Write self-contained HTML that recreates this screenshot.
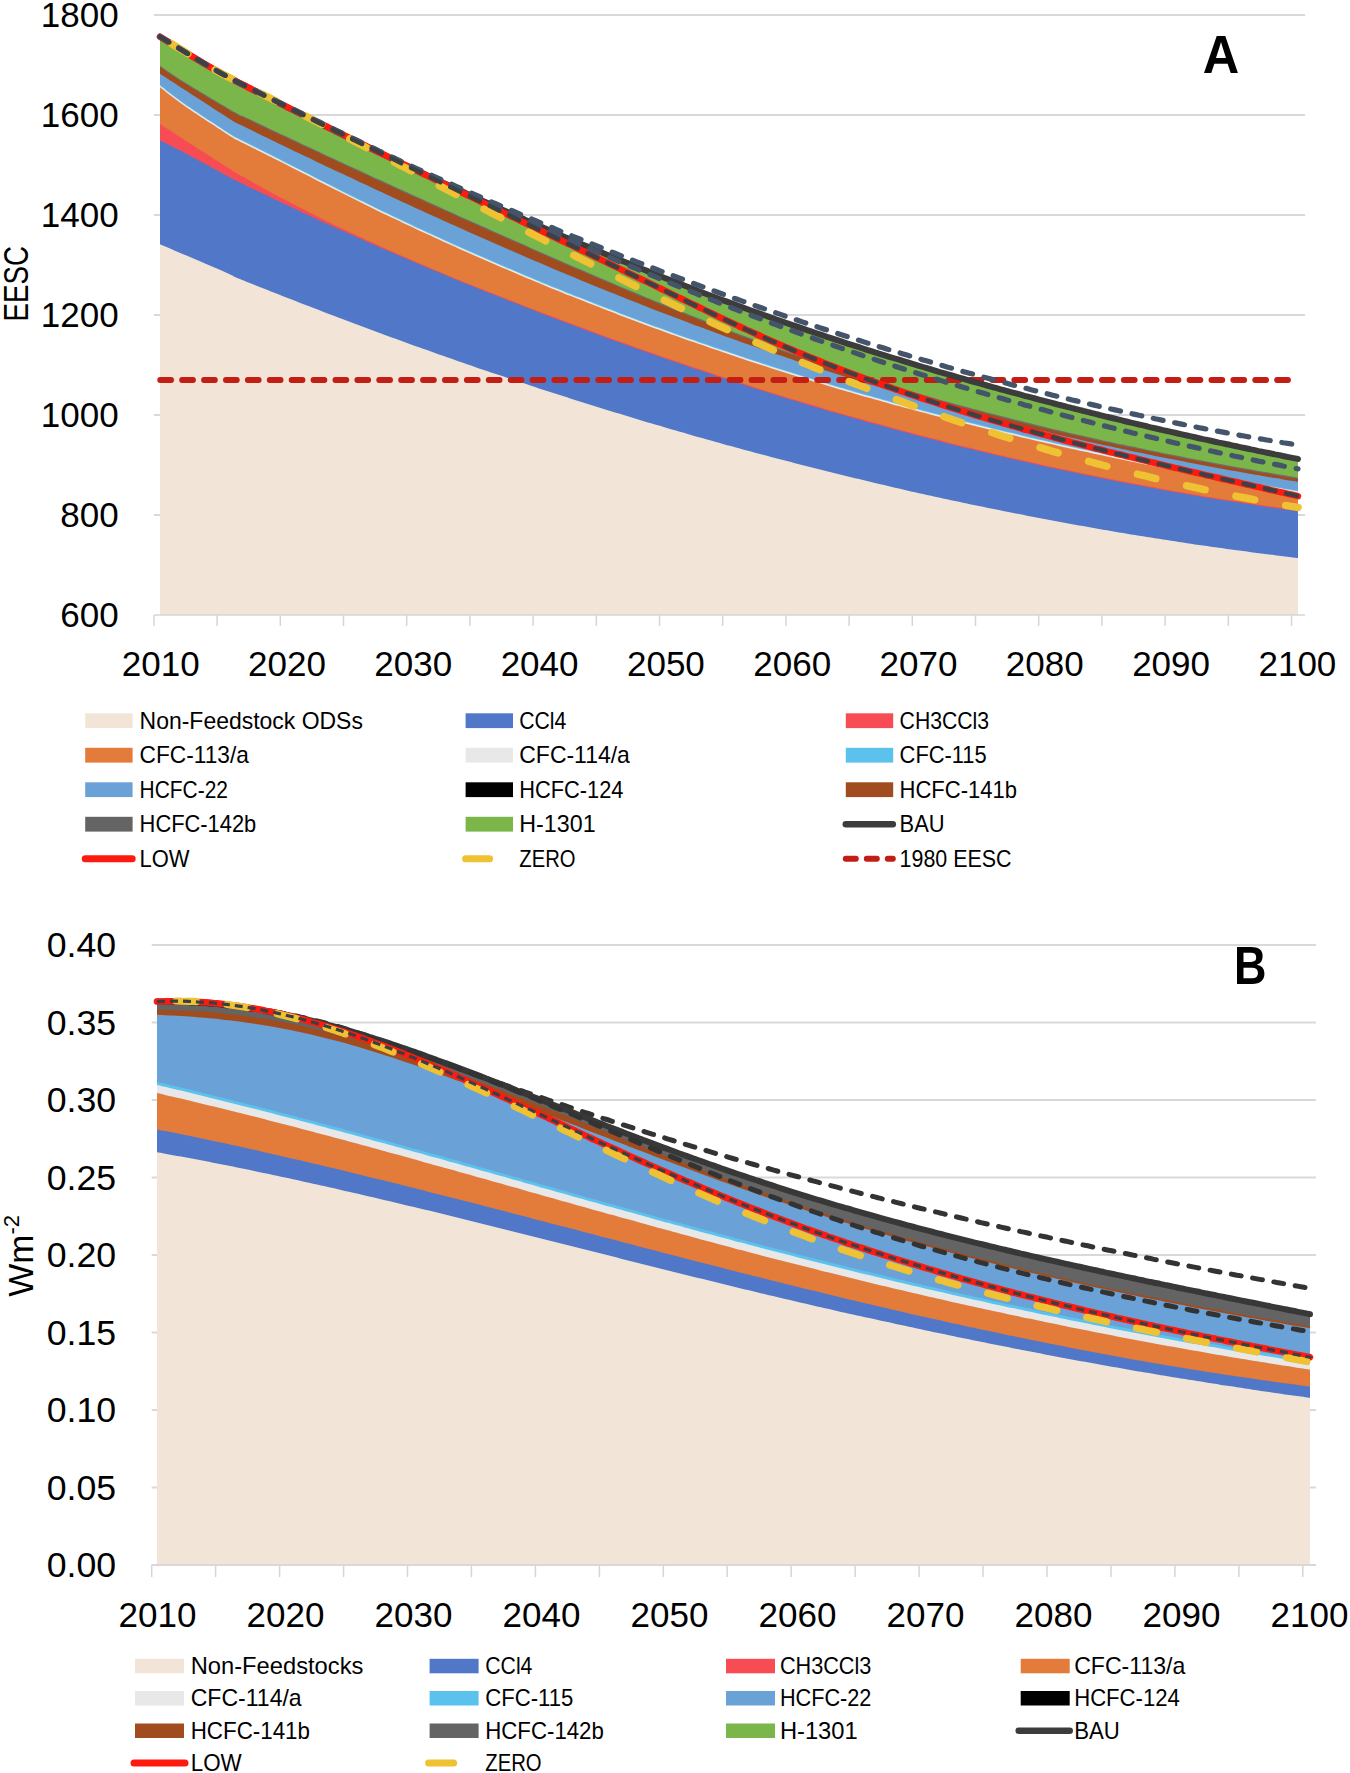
<!DOCTYPE html>
<html><head><meta charset="utf-8"><style>html,body{margin:0;padding:0;background:#fff;width:1350px;height:1773px;overflow:hidden}</style></head>
<body><svg width="1350" height="1773" viewBox="0 0 1350 1773" style="display:block;font-family:'Liberation Sans', sans-serif"><rect width="1350" height="1773" fill="#FFFFFF"/><line x1="154" y1="15" x2="1305" y2="15" stroke="#D9D9D9" stroke-width="2"/><line x1="154" y1="115" x2="1305" y2="115" stroke="#D9D9D9" stroke-width="2"/><line x1="154" y1="215" x2="1305" y2="215" stroke="#D9D9D9" stroke-width="2"/><line x1="154" y1="315" x2="1305" y2="315" stroke="#D9D9D9" stroke-width="2"/><line x1="154" y1="415" x2="1305" y2="415" stroke="#D9D9D9" stroke-width="2"/><line x1="154" y1="515" x2="1305" y2="515" stroke="#D9D9D9" stroke-width="2"/><path d="M160.0,36.7 C168.3,41.8 197.5,59.7 210.0,67.0 C222.5,74.3 229.5,77.6 235.0,80.6 C240.5,83.6 240.3,83.3 243.0,84.7 C245.7,86.1 248.3,87.5 251.0,88.8 C253.7,90.2 256.3,91.5 259.0,92.9 C261.7,94.3 264.3,95.6 267.0,97.0 C269.7,98.3 272.3,99.7 275.0,101.0 C277.7,102.4 280.3,103.7 283.0,105.1 C285.7,106.4 288.3,107.8 291.0,109.1 C293.7,110.4 296.3,111.8 299.0,113.1 C301.7,114.5 304.3,115.8 307.0,117.1 C309.7,118.5 312.3,119.8 315.0,121.1 C317.7,122.4 320.3,123.8 323.0,125.1 C325.7,126.4 328.3,127.7 331.0,129.0 C333.7,130.3 336.3,131.7 339.0,133.0 C341.7,134.3 344.3,135.6 347.0,136.9 C349.7,138.2 352.3,139.5 355.0,140.8 C357.7,142.1 360.3,143.4 363.0,144.7 C365.7,146.0 368.3,147.3 371.0,148.6 C373.7,149.8 376.3,151.1 379.0,152.4 C381.7,153.7 384.3,155.0 387.0,156.3 C389.7,157.5 392.3,158.8 395.0,160.1 C397.7,161.3 400.3,162.6 403.0,163.9 C405.7,165.1 408.3,166.4 411.0,167.7 C413.7,168.9 416.3,170.2 419.0,171.4 C421.7,172.7 424.3,173.9 427.0,175.2 C429.7,176.4 432.3,177.7 435.0,178.9 C437.7,180.2 440.3,181.4 443.0,182.7 C445.7,183.9 448.3,185.1 451.0,186.4 C453.7,187.6 456.3,188.8 459.0,190.0 C461.7,191.3 464.3,192.5 467.0,193.7 C469.7,194.9 472.3,196.1 475.0,197.3 C477.7,198.6 480.3,199.8 483.0,201.0 C485.7,202.2 488.3,203.4 491.0,204.6 C493.7,205.8 496.3,207.0 499.0,208.2 C501.7,209.4 504.3,210.5 507.0,211.7 C509.7,212.9 512.3,214.1 515.0,215.3 C517.7,216.5 520.3,217.6 523.0,218.8 C525.7,220.0 528.3,221.2 531.0,222.3 C533.7,223.5 536.3,224.7 539.0,225.8 C541.7,227.0 544.3,228.1 547.0,229.3 C549.7,230.4 552.3,231.6 555.0,232.7 C557.7,233.9 560.3,235.0 563.0,236.2 C565.7,237.3 568.3,238.4 571.0,239.6 C573.7,240.7 576.3,241.8 579.0,243.0 C581.7,244.1 584.3,245.2 587.0,246.3 C589.7,247.4 592.3,248.6 595.0,249.7 C597.7,250.8 600.3,251.9 603.0,253.0 C605.7,254.1 608.3,255.2 611.0,256.3 C613.7,257.4 616.3,258.5 619.0,259.6 C621.7,260.7 624.3,261.8 627.0,262.8 C629.7,263.9 632.3,265.0 635.0,266.1 C637.7,267.1 640.3,268.2 643.0,269.3 C645.7,270.4 648.3,271.4 651.0,272.5 C653.7,273.5 656.3,274.6 659.0,275.7 C661.7,276.7 664.3,277.8 667.0,278.8 C669.7,279.8 672.3,280.9 675.0,281.9 C677.7,283.0 680.3,284.0 683.0,285.0 C685.7,286.1 688.3,287.1 691.0,288.1 C693.7,289.1 696.3,290.1 699.0,291.2 C701.7,292.2 704.3,293.2 707.0,294.2 C709.7,295.2 712.3,296.2 715.0,297.2 C717.7,298.2 720.3,299.2 723.0,300.2 C725.7,301.2 728.3,302.2 731.0,303.1 C733.7,304.1 736.3,305.1 739.0,306.1 C741.7,307.1 744.3,308.0 747.0,309.0 C749.7,310.0 752.3,310.9 755.0,311.9 C757.7,312.8 760.3,313.8 763.0,314.7 C765.7,315.7 768.3,316.6 771.0,317.6 C773.7,318.5 776.3,319.5 779.0,320.4 C781.7,321.3 784.3,322.2 787.0,323.2 C789.7,324.1 792.3,325.0 795.0,325.9 C797.7,326.9 800.3,327.8 803.0,328.7 C805.7,329.6 808.3,330.5 811.0,331.4 C813.7,332.3 816.3,333.2 819.0,334.1 C821.7,335.0 824.3,335.9 827.0,336.8 C829.7,337.6 832.3,338.5 835.0,339.4 C837.7,340.3 840.3,341.2 843.0,342.0 C845.7,342.9 848.3,343.8 851.0,344.6 C853.7,345.5 856.3,346.3 859.0,347.2 C861.7,348.1 864.3,348.9 867.0,349.8 C869.7,350.6 872.3,351.4 875.0,352.3 C877.7,353.1 880.3,354.0 883.0,354.8 C885.7,355.6 888.3,356.5 891.0,357.3 C893.7,358.1 896.3,358.9 899.0,359.7 C901.7,360.6 904.3,361.4 907.0,362.2 C909.7,363.0 912.3,363.8 915.0,364.6 C917.7,365.4 920.3,366.2 923.0,367.0 C925.7,367.8 928.3,368.6 931.0,369.4 C933.7,370.2 936.3,371.0 939.0,371.8 C941.7,372.5 944.3,373.3 947.0,374.1 C949.7,374.9 952.3,375.6 955.0,376.4 C957.7,377.2 960.3,377.9 963.0,378.7 C965.7,379.5 968.3,380.2 971.0,381.0 C973.7,381.7 976.3,382.5 979.0,383.2 C981.7,384.0 984.3,384.7 987.0,385.5 C989.7,386.2 992.3,387.0 995.0,387.7 C997.7,388.4 1000.3,389.2 1003.0,389.9 C1005.7,390.6 1008.3,391.3 1011.0,392.1 C1013.7,392.8 1016.3,393.5 1019.0,394.2 C1021.7,394.9 1024.3,395.7 1027.0,396.4 C1029.7,397.1 1032.3,397.8 1035.0,398.5 C1037.7,399.2 1040.3,399.9 1043.0,400.6 C1045.7,401.3 1048.3,402.0 1051.0,402.7 C1053.7,403.4 1056.3,404.1 1059.0,404.8 C1061.7,405.4 1064.3,406.1 1067.0,406.8 C1069.7,407.5 1072.3,408.2 1075.0,408.8 C1077.7,409.5 1080.3,410.2 1083.0,410.8 C1085.7,411.5 1088.3,412.2 1091.0,412.8 C1093.7,413.5 1096.3,414.2 1099.0,414.8 C1101.7,415.5 1104.3,416.1 1107.0,416.8 C1109.7,417.4 1112.3,418.1 1115.0,418.7 C1117.7,419.4 1120.3,420.0 1123.0,420.7 C1125.7,421.3 1128.3,421.9 1131.0,422.6 C1133.7,423.2 1136.3,423.8 1139.0,424.5 C1141.7,425.1 1144.3,425.7 1147.0,426.3 C1149.7,427.0 1152.3,427.6 1155.0,428.2 C1157.7,428.8 1160.3,429.4 1163.0,430.1 C1165.7,430.7 1168.3,431.3 1171.0,431.9 C1173.7,432.5 1176.3,433.1 1179.0,433.7 C1181.7,434.3 1184.3,434.9 1187.0,435.5 C1189.7,436.1 1192.3,436.7 1195.0,437.3 C1197.7,437.9 1200.3,438.5 1203.0,439.1 C1205.7,439.6 1208.3,440.2 1211.0,440.8 C1213.7,441.4 1216.3,442.0 1219.0,442.6 C1221.7,443.1 1224.3,443.7 1227.0,444.3 C1229.7,444.9 1232.3,445.4 1235.0,446.0 C1237.7,446.6 1240.3,447.1 1243.0,447.7 C1245.7,448.3 1248.3,448.8 1251.0,449.4 C1253.7,449.9 1256.3,450.5 1259.0,451.1 C1261.7,451.6 1264.3,452.2 1267.0,452.7 C1269.7,453.3 1272.3,453.8 1275.0,454.4 C1277.7,454.9 1280.3,455.4 1283.0,456.0 C1285.7,456.5 1288.5,457.1 1291.0,457.6 C1293.5,458.1 1296.8,458.8 1298.0,459.0 L1298.0,615 L160.0,615 Z" fill="#7AB64A"/><path d="M160.0,65.7 C164.2,68.5 172.5,74.7 185.0,82.4 C197.5,90.1 225.3,106.6 235.0,112.2 C244.7,117.8 240.3,114.7 243.0,116.0 C245.7,117.3 248.3,118.5 251.0,119.8 C253.7,121.1 256.3,122.4 259.0,123.6 C261.7,124.9 264.3,126.2 267.0,127.4 C269.7,128.7 272.3,129.9 275.0,131.2 C277.7,132.5 280.3,133.7 283.0,135.0 C285.7,136.2 288.3,137.5 291.0,138.8 C293.7,140.0 296.3,141.3 299.0,142.5 C301.7,143.8 304.3,145.0 307.0,146.3 C309.7,147.5 312.3,148.8 315.0,150.0 C317.7,151.2 320.3,152.5 323.0,153.7 C325.7,155.0 328.3,156.2 331.0,157.5 C333.7,158.7 336.3,159.9 339.0,161.2 C341.7,162.4 344.3,163.6 347.0,164.9 C349.7,166.1 352.3,167.3 355.0,168.6 C357.7,169.8 360.3,171.0 363.0,172.3 C365.7,173.5 368.3,174.7 371.0,175.9 C373.7,177.2 376.3,178.4 379.0,179.6 C381.7,180.8 384.3,182.0 387.0,183.3 C389.7,184.5 392.3,185.7 395.0,186.9 C397.7,188.1 400.3,189.4 403.0,190.6 C405.7,191.8 408.3,193.0 411.0,194.2 C413.7,195.4 416.3,196.6 419.0,197.8 C421.7,199.0 424.3,200.2 427.0,201.5 C429.7,202.7 432.3,203.9 435.0,205.1 C437.7,206.3 440.3,207.5 443.0,208.7 C445.7,209.9 448.3,211.1 451.0,212.3 C453.7,213.5 456.3,214.7 459.0,215.9 C461.7,217.1 464.3,218.3 467.0,219.4 C469.7,220.6 472.3,221.8 475.0,223.0 C477.7,224.2 480.3,225.4 483.0,226.6 C485.7,227.8 488.3,229.0 491.0,230.2 C493.7,231.3 496.3,232.5 499.0,233.7 C501.7,234.9 504.3,236.1 507.0,237.3 C509.7,238.5 512.3,239.6 515.0,240.8 C517.7,242.0 520.3,243.2 523.0,244.3 C525.7,245.5 528.3,246.7 531.0,247.9 C533.7,249.1 536.3,250.2 539.0,251.4 C541.7,252.6 544.3,253.7 547.0,254.9 C549.7,256.1 552.3,257.2 555.0,258.4 C557.7,259.6 560.3,260.7 563.0,261.9 C565.7,263.1 568.3,264.2 571.0,265.4 C573.7,266.5 576.3,267.7 579.0,268.8 C581.7,270.0 584.3,271.1 587.0,272.3 C589.7,273.4 592.3,274.6 595.0,275.7 C597.7,276.9 600.3,278.0 603.0,279.1 C605.7,280.3 608.3,281.4 611.0,282.5 C613.7,283.7 616.3,284.8 619.0,285.9 C621.7,287.1 624.3,288.2 627.0,289.3 C629.7,290.4 632.3,291.5 635.0,292.6 C637.7,293.8 640.3,294.9 643.0,296.0 C645.7,297.1 648.3,298.2 651.0,299.3 C653.7,300.4 656.3,301.5 659.0,302.6 C661.7,303.7 664.3,304.7 667.0,305.8 C669.7,306.9 672.3,308.0 675.0,309.1 C677.7,310.1 680.3,311.2 683.0,312.3 C685.7,313.4 688.3,314.4 691.0,315.5 C693.7,316.5 696.3,317.6 699.0,318.6 C701.7,319.7 704.3,320.7 707.0,321.8 C709.7,322.8 712.3,323.9 715.0,324.9 C717.7,325.9 720.3,327.0 723.0,328.0 C725.7,329.0 728.3,330.0 731.0,331.0 C733.7,332.0 736.3,333.0 739.0,334.1 C741.7,335.1 744.3,336.0 747.0,337.0 C749.7,338.0 752.3,339.0 755.0,340.0 C757.7,341.0 760.3,342.0 763.0,342.9 C765.7,343.9 768.3,344.9 771.0,345.8 C773.7,346.8 776.3,347.7 779.0,348.7 C781.7,349.6 784.3,350.6 787.0,351.5 C789.7,352.4 792.3,353.4 795.0,354.3 C797.7,355.2 800.3,356.2 803.0,357.1 C805.7,358.0 808.3,358.9 811.0,359.8 C813.7,360.7 816.3,361.6 819.0,362.5 C821.7,363.4 824.3,364.3 827.0,365.2 C829.7,366.1 832.3,366.9 835.0,367.8 C837.7,368.7 840.3,369.6 843.0,370.4 C845.7,371.3 848.3,372.1 851.0,373.0 C853.7,373.8 856.3,374.7 859.0,375.5 C861.7,376.4 864.3,377.2 867.0,378.1 C869.7,378.9 872.3,379.7 875.0,380.5 C877.7,381.4 880.3,382.2 883.0,383.0 C885.7,383.8 888.3,384.6 891.0,385.4 C893.7,386.2 896.3,387.0 899.0,387.8 C901.7,388.6 904.3,389.4 907.0,390.2 C909.7,391.0 912.3,391.8 915.0,392.6 C917.7,393.3 920.3,394.1 923.0,394.9 C925.7,395.6 928.3,396.4 931.0,397.2 C933.7,397.9 936.3,398.7 939.0,399.4 C941.7,400.2 944.3,400.9 947.0,401.7 C949.7,402.4 952.3,403.1 955.0,403.9 C957.7,404.6 960.3,405.3 963.0,406.1 C965.7,406.8 968.3,407.5 971.0,408.2 C973.7,408.9 976.3,409.6 979.0,410.3 C981.7,411.0 984.3,411.7 987.0,412.4 C989.7,413.1 992.3,413.8 995.0,414.5 C997.7,415.2 1000.3,415.9 1003.0,416.6 C1005.7,417.3 1008.3,417.9 1011.0,418.6 C1013.7,419.3 1016.3,420.0 1019.0,420.6 C1021.7,421.3 1024.3,421.9 1027.0,422.6 C1029.7,423.3 1032.3,423.9 1035.0,424.6 C1037.7,425.2 1040.3,425.9 1043.0,426.5 C1045.7,427.1 1048.3,427.8 1051.0,428.4 C1053.7,429.0 1056.3,429.7 1059.0,430.3 C1061.7,430.9 1064.3,431.5 1067.0,432.2 C1069.7,432.8 1072.3,433.4 1075.0,434.0 C1077.7,434.6 1080.3,435.2 1083.0,435.8 C1085.7,436.4 1088.3,437.0 1091.0,437.6 C1093.7,438.2 1096.3,438.8 1099.0,439.4 C1101.7,440.0 1104.3,440.6 1107.0,441.2 C1109.7,441.8 1112.3,442.3 1115.0,442.9 C1117.7,443.5 1120.3,444.1 1123.0,444.6 C1125.7,445.2 1128.3,445.8 1131.0,446.3 C1133.7,446.9 1136.3,447.4 1139.0,448.0 C1141.7,448.6 1144.3,449.1 1147.0,449.7 C1149.7,450.2 1152.3,450.8 1155.0,451.3 C1157.7,451.8 1160.3,452.4 1163.0,452.9 C1165.7,453.4 1168.3,454.0 1171.0,454.5 C1173.7,455.0 1176.3,455.6 1179.0,456.1 C1181.7,456.6 1184.3,457.1 1187.0,457.7 C1189.7,458.2 1192.3,458.7 1195.0,459.2 C1197.7,459.7 1200.3,460.2 1203.0,460.7 C1205.7,461.2 1208.3,461.7 1211.0,462.2 C1213.7,462.7 1216.3,463.2 1219.0,463.7 C1221.7,464.2 1224.3,464.7 1227.0,465.2 C1229.7,465.7 1232.3,466.2 1235.0,466.7 C1237.7,467.1 1240.3,467.6 1243.0,468.1 C1245.7,468.6 1248.3,469.1 1251.0,469.5 C1253.7,470.0 1256.3,470.5 1259.0,470.9 C1261.7,471.4 1264.3,471.9 1267.0,472.3 C1269.7,472.8 1272.3,473.3 1275.0,473.7 C1277.7,474.2 1280.3,474.6 1283.0,475.1 C1285.7,475.5 1288.5,476.0 1291.0,476.4 C1293.5,476.9 1296.8,477.4 1298.0,477.6 L1298.0,615 L160.0,615 Z" fill="#6E6E6E"/><path d="M160.0,67.0 C164.2,69.8 172.5,76.0 185.0,83.7 C197.5,91.4 225.3,107.9 235.0,113.5 C244.7,119.1 240.3,116.0 243.0,117.3 C245.7,118.6 248.3,119.8 251.0,121.1 C253.7,122.4 256.3,123.7 259.0,124.9 C261.7,126.2 264.3,127.5 267.0,128.7 C269.7,130.0 272.3,131.2 275.0,132.5 C277.7,133.8 280.3,135.0 283.0,136.3 C285.7,137.5 288.3,138.8 291.0,140.1 C293.7,141.3 296.3,142.6 299.0,143.8 C301.7,145.1 304.3,146.3 307.0,147.6 C309.7,148.8 312.3,150.1 315.0,151.3 C317.7,152.5 320.3,153.8 323.0,155.0 C325.7,156.3 328.3,157.5 331.0,158.8 C333.7,160.0 336.3,161.2 339.0,162.5 C341.7,163.7 344.3,164.9 347.0,166.2 C349.7,167.4 352.3,168.6 355.0,169.9 C357.7,171.1 360.3,172.3 363.0,173.6 C365.7,174.8 368.3,176.0 371.0,177.2 C373.7,178.5 376.3,179.7 379.0,180.9 C381.7,182.1 384.3,183.3 387.0,184.6 C389.7,185.8 392.3,187.0 395.0,188.2 C397.7,189.4 400.3,190.7 403.0,191.9 C405.7,193.1 408.3,194.3 411.0,195.5 C413.7,196.7 416.3,197.9 419.0,199.1 C421.7,200.3 424.3,201.5 427.0,202.8 C429.7,204.0 432.3,205.2 435.0,206.4 C437.7,207.6 440.3,208.8 443.0,210.0 C445.7,211.2 448.3,212.4 451.0,213.6 C453.7,214.8 456.3,216.0 459.0,217.2 C461.7,218.4 464.3,219.6 467.0,220.7 C469.7,221.9 472.3,223.1 475.0,224.3 C477.7,225.5 480.3,226.7 483.0,227.9 C485.7,229.1 488.3,230.3 491.0,231.5 C493.7,232.6 496.3,233.8 499.0,235.0 C501.7,236.2 504.3,237.4 507.0,238.6 C509.7,239.8 512.3,240.9 515.0,242.1 C517.7,243.3 520.3,244.5 523.0,245.6 C525.7,246.8 528.3,248.0 531.0,249.2 C533.7,250.4 536.3,251.5 539.0,252.7 C541.7,253.9 544.3,255.0 547.0,256.2 C549.7,257.4 552.3,258.5 555.0,259.7 C557.7,260.9 560.3,262.0 563.0,263.2 C565.7,264.4 568.3,265.5 571.0,266.7 C573.7,267.8 576.3,269.0 579.0,270.1 C581.7,271.3 584.3,272.4 587.0,273.6 C589.7,274.7 592.3,275.9 595.0,277.0 C597.7,278.2 600.3,279.3 603.0,280.4 C605.7,281.6 608.3,282.7 611.0,283.8 C613.7,285.0 616.3,286.1 619.0,287.2 C621.7,288.4 624.3,289.5 627.0,290.6 C629.7,291.7 632.3,292.8 635.0,293.9 C637.7,295.1 640.3,296.2 643.0,297.3 C645.7,298.4 648.3,299.5 651.0,300.6 C653.7,301.7 656.3,302.8 659.0,303.9 C661.7,305.0 664.3,306.0 667.0,307.1 C669.7,308.2 672.3,309.3 675.0,310.4 C677.7,311.4 680.3,312.5 683.0,313.6 C685.7,314.7 688.3,315.7 691.0,316.8 C693.7,317.8 696.3,318.9 699.0,319.9 C701.7,321.0 704.3,322.0 707.0,323.1 C709.7,324.1 712.3,325.2 715.0,326.2 C717.7,327.2 720.3,328.3 723.0,329.3 C725.7,330.3 728.3,331.3 731.0,332.3 C733.7,333.3 736.3,334.3 739.0,335.4 C741.7,336.4 744.3,337.3 747.0,338.3 C749.7,339.3 752.3,340.3 755.0,341.3 C757.7,342.3 760.3,343.3 763.0,344.2 C765.7,345.2 768.3,346.2 771.0,347.1 C773.7,348.1 776.3,349.0 779.0,350.0 C781.7,350.9 784.3,351.9 787.0,352.8 C789.7,353.7 792.3,354.7 795.0,355.6 C797.7,356.5 800.3,357.5 803.0,358.4 C805.7,359.3 808.3,360.2 811.0,361.1 C813.7,362.0 816.3,362.9 819.0,363.8 C821.7,364.7 824.3,365.6 827.0,366.5 C829.7,367.4 832.3,368.2 835.0,369.1 C837.7,370.0 840.3,370.9 843.0,371.7 C845.7,372.6 848.3,373.4 851.0,374.3 C853.7,375.1 856.3,376.0 859.0,376.8 C861.7,377.7 864.3,378.5 867.0,379.4 C869.7,380.2 872.3,381.0 875.0,381.8 C877.7,382.7 880.3,383.5 883.0,384.3 C885.7,385.1 888.3,385.9 891.0,386.7 C893.7,387.5 896.3,388.3 899.0,389.1 C901.7,389.9 904.3,390.7 907.0,391.5 C909.7,392.3 912.3,393.1 915.0,393.9 C917.7,394.6 920.3,395.4 923.0,396.2 C925.7,396.9 928.3,397.7 931.0,398.5 C933.7,399.2 936.3,400.0 939.0,400.7 C941.7,401.5 944.3,402.2 947.0,403.0 C949.7,403.7 952.3,404.4 955.0,405.2 C957.7,405.9 960.3,406.6 963.0,407.4 C965.7,408.1 968.3,408.8 971.0,409.5 C973.7,410.2 976.3,410.9 979.0,411.6 C981.7,412.3 984.3,413.0 987.0,413.7 C989.7,414.4 992.3,415.1 995.0,415.8 C997.7,416.5 1000.3,417.2 1003.0,417.9 C1005.7,418.6 1008.3,419.2 1011.0,419.9 C1013.7,420.6 1016.3,421.3 1019.0,421.9 C1021.7,422.6 1024.3,423.2 1027.0,423.9 C1029.7,424.6 1032.3,425.2 1035.0,425.9 C1037.7,426.5 1040.3,427.2 1043.0,427.8 C1045.7,428.4 1048.3,429.1 1051.0,429.7 C1053.7,430.3 1056.3,431.0 1059.0,431.6 C1061.7,432.2 1064.3,432.8 1067.0,433.5 C1069.7,434.1 1072.3,434.7 1075.0,435.3 C1077.7,435.9 1080.3,436.5 1083.0,437.1 C1085.7,437.7 1088.3,438.3 1091.0,438.9 C1093.7,439.5 1096.3,440.1 1099.0,440.7 C1101.7,441.3 1104.3,441.9 1107.0,442.5 C1109.7,443.1 1112.3,443.6 1115.0,444.2 C1117.7,444.8 1120.3,445.4 1123.0,445.9 C1125.7,446.5 1128.3,447.1 1131.0,447.6 C1133.7,448.2 1136.3,448.7 1139.0,449.3 C1141.7,449.9 1144.3,450.4 1147.0,451.0 C1149.7,451.5 1152.3,452.1 1155.0,452.6 C1157.7,453.1 1160.3,453.7 1163.0,454.2 C1165.7,454.7 1168.3,455.3 1171.0,455.8 C1173.7,456.3 1176.3,456.9 1179.0,457.4 C1181.7,457.9 1184.3,458.4 1187.0,459.0 C1189.7,459.5 1192.3,460.0 1195.0,460.5 C1197.7,461.0 1200.3,461.5 1203.0,462.0 C1205.7,462.5 1208.3,463.0 1211.0,463.5 C1213.7,464.0 1216.3,464.5 1219.0,465.0 C1221.7,465.5 1224.3,466.0 1227.0,466.5 C1229.7,467.0 1232.3,467.5 1235.0,468.0 C1237.7,468.4 1240.3,468.9 1243.0,469.4 C1245.7,469.9 1248.3,470.4 1251.0,470.8 C1253.7,471.3 1256.3,471.8 1259.0,472.2 C1261.7,472.7 1264.3,473.2 1267.0,473.6 C1269.7,474.1 1272.3,474.6 1275.0,475.0 C1277.7,475.5 1280.3,475.9 1283.0,476.4 C1285.7,476.8 1288.5,477.3 1291.0,477.7 C1293.5,478.2 1296.8,478.7 1298.0,478.9 L1298.0,615 L160.0,615 Z" fill="#A04C1E"/><path d="M160.0,73.7 C164.2,76.4 172.7,82.0 185.0,90.0 C197.3,98.0 225.7,116.3 234.0,121.7 C242.3,127.1 233.5,121.5 235.0,122.2 C236.5,123.0 240.3,124.8 243.0,126.1 C245.7,127.4 248.3,128.7 251.0,130.0 C253.7,131.3 256.3,132.6 259.0,133.9 C261.7,135.2 264.3,136.5 267.0,137.8 C269.7,139.1 272.3,140.4 275.0,141.7 C277.7,143.0 280.3,144.2 283.0,145.5 C285.7,146.8 288.3,148.1 291.0,149.4 C293.7,150.7 296.3,151.9 299.0,153.2 C301.7,154.5 304.3,155.8 307.0,157.1 C309.7,158.3 312.3,159.6 315.0,160.9 C317.7,162.2 320.3,163.4 323.0,164.7 C325.7,166.0 328.3,167.2 331.0,168.5 C333.7,169.8 336.3,171.0 339.0,172.3 C341.7,173.5 344.3,174.8 347.0,176.1 C349.7,177.3 352.3,178.6 355.0,179.8 C357.7,181.1 360.3,182.3 363.0,183.6 C365.7,184.8 368.3,186.1 371.0,187.3 C373.7,188.6 376.3,189.8 379.0,191.1 C381.7,192.3 384.3,193.5 387.0,194.8 C389.7,196.0 392.3,197.2 395.0,198.5 C397.7,199.7 400.3,200.9 403.0,202.2 C405.7,203.4 408.3,204.6 411.0,205.8 C413.7,207.1 416.3,208.3 419.0,209.5 C421.7,210.7 424.3,211.9 427.0,213.2 C429.7,214.4 432.3,215.6 435.0,216.8 C437.7,218.0 440.3,219.2 443.0,220.4 C445.7,221.6 448.3,222.8 451.0,224.0 C453.7,225.2 456.3,226.4 459.0,227.6 C461.7,228.8 464.3,230.0 467.0,231.2 C469.7,232.4 472.3,233.6 475.0,234.7 C477.7,235.9 480.3,237.1 483.0,238.3 C485.7,239.5 488.3,240.6 491.0,241.8 C493.7,243.0 496.3,244.1 499.0,245.3 C501.7,246.5 504.3,247.6 507.0,248.8 C509.7,250.0 512.3,251.1 515.0,252.3 C517.7,253.4 520.3,254.6 523.0,255.7 C525.7,256.9 528.3,258.0 531.0,259.2 C533.7,260.3 536.3,261.5 539.0,262.6 C541.7,263.7 544.3,264.9 547.0,266.0 C549.7,267.1 552.3,268.2 555.0,269.4 C557.7,270.5 560.3,271.6 563.0,272.7 C565.7,273.8 568.3,275.0 571.0,276.1 C573.7,277.2 576.3,278.3 579.0,279.4 C581.7,280.5 584.3,281.6 587.0,282.7 C589.7,283.8 592.3,284.9 595.0,286.0 C597.7,287.1 600.3,288.2 603.0,289.2 C605.7,290.3 608.3,291.4 611.0,292.5 C613.7,293.6 616.3,294.6 619.0,295.7 C621.7,296.8 624.3,297.8 627.0,298.9 C629.7,300.0 632.3,301.0 635.0,302.1 C637.7,303.1 640.3,304.2 643.0,305.2 C645.7,306.3 648.3,307.3 651.0,308.4 C653.7,309.4 656.3,310.4 659.0,311.5 C661.7,312.5 664.3,313.5 667.0,314.5 C669.7,315.6 672.3,316.6 675.0,317.6 C677.7,318.6 680.3,319.6 683.0,320.6 C685.7,321.6 688.3,322.7 691.0,323.7 C693.7,324.7 696.3,325.6 699.0,326.6 C701.7,327.6 704.3,328.6 707.0,329.6 C709.7,330.6 712.3,331.6 715.0,332.5 C717.7,333.5 720.3,334.5 723.0,335.5 C725.7,336.4 728.3,337.4 731.0,338.3 C733.7,339.3 736.3,340.3 739.0,341.2 C741.7,342.2 744.3,343.1 747.0,344.0 C749.7,345.0 752.3,345.9 755.0,346.8 C757.7,347.8 760.3,348.7 763.0,349.6 C765.7,350.6 768.3,351.5 771.0,352.4 C773.7,353.3 776.3,354.2 779.0,355.1 C781.7,356.0 784.3,356.9 787.0,357.8 C789.7,358.7 792.3,359.6 795.0,360.5 C797.7,361.4 800.3,362.3 803.0,363.1 C805.7,364.0 808.3,364.9 811.0,365.8 C813.7,366.6 816.3,367.5 819.0,368.4 C821.7,369.2 824.3,370.1 827.0,370.9 C829.7,371.8 832.3,372.6 835.0,373.5 C837.7,374.3 840.3,375.2 843.0,376.0 C845.7,376.8 848.3,377.7 851.0,378.5 C853.7,379.3 856.3,380.2 859.0,381.0 C861.7,381.8 864.3,382.6 867.0,383.4 C869.7,384.2 872.3,385.0 875.0,385.8 C877.7,386.6 880.3,387.4 883.0,388.2 C885.7,389.0 888.3,389.8 891.0,390.6 C893.7,391.4 896.3,392.2 899.0,392.9 C901.7,393.7 904.3,394.5 907.0,395.3 C909.7,396.0 912.3,396.8 915.0,397.6 C917.7,398.3 920.3,399.1 923.0,399.8 C925.7,400.6 928.3,401.3 931.0,402.1 C933.7,402.8 936.3,403.6 939.0,404.3 C941.7,405.0 944.3,405.8 947.0,406.5 C949.7,407.2 952.3,408.0 955.0,408.7 C957.7,409.4 960.3,410.1 963.0,410.8 C965.7,411.6 968.3,412.3 971.0,413.0 C973.7,413.7 976.3,414.4 979.0,415.1 C981.7,415.8 984.3,416.5 987.0,417.2 C989.7,417.9 992.3,418.5 995.0,419.2 C997.7,419.9 1000.3,420.6 1003.0,421.3 C1005.7,421.9 1008.3,422.6 1011.0,423.3 C1013.7,424.0 1016.3,424.6 1019.0,425.3 C1021.7,425.9 1024.3,426.6 1027.0,427.2 C1029.7,427.9 1032.3,428.6 1035.0,429.2 C1037.7,429.8 1040.3,430.5 1043.0,431.1 C1045.7,431.8 1048.3,432.4 1051.0,433.0 C1053.7,433.7 1056.3,434.3 1059.0,434.9 C1061.7,435.5 1064.3,436.2 1067.0,436.8 C1069.7,437.4 1072.3,438.0 1075.0,438.6 C1077.7,439.2 1080.3,439.8 1083.0,440.4 C1085.7,441.0 1088.3,441.6 1091.0,442.2 C1093.7,442.8 1096.3,443.4 1099.0,444.0 C1101.7,444.6 1104.3,445.2 1107.0,445.8 C1109.7,446.3 1112.3,446.9 1115.0,447.5 C1117.7,448.1 1120.3,448.6 1123.0,449.2 C1125.7,449.8 1128.3,450.3 1131.0,450.9 C1133.7,451.5 1136.3,452.0 1139.0,452.6 C1141.7,453.1 1144.3,453.7 1147.0,454.2 C1149.7,454.8 1152.3,455.3 1155.0,455.9 C1157.7,456.4 1160.3,456.9 1163.0,457.5 C1165.7,458.0 1168.3,458.5 1171.0,459.1 C1173.7,459.6 1176.3,460.1 1179.0,460.6 C1181.7,461.2 1184.3,461.7 1187.0,462.2 C1189.7,462.7 1192.3,463.2 1195.0,463.7 C1197.7,464.2 1200.3,464.8 1203.0,465.3 C1205.7,465.8 1208.3,466.3 1211.0,466.8 C1213.7,467.2 1216.3,467.7 1219.0,468.2 C1221.7,468.7 1224.3,469.2 1227.0,469.7 C1229.7,470.2 1232.3,470.7 1235.0,471.1 C1237.7,471.6 1240.3,472.1 1243.0,472.6 C1245.7,473.0 1248.3,473.5 1251.0,474.0 C1253.7,474.4 1256.3,474.9 1259.0,475.3 C1261.7,475.8 1264.3,476.3 1267.0,476.7 C1269.7,477.2 1272.3,477.6 1275.0,478.1 C1277.7,478.5 1280.3,478.9 1283.0,479.4 C1285.7,479.8 1288.5,480.3 1291.0,480.7 C1293.5,481.1 1296.8,481.6 1298.0,481.8 L1298.0,615 L160.0,615 Z" fill="#6AA2D7"/><path d="M160.0,84.8 C164.2,88.0 172.7,95.2 185.0,103.7 C197.3,112.2 225.7,130.5 234.0,136.0 C242.3,141.5 233.5,135.7 235.0,136.4 C236.5,137.1 240.3,139.1 243.0,140.4 C245.7,141.7 248.3,143.0 251.0,144.4 C253.7,145.7 256.3,147.1 259.0,148.4 C261.7,149.7 264.3,151.1 267.0,152.4 C269.7,153.8 272.3,155.1 275.0,156.5 C277.7,157.9 280.3,159.2 283.0,160.6 C285.7,161.9 288.3,163.3 291.0,164.7 C293.7,166.0 296.3,167.4 299.0,168.7 C301.7,170.1 304.3,171.5 307.0,172.8 C309.7,174.2 312.3,175.5 315.0,176.9 C317.7,178.3 320.3,179.6 323.0,181.0 C325.7,182.3 328.3,183.7 331.0,185.0 C333.7,186.4 336.3,187.7 339.0,189.1 C341.7,190.4 344.3,191.7 347.0,193.1 C349.7,194.4 352.3,195.7 355.0,197.1 C357.7,198.4 360.3,199.7 363.0,201.0 C365.7,202.3 368.3,203.7 371.0,205.0 C373.7,206.3 376.3,207.6 379.0,208.9 C381.7,210.2 384.3,211.4 387.0,212.7 C389.7,214.0 392.3,215.3 395.0,216.6 C397.7,217.8 400.3,219.1 403.0,220.4 C405.7,221.6 408.3,222.9 411.0,224.1 C413.7,225.4 416.3,226.6 419.0,227.9 C421.7,229.1 424.3,230.4 427.0,231.6 C429.7,232.8 432.3,234.1 435.0,235.3 C437.7,236.5 440.3,237.7 443.0,238.9 C445.7,240.1 448.3,241.4 451.0,242.6 C453.7,243.8 456.3,245.0 459.0,246.2 C461.7,247.3 464.3,248.5 467.0,249.7 C469.7,250.9 472.3,252.1 475.0,253.3 C477.7,254.4 480.3,255.6 483.0,256.8 C485.7,257.9 488.3,259.1 491.0,260.3 C493.7,261.4 496.3,262.6 499.0,263.7 C501.7,264.9 504.3,266.0 507.0,267.1 C509.7,268.3 512.3,269.4 515.0,270.5 C517.7,271.7 520.3,272.8 523.0,273.9 C525.7,275.0 528.3,276.2 531.0,277.3 C533.7,278.4 536.3,279.5 539.0,280.6 C541.7,281.7 544.3,282.8 547.0,283.9 C549.7,285.0 552.3,286.1 555.0,287.2 C557.7,288.2 560.3,289.3 563.0,290.4 C565.7,291.5 568.3,292.6 571.0,293.6 C573.7,294.7 576.3,295.8 579.0,296.8 C581.7,297.9 584.3,298.9 587.0,300.0 C589.7,301.0 592.3,302.1 595.0,303.1 C597.7,304.2 600.3,305.2 603.0,306.2 C605.7,307.3 608.3,308.3 611.0,309.3 C613.7,310.3 616.3,311.4 619.0,312.4 C621.7,313.4 624.3,314.4 627.0,315.4 C629.7,316.4 632.3,317.4 635.0,318.4 C637.7,319.4 640.3,320.4 643.0,321.4 C645.7,322.4 648.3,323.4 651.0,324.4 C653.7,325.3 656.3,326.3 659.0,327.3 C661.7,328.3 664.3,329.2 667.0,330.2 C669.7,331.2 672.3,332.1 675.0,333.1 C677.7,334.0 680.3,335.0 683.0,335.9 C685.7,336.9 688.3,337.8 691.0,338.8 C693.7,339.7 696.3,340.6 699.0,341.6 C701.7,342.5 704.3,343.4 707.0,344.3 C709.7,345.3 712.3,346.2 715.0,347.1 C717.7,348.0 720.3,348.9 723.0,349.8 C725.7,350.7 728.3,351.6 731.0,352.5 C733.7,353.4 736.3,354.3 739.0,355.2 C741.7,356.1 744.3,357.0 747.0,357.9 C749.7,358.7 752.3,359.6 755.0,360.5 C757.7,361.4 760.3,362.2 763.0,363.1 C765.7,363.9 768.3,364.8 771.0,365.7 C773.7,366.5 776.3,367.4 779.0,368.2 C781.7,369.1 784.3,369.9 787.0,370.7 C789.7,371.6 792.3,372.4 795.0,373.2 C797.7,374.1 800.3,374.9 803.0,375.7 C805.7,376.5 808.3,377.4 811.0,378.2 C813.7,379.0 816.3,379.8 819.0,380.6 C821.7,381.4 824.3,382.2 827.0,383.0 C829.7,383.8 832.3,384.6 835.0,385.4 C837.7,386.2 840.3,387.0 843.0,387.7 C845.7,388.5 848.3,389.3 851.0,390.1 C853.7,390.9 856.3,391.6 859.0,392.4 C861.7,393.2 864.3,393.9 867.0,394.7 C869.7,395.4 872.3,396.2 875.0,397.0 C877.7,397.7 880.3,398.5 883.0,399.2 C885.7,399.9 888.3,400.7 891.0,401.4 C893.7,402.2 896.3,402.9 899.0,403.6 C901.7,404.4 904.3,405.1 907.0,405.8 C909.7,406.5 912.3,407.3 915.0,408.0 C917.7,408.7 920.3,409.4 923.0,410.1 C925.7,410.8 928.3,411.5 931.0,412.2 C933.7,412.9 936.3,413.6 939.0,414.3 C941.7,415.0 944.3,415.7 947.0,416.4 C949.7,417.1 952.3,417.8 955.0,418.5 C957.7,419.1 960.3,419.8 963.0,420.5 C965.7,421.2 968.3,421.8 971.0,422.5 C973.7,423.2 976.3,423.8 979.0,424.5 C981.7,425.2 984.3,425.8 987.0,426.5 C989.7,427.1 992.3,427.8 995.0,428.4 C997.7,429.1 1000.3,429.7 1003.0,430.4 C1005.7,431.0 1008.3,431.7 1011.0,432.3 C1013.7,432.9 1016.3,433.6 1019.0,434.2 C1021.7,434.8 1024.3,435.5 1027.0,436.1 C1029.7,436.7 1032.3,437.3 1035.0,438.0 C1037.7,438.6 1040.3,439.2 1043.0,439.8 C1045.7,440.4 1048.3,441.0 1051.0,441.6 C1053.7,442.2 1056.3,442.8 1059.0,443.4 C1061.7,444.0 1064.3,444.6 1067.0,445.2 C1069.7,445.8 1072.3,446.4 1075.0,447.0 C1077.7,447.6 1080.3,448.2 1083.0,448.8 C1085.7,449.4 1088.3,449.9 1091.0,450.5 C1093.7,451.1 1096.3,451.7 1099.0,452.3 C1101.7,452.8 1104.3,453.4 1107.0,454.0 C1109.7,454.5 1112.3,455.1 1115.0,455.7 C1117.7,456.2 1120.3,456.8 1123.0,457.3 C1125.7,457.9 1128.3,458.5 1131.0,459.0 C1133.7,459.6 1136.3,460.1 1139.0,460.7 C1141.7,461.2 1144.3,461.7 1147.0,462.3 C1149.7,462.8 1152.3,463.4 1155.0,463.9 C1157.7,464.4 1160.3,465.0 1163.0,465.5 C1165.7,466.0 1168.3,466.6 1171.0,467.1 C1173.7,467.6 1176.3,468.2 1179.0,468.7 C1181.7,469.2 1184.3,469.7 1187.0,470.2 C1189.7,470.8 1192.3,471.3 1195.0,471.8 C1197.7,472.3 1200.3,472.8 1203.0,473.3 C1205.7,473.8 1208.3,474.3 1211.0,474.8 C1213.7,475.3 1216.3,475.8 1219.0,476.3 C1221.7,476.8 1224.3,477.3 1227.0,477.8 C1229.7,478.3 1232.3,478.8 1235.0,479.3 C1237.7,479.8 1240.3,480.3 1243.0,480.8 C1245.7,481.3 1248.3,481.8 1251.0,482.2 C1253.7,482.7 1256.3,483.2 1259.0,483.7 C1261.7,484.2 1264.3,484.6 1267.0,485.1 C1269.7,485.6 1272.3,486.1 1275.0,486.5 C1277.7,487.0 1280.3,487.5 1283.0,487.9 C1285.7,488.4 1288.5,488.9 1291.0,489.3 C1293.5,489.8 1296.8,490.4 1298.0,490.6 L1298.0,615 L160.0,615 Z" fill="#5BC2EE"/><path d="M160.0,85.6 C164.2,88.8 172.7,96.0 185.0,104.5 C197.3,113.0 225.7,131.3 234.0,136.8 C242.3,142.3 233.5,136.5 235.0,137.2 C236.5,137.9 240.3,139.9 243.0,141.2 C245.7,142.5 248.3,143.8 251.0,145.2 C253.7,146.5 256.3,147.9 259.0,149.2 C261.7,150.5 264.3,151.9 267.0,153.2 C269.7,154.6 272.3,155.9 275.0,157.3 C277.7,158.7 280.3,160.0 283.0,161.4 C285.7,162.7 288.3,164.1 291.0,165.5 C293.7,166.8 296.3,168.2 299.0,169.5 C301.7,170.9 304.3,172.3 307.0,173.6 C309.7,175.0 312.3,176.3 315.0,177.7 C317.7,179.1 320.3,180.4 323.0,181.8 C325.7,183.1 328.3,184.5 331.0,185.8 C333.7,187.2 336.3,188.5 339.0,189.9 C341.7,191.2 344.3,192.5 347.0,193.9 C349.7,195.2 352.3,196.5 355.0,197.9 C357.7,199.2 360.3,200.5 363.0,201.8 C365.7,203.1 368.3,204.5 371.0,205.8 C373.7,207.1 376.3,208.4 379.0,209.7 C381.7,211.0 384.3,212.2 387.0,213.5 C389.7,214.8 392.3,216.1 395.0,217.4 C397.7,218.6 400.3,219.9 403.0,221.2 C405.7,222.4 408.3,223.7 411.0,224.9 C413.7,226.2 416.3,227.4 419.0,228.7 C421.7,229.9 424.3,231.2 427.0,232.4 C429.7,233.6 432.3,234.9 435.0,236.1 C437.7,237.3 440.3,238.5 443.0,239.7 C445.7,240.9 448.3,242.2 451.0,243.4 C453.7,244.6 456.3,245.8 459.0,247.0 C461.7,248.1 464.3,249.3 467.0,250.5 C469.7,251.7 472.3,252.9 475.0,254.1 C477.7,255.2 480.3,256.4 483.0,257.6 C485.7,258.7 488.3,259.9 491.0,261.1 C493.7,262.2 496.3,263.4 499.0,264.5 C501.7,265.7 504.3,266.8 507.0,267.9 C509.7,269.1 512.3,270.2 515.0,271.3 C517.7,272.5 520.3,273.6 523.0,274.7 C525.7,275.8 528.3,277.0 531.0,278.1 C533.7,279.2 536.3,280.3 539.0,281.4 C541.7,282.5 544.3,283.6 547.0,284.7 C549.7,285.8 552.3,286.9 555.0,288.0 C557.7,289.0 560.3,290.1 563.0,291.2 C565.7,292.3 568.3,293.4 571.0,294.4 C573.7,295.5 576.3,296.6 579.0,297.6 C581.7,298.7 584.3,299.7 587.0,300.8 C589.7,301.8 592.3,302.9 595.0,303.9 C597.7,305.0 600.3,306.0 603.0,307.0 C605.7,308.1 608.3,309.1 611.0,310.1 C613.7,311.1 616.3,312.2 619.0,313.2 C621.7,314.2 624.3,315.2 627.0,316.2 C629.7,317.2 632.3,318.2 635.0,319.2 C637.7,320.2 640.3,321.2 643.0,322.2 C645.7,323.2 648.3,324.2 651.0,325.2 C653.7,326.1 656.3,327.1 659.0,328.1 C661.7,329.1 664.3,330.0 667.0,331.0 C669.7,332.0 672.3,332.9 675.0,333.9 C677.7,334.8 680.3,335.8 683.0,336.7 C685.7,337.7 688.3,338.6 691.0,339.6 C693.7,340.5 696.3,341.4 699.0,342.4 C701.7,343.3 704.3,344.2 707.0,345.1 C709.7,346.1 712.3,347.0 715.0,347.9 C717.7,348.8 720.3,349.7 723.0,350.6 C725.7,351.5 728.3,352.4 731.0,353.3 C733.7,354.2 736.3,355.1 739.0,356.0 C741.7,356.9 744.3,357.8 747.0,358.7 C749.7,359.5 752.3,360.4 755.0,361.3 C757.7,362.2 760.3,363.0 763.0,363.9 C765.7,364.7 768.3,365.6 771.0,366.5 C773.7,367.3 776.3,368.2 779.0,369.0 C781.7,369.9 784.3,370.7 787.0,371.5 C789.7,372.4 792.3,373.2 795.0,374.0 C797.7,374.9 800.3,375.7 803.0,376.5 C805.7,377.3 808.3,378.2 811.0,379.0 C813.7,379.8 816.3,380.6 819.0,381.4 C821.7,382.2 824.3,383.0 827.0,383.8 C829.7,384.6 832.3,385.4 835.0,386.2 C837.7,387.0 840.3,387.8 843.0,388.5 C845.7,389.3 848.3,390.1 851.0,390.9 C853.7,391.7 856.3,392.4 859.0,393.2 C861.7,394.0 864.3,394.7 867.0,395.5 C869.7,396.2 872.3,397.0 875.0,397.8 C877.7,398.5 880.3,399.3 883.0,400.0 C885.7,400.7 888.3,401.5 891.0,402.2 C893.7,403.0 896.3,403.7 899.0,404.4 C901.7,405.2 904.3,405.9 907.0,406.6 C909.7,407.3 912.3,408.1 915.0,408.8 C917.7,409.5 920.3,410.2 923.0,410.9 C925.7,411.6 928.3,412.3 931.0,413.0 C933.7,413.7 936.3,414.4 939.0,415.1 C941.7,415.8 944.3,416.5 947.0,417.2 C949.7,417.9 952.3,418.6 955.0,419.3 C957.7,419.9 960.3,420.6 963.0,421.3 C965.7,422.0 968.3,422.6 971.0,423.3 C973.7,424.0 976.3,424.6 979.0,425.3 C981.7,426.0 984.3,426.6 987.0,427.3 C989.7,427.9 992.3,428.6 995.0,429.2 C997.7,429.9 1000.3,430.5 1003.0,431.2 C1005.7,431.8 1008.3,432.5 1011.0,433.1 C1013.7,433.7 1016.3,434.4 1019.0,435.0 C1021.7,435.6 1024.3,436.3 1027.0,436.9 C1029.7,437.5 1032.3,438.1 1035.0,438.8 C1037.7,439.4 1040.3,440.0 1043.0,440.6 C1045.7,441.2 1048.3,441.8 1051.0,442.4 C1053.7,443.0 1056.3,443.6 1059.0,444.2 C1061.7,444.8 1064.3,445.4 1067.0,446.0 C1069.7,446.6 1072.3,447.2 1075.0,447.8 C1077.7,448.4 1080.3,449.0 1083.0,449.6 C1085.7,450.2 1088.3,450.7 1091.0,451.3 C1093.7,451.9 1096.3,452.5 1099.0,453.1 C1101.7,453.6 1104.3,454.2 1107.0,454.8 C1109.7,455.3 1112.3,455.9 1115.0,456.5 C1117.7,457.0 1120.3,457.6 1123.0,458.1 C1125.7,458.7 1128.3,459.3 1131.0,459.8 C1133.7,460.4 1136.3,460.9 1139.0,461.5 C1141.7,462.0 1144.3,462.5 1147.0,463.1 C1149.7,463.6 1152.3,464.2 1155.0,464.7 C1157.7,465.2 1160.3,465.8 1163.0,466.3 C1165.7,466.8 1168.3,467.4 1171.0,467.9 C1173.7,468.4 1176.3,469.0 1179.0,469.5 C1181.7,470.0 1184.3,470.5 1187.0,471.0 C1189.7,471.6 1192.3,472.1 1195.0,472.6 C1197.7,473.1 1200.3,473.6 1203.0,474.1 C1205.7,474.6 1208.3,475.1 1211.0,475.6 C1213.7,476.1 1216.3,476.6 1219.0,477.1 C1221.7,477.6 1224.3,478.1 1227.0,478.6 C1229.7,479.1 1232.3,479.6 1235.0,480.1 C1237.7,480.6 1240.3,481.1 1243.0,481.6 C1245.7,482.1 1248.3,482.6 1251.0,483.0 C1253.7,483.5 1256.3,484.0 1259.0,484.5 C1261.7,485.0 1264.3,485.4 1267.0,485.9 C1269.7,486.4 1272.3,486.9 1275.0,487.3 C1277.7,487.8 1280.3,488.3 1283.0,488.7 C1285.7,489.2 1288.5,489.7 1291.0,490.1 C1293.5,490.6 1296.8,491.2 1298.0,491.4 L1298.0,615 L160.0,615 Z" fill="#E8E8E8"/><path d="M160.0,87.3 C164.2,90.5 172.7,97.7 185.0,106.2 C197.3,114.7 225.7,133.0 234.0,138.5 C242.3,144.0 233.5,138.2 235.0,138.9 C236.5,139.6 240.3,141.6 243.0,142.9 C245.7,144.2 248.3,145.5 251.0,146.9 C253.7,148.2 256.3,149.6 259.0,150.9 C261.7,152.2 264.3,153.6 267.0,154.9 C269.7,156.3 272.3,157.6 275.0,159.0 C277.7,160.4 280.3,161.7 283.0,163.1 C285.7,164.4 288.3,165.8 291.0,167.2 C293.7,168.5 296.3,169.9 299.0,171.2 C301.7,172.6 304.3,174.0 307.0,175.3 C309.7,176.7 312.3,178.0 315.0,179.4 C317.7,180.8 320.3,182.1 323.0,183.5 C325.7,184.8 328.3,186.2 331.0,187.5 C333.7,188.9 336.3,190.2 339.0,191.6 C341.7,192.9 344.3,194.2 347.0,195.6 C349.7,196.9 352.3,198.2 355.0,199.6 C357.7,200.9 360.3,202.2 363.0,203.5 C365.7,204.8 368.3,206.2 371.0,207.5 C373.7,208.8 376.3,210.1 379.0,211.4 C381.7,212.7 384.3,213.9 387.0,215.2 C389.7,216.5 392.3,217.8 395.0,219.1 C397.7,220.3 400.3,221.6 403.0,222.9 C405.7,224.1 408.3,225.4 411.0,226.6 C413.7,227.9 416.3,229.1 419.0,230.4 C421.7,231.6 424.3,232.9 427.0,234.1 C429.7,235.3 432.3,236.6 435.0,237.8 C437.7,239.0 440.3,240.2 443.0,241.4 C445.7,242.6 448.3,243.9 451.0,245.1 C453.7,246.3 456.3,247.5 459.0,248.7 C461.7,249.8 464.3,251.0 467.0,252.2 C469.7,253.4 472.3,254.6 475.0,255.8 C477.7,256.9 480.3,258.1 483.0,259.3 C485.7,260.4 488.3,261.6 491.0,262.8 C493.7,263.9 496.3,265.1 499.0,266.2 C501.7,267.4 504.3,268.5 507.0,269.6 C509.7,270.8 512.3,271.9 515.0,273.0 C517.7,274.2 520.3,275.3 523.0,276.4 C525.7,277.5 528.3,278.7 531.0,279.8 C533.7,280.9 536.3,282.0 539.0,283.1 C541.7,284.2 544.3,285.3 547.0,286.4 C549.7,287.5 552.3,288.6 555.0,289.7 C557.7,290.7 560.3,291.8 563.0,292.9 C565.7,294.0 568.3,295.1 571.0,296.1 C573.7,297.2 576.3,298.3 579.0,299.3 C581.7,300.4 584.3,301.4 587.0,302.5 C589.7,303.5 592.3,304.6 595.0,305.6 C597.7,306.7 600.3,307.7 603.0,308.7 C605.7,309.8 608.3,310.8 611.0,311.8 C613.7,312.8 616.3,313.9 619.0,314.9 C621.7,315.9 624.3,316.9 627.0,317.9 C629.7,318.9 632.3,319.9 635.0,320.9 C637.7,321.9 640.3,322.9 643.0,323.9 C645.7,324.9 648.3,325.9 651.0,326.9 C653.7,327.8 656.3,328.8 659.0,329.8 C661.7,330.8 664.3,331.7 667.0,332.7 C669.7,333.7 672.3,334.6 675.0,335.6 C677.7,336.5 680.3,337.5 683.0,338.4 C685.7,339.4 688.3,340.3 691.0,341.3 C693.7,342.2 696.3,343.1 699.0,344.1 C701.7,345.0 704.3,345.9 707.0,346.8 C709.7,347.8 712.3,348.7 715.0,349.6 C717.7,350.5 720.3,351.4 723.0,352.3 C725.7,353.2 728.3,354.1 731.0,355.0 C733.7,355.9 736.3,356.8 739.0,357.7 C741.7,358.6 744.3,359.5 747.0,360.4 C749.7,361.2 752.3,362.1 755.0,363.0 C757.7,363.9 760.3,364.7 763.0,365.6 C765.7,366.4 768.3,367.3 771.0,368.2 C773.7,369.0 776.3,369.9 779.0,370.7 C781.7,371.6 784.3,372.4 787.0,373.2 C789.7,374.1 792.3,374.9 795.0,375.7 C797.7,376.6 800.3,377.4 803.0,378.2 C805.7,379.0 808.3,379.9 811.0,380.7 C813.7,381.5 816.3,382.3 819.0,383.1 C821.7,383.9 824.3,384.7 827.0,385.5 C829.7,386.3 832.3,387.1 835.0,387.9 C837.7,388.7 840.3,389.5 843.0,390.2 C845.7,391.0 848.3,391.8 851.0,392.6 C853.7,393.4 856.3,394.1 859.0,394.9 C861.7,395.7 864.3,396.4 867.0,397.2 C869.7,397.9 872.3,398.7 875.0,399.5 C877.7,400.2 880.3,401.0 883.0,401.7 C885.7,402.4 888.3,403.2 891.0,403.9 C893.7,404.7 896.3,405.4 899.0,406.1 C901.7,406.9 904.3,407.6 907.0,408.3 C909.7,409.0 912.3,409.8 915.0,410.5 C917.7,411.2 920.3,411.9 923.0,412.6 C925.7,413.3 928.3,414.0 931.0,414.7 C933.7,415.4 936.3,416.1 939.0,416.8 C941.7,417.5 944.3,418.2 947.0,418.9 C949.7,419.6 952.3,420.3 955.0,421.0 C957.7,421.6 960.3,422.3 963.0,423.0 C965.7,423.7 968.3,424.3 971.0,425.0 C973.7,425.7 976.3,426.3 979.0,427.0 C981.7,427.7 984.3,428.3 987.0,429.0 C989.7,429.6 992.3,430.3 995.0,430.9 C997.7,431.6 1000.3,432.2 1003.0,432.9 C1005.7,433.5 1008.3,434.2 1011.0,434.8 C1013.7,435.4 1016.3,436.1 1019.0,436.7 C1021.7,437.3 1024.3,438.0 1027.0,438.6 C1029.7,439.2 1032.3,439.8 1035.0,440.5 C1037.7,441.1 1040.3,441.7 1043.0,442.3 C1045.7,442.9 1048.3,443.5 1051.0,444.1 C1053.7,444.7 1056.3,445.3 1059.0,445.9 C1061.7,446.5 1064.3,447.1 1067.0,447.7 C1069.7,448.3 1072.3,448.9 1075.0,449.5 C1077.7,450.1 1080.3,450.7 1083.0,451.3 C1085.7,451.9 1088.3,452.4 1091.0,453.0 C1093.7,453.6 1096.3,454.2 1099.0,454.8 C1101.7,455.3 1104.3,455.9 1107.0,456.5 C1109.7,457.0 1112.3,457.6 1115.0,458.2 C1117.7,458.7 1120.3,459.3 1123.0,459.8 C1125.7,460.4 1128.3,461.0 1131.0,461.5 C1133.7,462.1 1136.3,462.6 1139.0,463.2 C1141.7,463.7 1144.3,464.2 1147.0,464.8 C1149.7,465.3 1152.3,465.9 1155.0,466.4 C1157.7,466.9 1160.3,467.5 1163.0,468.0 C1165.7,468.5 1168.3,469.1 1171.0,469.6 C1173.7,470.1 1176.3,470.7 1179.0,471.2 C1181.7,471.7 1184.3,472.2 1187.0,472.7 C1189.7,473.3 1192.3,473.8 1195.0,474.3 C1197.7,474.8 1200.3,475.3 1203.0,475.8 C1205.7,476.3 1208.3,476.8 1211.0,477.3 C1213.7,477.8 1216.3,478.3 1219.0,478.8 C1221.7,479.3 1224.3,479.8 1227.0,480.3 C1229.7,480.8 1232.3,481.3 1235.0,481.8 C1237.7,482.3 1240.3,482.8 1243.0,483.3 C1245.7,483.8 1248.3,484.3 1251.0,484.7 C1253.7,485.2 1256.3,485.7 1259.0,486.2 C1261.7,486.7 1264.3,487.1 1267.0,487.6 C1269.7,488.1 1272.3,488.6 1275.0,489.0 C1277.7,489.5 1280.3,490.0 1283.0,490.4 C1285.7,490.9 1288.5,491.4 1291.0,491.8 C1293.5,492.3 1296.8,492.9 1298.0,493.1 L1298.0,615 L160.0,615 Z" fill="#E37B3A"/><path d="M160.0,124.1 C166.4,128.2 186.0,141.0 198.5,149.0 C211.0,157.0 227.6,167.6 235.0,172.2 C242.4,176.9 240.3,175.3 243.0,176.8 C245.7,178.3 248.3,179.8 251.0,181.3 C253.7,182.8 256.3,184.3 259.0,185.8 C261.7,187.3 264.3,188.7 267.0,190.2 C269.7,191.6 272.3,193.1 275.0,194.5 C277.7,196.0 280.3,197.4 283.0,198.8 C285.7,200.2 288.3,201.6 291.0,203.0 C293.7,204.4 296.3,205.8 299.0,207.1 C301.7,208.5 304.3,209.9 307.0,211.2 C309.7,212.6 312.3,213.9 315.0,215.3 C317.7,216.6 320.3,217.9 323.0,219.2 C325.7,220.5 328.3,221.9 331.0,223.2 C333.7,224.5 336.3,225.7 339.0,227.0 C341.7,228.3 344.3,229.6 347.0,230.8 C349.7,232.1 352.3,233.4 355.0,234.6 C357.7,235.9 360.3,237.1 363.0,238.3 C365.7,239.6 368.3,240.8 371.0,242.0 C373.7,243.2 376.3,244.5 379.0,245.7 C381.7,246.9 384.3,248.1 387.0,249.3 C389.7,250.4 392.3,251.6 395.0,252.8 C397.7,254.0 400.3,255.2 403.0,256.3 C405.7,257.5 408.3,258.6 411.0,259.8 C413.7,260.9 416.3,262.1 419.0,263.2 C421.7,264.4 424.3,265.5 427.0,266.6 C429.7,267.8 432.3,268.9 435.0,270.0 C437.7,271.1 440.3,272.2 443.0,273.4 C445.7,274.5 448.3,275.6 451.0,276.7 C453.7,277.8 456.3,278.9 459.0,279.9 C461.7,281.0 464.3,282.1 467.0,283.2 C469.7,284.3 472.3,285.4 475.0,286.4 C477.7,287.5 480.3,288.6 483.0,289.6 C485.7,290.7 488.3,291.8 491.0,292.8 C493.7,293.9 496.3,294.9 499.0,296.0 C501.7,297.0 504.3,298.1 507.0,299.1 C509.7,300.2 512.3,301.2 515.0,302.2 C517.7,303.3 520.3,304.3 523.0,305.4 C525.7,306.4 528.3,307.4 531.0,308.4 C533.7,309.5 536.3,310.5 539.0,311.5 C541.7,312.5 544.3,313.6 547.0,314.6 C549.7,315.6 552.3,316.6 555.0,317.6 C557.7,318.6 560.3,319.6 563.0,320.6 C565.7,321.6 568.3,322.6 571.0,323.6 C573.7,324.6 576.3,325.6 579.0,326.6 C581.7,327.6 584.3,328.6 587.0,329.6 C589.7,330.6 592.3,331.5 595.0,332.5 C597.7,333.5 600.3,334.5 603.0,335.5 C605.7,336.4 608.3,337.4 611.0,338.4 C613.7,339.3 616.3,340.3 619.0,341.3 C621.7,342.2 624.3,343.2 627.0,344.1 C629.7,345.1 632.3,346.0 635.0,347.0 C637.7,347.9 640.3,348.9 643.0,349.8 C645.7,350.8 648.3,351.7 651.0,352.6 C653.7,353.6 656.3,354.5 659.0,355.4 C661.7,356.4 664.3,357.3 667.0,358.2 C669.7,359.1 672.3,360.0 675.0,361.0 C677.7,361.9 680.3,362.8 683.0,363.7 C685.7,364.6 688.3,365.5 691.0,366.4 C693.7,367.3 696.3,368.2 699.0,369.1 C701.7,370.0 704.3,370.9 707.0,371.8 C709.7,372.7 712.3,373.5 715.0,374.4 C717.7,375.3 720.3,376.2 723.0,377.1 C725.7,377.9 728.3,378.8 731.0,379.7 C733.7,380.5 736.3,381.4 739.0,382.3 C741.7,383.1 744.3,384.0 747.0,384.8 C749.7,385.7 752.3,386.5 755.0,387.4 C757.7,388.2 760.3,389.1 763.0,389.9 C765.7,390.8 768.3,391.6 771.0,392.4 C773.7,393.3 776.3,394.1 779.0,394.9 C781.7,395.7 784.3,396.6 787.0,397.4 C789.7,398.2 792.3,399.0 795.0,399.8 C797.7,400.6 800.3,401.4 803.0,402.2 C805.7,403.0 808.3,403.8 811.0,404.6 C813.7,405.4 816.3,406.2 819.0,407.0 C821.7,407.8 824.3,408.6 827.0,409.4 C829.7,410.2 832.3,410.9 835.0,411.7 C837.7,412.5 840.3,413.3 843.0,414.0 C845.7,414.8 848.3,415.6 851.0,416.3 C853.7,417.1 856.3,417.8 859.0,418.6 C861.7,419.3 864.3,420.1 867.0,420.8 C869.7,421.6 872.3,422.3 875.0,423.1 C877.7,423.8 880.3,424.5 883.0,425.3 C885.7,426.0 888.3,426.7 891.0,427.5 C893.7,428.2 896.3,428.9 899.0,429.6 C901.7,430.3 904.3,431.1 907.0,431.8 C909.7,432.5 912.3,433.2 915.0,433.9 C917.7,434.6 920.3,435.3 923.0,436.0 C925.7,436.7 928.3,437.4 931.0,438.1 C933.7,438.8 936.3,439.4 939.0,440.1 C941.7,440.8 944.3,441.5 947.0,442.2 C949.7,442.8 952.3,443.5 955.0,444.2 C957.7,444.8 960.3,445.5 963.0,446.2 C965.7,446.8 968.3,447.5 971.0,448.1 C973.7,448.8 976.3,449.4 979.0,450.1 C981.7,450.7 984.3,451.4 987.0,452.0 C989.7,452.6 992.3,453.3 995.0,453.9 C997.7,454.5 1000.3,455.2 1003.0,455.8 C1005.7,456.4 1008.3,457.0 1011.0,457.7 C1013.7,458.3 1016.3,458.9 1019.0,459.5 C1021.7,460.1 1024.3,460.7 1027.0,461.3 C1029.7,461.9 1032.3,462.5 1035.0,463.1 C1037.7,463.7 1040.3,464.3 1043.0,464.9 C1045.7,465.5 1048.3,466.1 1051.0,466.7 C1053.7,467.2 1056.3,467.8 1059.0,468.4 C1061.7,469.0 1064.3,469.5 1067.0,470.1 C1069.7,470.7 1072.3,471.2 1075.0,471.8 C1077.7,472.3 1080.3,472.9 1083.0,473.5 C1085.7,474.0 1088.3,474.6 1091.0,475.1 C1093.7,475.7 1096.3,476.2 1099.0,476.7 C1101.7,477.3 1104.3,477.8 1107.0,478.3 C1109.7,478.9 1112.3,479.4 1115.0,479.9 C1117.7,480.4 1120.3,481.0 1123.0,481.5 C1125.7,482.0 1128.3,482.5 1131.0,483.0 C1133.7,483.5 1136.3,484.0 1139.0,484.5 C1141.7,485.0 1144.3,485.5 1147.0,486.0 C1149.7,486.5 1152.3,487.0 1155.0,487.5 C1157.7,488.0 1160.3,488.5 1163.0,489.0 C1165.7,489.4 1168.3,489.9 1171.0,490.4 C1173.7,490.9 1176.3,491.3 1179.0,491.8 C1181.7,492.3 1184.3,492.7 1187.0,493.2 C1189.7,493.7 1192.3,494.1 1195.0,494.6 C1197.7,495.0 1200.3,495.5 1203.0,495.9 C1205.7,496.3 1208.3,496.8 1211.0,497.2 C1213.7,497.7 1216.3,498.1 1219.0,498.5 C1221.7,499.0 1224.3,499.4 1227.0,499.8 C1229.7,500.2 1232.3,500.7 1235.0,501.1 C1237.7,501.5 1240.3,501.9 1243.0,502.3 C1245.7,502.7 1248.3,503.1 1251.0,503.5 C1253.7,503.9 1256.3,504.3 1259.0,504.7 C1261.7,505.1 1264.3,505.5 1267.0,505.9 C1269.7,506.3 1272.3,506.7 1275.0,507.0 C1277.7,507.4 1280.3,507.8 1283.0,508.2 C1285.7,508.5 1288.5,508.9 1291.0,509.3 C1293.5,509.6 1296.8,510.1 1298.0,510.2 L1298.0,615 L160.0,615 Z" fill="#F84C55"/><path d="M160.0,140.4 C163.2,142.0 167.0,143.5 179.3,150.0 C191.6,156.5 224.7,174.6 234.0,179.6 C243.3,184.6 233.5,179.3 235.0,180.0 C236.5,180.7 240.3,182.7 243.0,184.0 C245.7,185.3 248.3,186.6 251.0,187.9 C253.7,189.2 256.3,190.5 259.0,191.8 C261.7,193.1 264.3,194.4 267.0,195.6 C269.7,196.9 272.3,198.2 275.0,199.5 C277.7,200.7 280.3,202.0 283.0,203.3 C285.7,204.5 288.3,205.8 291.0,207.1 C293.7,208.3 296.3,209.6 299.0,210.8 C301.7,212.1 304.3,213.3 307.0,214.5 C309.7,215.8 312.3,217.0 315.0,218.2 C317.7,219.5 320.3,220.7 323.0,221.9 C325.7,223.1 328.3,224.3 331.0,225.5 C333.7,226.8 336.3,228.0 339.0,229.2 C341.7,230.4 344.3,231.6 347.0,232.8 C349.7,234.0 352.3,235.2 355.0,236.3 C357.7,237.5 360.3,238.7 363.0,239.9 C365.7,241.1 368.3,242.2 371.0,243.4 C373.7,244.6 376.3,245.8 379.0,246.9 C381.7,248.1 384.3,249.2 387.0,250.4 C389.7,251.5 392.3,252.7 395.0,253.8 C397.7,255.0 400.3,256.1 403.0,257.3 C405.7,258.4 408.3,259.6 411.0,260.7 C413.7,261.8 416.3,263.0 419.0,264.1 C421.7,265.2 424.3,266.3 427.0,267.4 C429.7,268.6 432.3,269.7 435.0,270.8 C437.7,271.9 440.3,273.0 443.0,274.1 C445.7,275.2 448.3,276.3 451.0,277.4 C453.7,278.5 456.3,279.6 459.0,280.7 C461.7,281.8 464.3,282.9 467.0,284.0 C469.7,285.0 472.3,286.1 475.0,287.2 C477.7,288.3 480.3,289.3 483.0,290.4 C485.7,291.5 488.3,292.6 491.0,293.6 C493.7,294.7 496.3,295.7 499.0,296.8 C501.7,297.9 504.3,298.9 507.0,300.0 C509.7,301.0 512.3,302.1 515.0,303.1 C517.7,304.2 520.3,305.2 523.0,306.2 C525.7,307.3 528.3,308.3 531.0,309.3 C533.7,310.4 536.3,311.4 539.0,312.4 C541.7,313.5 544.3,314.5 547.0,315.5 C549.7,316.5 552.3,317.5 555.0,318.6 C557.7,319.6 560.3,320.6 563.0,321.6 C565.7,322.6 568.3,323.6 571.0,324.6 C573.7,325.6 576.3,326.6 579.0,327.6 C581.7,328.6 584.3,329.6 587.0,330.6 C589.7,331.6 592.3,332.5 595.0,333.5 C597.7,334.5 600.3,335.5 603.0,336.5 C605.7,337.4 608.3,338.4 611.0,339.4 C613.7,340.3 616.3,341.3 619.0,342.3 C621.7,343.2 624.3,344.2 627.0,345.2 C629.7,346.1 632.3,347.1 635.0,348.0 C637.7,349.0 640.3,349.9 643.0,350.8 C645.7,351.8 648.3,352.7 651.0,353.7 C653.7,354.6 656.3,355.5 659.0,356.5 C661.7,357.4 664.3,358.3 667.0,359.2 C669.7,360.2 672.3,361.1 675.0,362.0 C677.7,362.9 680.3,363.8 683.0,364.7 C685.7,365.6 688.3,366.5 691.0,367.4 C693.7,368.4 696.3,369.2 699.0,370.1 C701.7,371.0 704.3,371.9 707.0,372.8 C709.7,373.7 712.3,374.6 715.0,375.5 C717.7,376.4 720.3,377.2 723.0,378.1 C725.7,379.0 728.3,379.8 731.0,380.7 C733.7,381.6 736.3,382.4 739.0,383.3 C741.7,384.2 744.3,385.0 747.0,385.9 C749.7,386.7 752.3,387.6 755.0,388.4 C757.7,389.3 760.3,390.1 763.0,391.0 C765.7,391.8 768.3,392.6 771.0,393.5 C773.7,394.3 776.3,395.1 779.0,395.9 C781.7,396.8 784.3,397.6 787.0,398.4 C789.7,399.2 792.3,400.0 795.0,400.8 C797.7,401.7 800.3,402.5 803.0,403.3 C805.7,404.1 808.3,404.9 811.0,405.7 C813.7,406.5 816.3,407.3 819.0,408.0 C821.7,408.8 824.3,409.6 827.0,410.4 C829.7,411.2 832.3,412.0 835.0,412.7 C837.7,413.5 840.3,414.3 843.0,415.0 C845.7,415.8 848.3,416.6 851.0,417.3 C853.7,418.1 856.3,418.9 859.0,419.6 C861.7,420.4 864.3,421.1 867.0,421.9 C869.7,422.6 872.3,423.3 875.0,424.1 C877.7,424.8 880.3,425.6 883.0,426.3 C885.7,427.0 888.3,427.7 891.0,428.5 C893.7,429.2 896.3,429.9 899.0,430.6 C901.7,431.4 904.3,432.1 907.0,432.8 C909.7,433.5 912.3,434.2 915.0,434.9 C917.7,435.6 920.3,436.3 923.0,437.0 C925.7,437.7 928.3,438.4 931.0,439.1 C933.7,439.8 936.3,440.4 939.0,441.1 C941.7,441.8 944.3,442.5 947.0,443.2 C949.7,443.8 952.3,444.5 955.0,445.2 C957.7,445.8 960.3,446.5 963.0,447.2 C965.7,447.8 968.3,448.5 971.0,449.1 C973.7,449.8 976.3,450.4 979.0,451.1 C981.7,451.7 984.3,452.4 987.0,453.0 C989.7,453.6 992.3,454.3 995.0,454.9 C997.7,455.5 1000.3,456.2 1003.0,456.8 C1005.7,457.4 1008.3,458.0 1011.0,458.7 C1013.7,459.3 1016.3,459.9 1019.0,460.5 C1021.7,461.1 1024.3,461.7 1027.0,462.3 C1029.7,462.9 1032.3,463.5 1035.0,464.1 C1037.7,464.7 1040.3,465.3 1043.0,465.9 C1045.7,466.5 1048.3,467.1 1051.0,467.6 C1053.7,468.2 1056.3,468.8 1059.0,469.4 C1061.7,470.0 1064.3,470.5 1067.0,471.1 C1069.7,471.7 1072.3,472.2 1075.0,472.8 C1077.7,473.3 1080.3,473.9 1083.0,474.5 C1085.7,475.0 1088.3,475.6 1091.0,476.1 C1093.7,476.6 1096.3,477.2 1099.0,477.7 C1101.7,478.3 1104.3,478.8 1107.0,479.3 C1109.7,479.9 1112.3,480.4 1115.0,480.9 C1117.7,481.4 1120.3,482.0 1123.0,482.5 C1125.7,483.0 1128.3,483.5 1131.0,484.0 C1133.7,484.5 1136.3,485.0 1139.0,485.5 C1141.7,486.0 1144.3,486.5 1147.0,487.0 C1149.7,487.5 1152.3,488.0 1155.0,488.5 C1157.7,489.0 1160.3,489.5 1163.0,490.0 C1165.7,490.4 1168.3,490.9 1171.0,491.4 C1173.7,491.9 1176.3,492.3 1179.0,492.8 C1181.7,493.3 1184.3,493.7 1187.0,494.2 C1189.7,494.6 1192.3,495.1 1195.0,495.5 C1197.7,496.0 1200.3,496.4 1203.0,496.9 C1205.7,497.3 1208.3,497.8 1211.0,498.2 C1213.7,498.7 1216.3,499.1 1219.0,499.5 C1221.7,500.0 1224.3,500.4 1227.0,500.8 C1229.7,501.2 1232.3,501.6 1235.0,502.1 C1237.7,502.5 1240.3,502.9 1243.0,503.3 C1245.7,503.7 1248.3,504.1 1251.0,504.5 C1253.7,504.9 1256.3,505.3 1259.0,505.7 C1261.7,506.1 1264.3,506.5 1267.0,506.9 C1269.7,507.3 1272.3,507.7 1275.0,508.0 C1277.7,508.4 1280.3,508.8 1283.0,509.2 C1285.7,509.5 1288.5,509.9 1291.0,510.3 C1293.5,510.6 1296.8,511.1 1298.0,511.2 L1298.0,615 L160.0,615 Z" fill="#5177C8"/><path d="M160.0,244.2 C170.6,248.8 211.2,266.0 223.7,271.5 C236.2,277.0 231.8,275.5 235.0,277.0 C238.2,278.5 240.3,279.2 243.0,280.2 C245.7,281.3 248.3,282.4 251.0,283.5 C253.7,284.5 256.3,285.6 259.0,286.7 C261.7,287.7 264.3,288.8 267.0,289.8 C269.7,290.9 272.3,292.0 275.0,293.0 C277.7,294.1 280.3,295.1 283.0,296.2 C285.7,297.2 288.3,298.3 291.0,299.3 C293.7,300.4 296.3,301.4 299.0,302.4 C301.7,303.5 304.3,304.5 307.0,305.5 C309.7,306.6 312.3,307.6 315.0,308.6 C317.7,309.7 320.3,310.7 323.0,311.7 C325.7,312.7 328.3,313.7 331.0,314.8 C333.7,315.8 336.3,316.8 339.0,317.8 C341.7,318.8 344.3,319.8 347.0,320.8 C349.7,321.8 352.3,322.8 355.0,323.8 C357.7,324.8 360.3,325.8 363.0,326.8 C365.7,327.8 368.3,328.8 371.0,329.8 C373.7,330.8 376.3,331.8 379.0,332.8 C381.7,333.7 384.3,334.7 387.0,335.7 C389.7,336.7 392.3,337.6 395.0,338.6 C397.7,339.6 400.3,340.6 403.0,341.5 C405.7,342.5 408.3,343.5 411.0,344.4 C413.7,345.4 416.3,346.3 419.0,347.3 C421.7,348.2 424.3,349.2 427.0,350.1 C429.7,351.1 432.3,352.0 435.0,353.0 C437.7,353.9 440.3,354.9 443.0,355.8 C445.7,356.7 448.3,357.7 451.0,358.6 C453.7,359.5 456.3,360.5 459.0,361.4 C461.7,362.3 464.3,363.2 467.0,364.2 C469.7,365.1 472.3,366.0 475.0,366.9 C477.7,367.8 480.3,368.8 483.0,369.7 C485.7,370.6 488.3,371.5 491.0,372.4 C493.7,373.3 496.3,374.2 499.0,375.1 C501.7,376.0 504.3,376.9 507.0,377.8 C509.7,378.7 512.3,379.6 515.0,380.5 C517.7,381.3 520.3,382.2 523.0,383.1 C525.7,384.0 528.3,384.9 531.0,385.7 C533.7,386.6 536.3,387.5 539.0,388.4 C541.7,389.2 544.3,390.1 547.0,391.0 C549.7,391.8 552.3,392.7 555.0,393.6 C557.7,394.4 560.3,395.3 563.0,396.1 C565.7,397.0 568.3,397.8 571.0,398.7 C573.7,399.5 576.3,400.4 579.0,401.2 C581.7,402.1 584.3,402.9 587.0,403.7 C589.7,404.6 592.3,405.4 595.0,406.2 C597.7,407.1 600.3,407.9 603.0,408.7 C605.7,409.5 608.3,410.4 611.0,411.2 C613.7,412.0 616.3,412.8 619.0,413.6 C621.7,414.4 624.3,415.3 627.0,416.1 C629.7,416.9 632.3,417.7 635.0,418.5 C637.7,419.3 640.3,420.1 643.0,420.9 C645.7,421.7 648.3,422.5 651.0,423.3 C653.7,424.1 656.3,424.8 659.0,425.6 C661.7,426.4 664.3,427.2 667.0,428.0 C669.7,428.8 672.3,429.5 675.0,430.3 C677.7,431.1 680.3,431.8 683.0,432.6 C685.7,433.4 688.3,434.2 691.0,434.9 C693.7,435.7 696.3,436.4 699.0,437.2 C701.7,437.9 704.3,438.7 707.0,439.5 C709.7,440.2 712.3,441.0 715.0,441.7 C717.7,442.4 720.3,443.2 723.0,443.9 C725.7,444.7 728.3,445.4 731.0,446.1 C733.7,446.9 736.3,447.6 739.0,448.3 C741.7,449.1 744.3,449.8 747.0,450.5 C749.7,451.2 752.3,451.9 755.0,452.7 C757.7,453.4 760.3,454.1 763.0,454.8 C765.7,455.5 768.3,456.2 771.0,456.9 C773.7,457.6 776.3,458.3 779.0,459.0 C781.7,459.7 784.3,460.4 787.0,461.1 C789.7,461.8 792.3,462.5 795.0,463.2 C797.7,463.9 800.3,464.6 803.0,465.2 C805.7,465.9 808.3,466.6 811.0,467.3 C813.7,468.0 816.3,468.6 819.0,469.3 C821.7,470.0 824.3,470.6 827.0,471.3 C829.7,472.0 832.3,472.6 835.0,473.3 C837.7,474.0 840.3,474.6 843.0,475.3 C845.7,475.9 848.3,476.6 851.0,477.2 C853.7,477.9 856.3,478.5 859.0,479.1 C861.7,479.8 864.3,480.4 867.0,481.1 C869.7,481.7 872.3,482.3 875.0,483.0 C877.7,483.6 880.3,484.2 883.0,484.8 C885.7,485.5 888.3,486.1 891.0,486.7 C893.7,487.3 896.3,487.9 899.0,488.5 C901.7,489.2 904.3,489.8 907.0,490.4 C909.7,491.0 912.3,491.6 915.0,492.2 C917.7,492.8 920.3,493.4 923.0,494.0 C925.7,494.6 928.3,495.2 931.0,495.7 C933.7,496.3 936.3,496.9 939.0,497.5 C941.7,498.1 944.3,498.7 947.0,499.2 C949.7,499.8 952.3,500.4 955.0,501.0 C957.7,501.5 960.3,502.1 963.0,502.7 C965.7,503.2 968.3,503.8 971.0,504.4 C973.7,504.9 976.3,505.5 979.0,506.0 C981.7,506.6 984.3,507.1 987.0,507.7 C989.7,508.2 992.3,508.8 995.0,509.3 C997.7,509.8 1000.3,510.4 1003.0,510.9 C1005.7,511.5 1008.3,512.0 1011.0,512.5 C1013.7,513.1 1016.3,513.6 1019.0,514.1 C1021.7,514.6 1024.3,515.1 1027.0,515.7 C1029.7,516.2 1032.3,516.7 1035.0,517.2 C1037.7,517.7 1040.3,518.2 1043.0,518.7 C1045.7,519.2 1048.3,519.7 1051.0,520.2 C1053.7,520.7 1056.3,521.2 1059.0,521.7 C1061.7,522.2 1064.3,522.7 1067.0,523.2 C1069.7,523.7 1072.3,524.2 1075.0,524.7 C1077.7,525.2 1080.3,525.6 1083.0,526.1 C1085.7,526.6 1088.3,527.1 1091.0,527.5 C1093.7,528.0 1096.3,528.5 1099.0,528.9 C1101.7,529.4 1104.3,529.9 1107.0,530.3 C1109.7,530.8 1112.3,531.2 1115.0,531.7 C1117.7,532.1 1120.3,532.6 1123.0,533.0 C1125.7,533.5 1128.3,533.9 1131.0,534.4 C1133.7,534.8 1136.3,535.2 1139.0,535.7 C1141.7,536.1 1144.3,536.5 1147.0,537.0 C1149.7,537.4 1152.3,537.8 1155.0,538.3 C1157.7,538.7 1160.3,539.1 1163.0,539.5 C1165.7,539.9 1168.3,540.3 1171.0,540.8 C1173.7,541.2 1176.3,541.6 1179.0,542.0 C1181.7,542.4 1184.3,542.8 1187.0,543.2 C1189.7,543.6 1192.3,544.0 1195.0,544.4 C1197.7,544.8 1200.3,545.2 1203.0,545.5 C1205.7,545.9 1208.3,546.3 1211.0,546.7 C1213.7,547.1 1216.3,547.4 1219.0,547.8 C1221.7,548.2 1224.3,548.6 1227.0,548.9 C1229.7,549.3 1232.3,549.7 1235.0,550.0 C1237.7,550.4 1240.3,550.8 1243.0,551.1 C1245.7,551.5 1248.3,551.8 1251.0,552.2 C1253.7,552.5 1256.3,552.9 1259.0,553.2 C1261.7,553.6 1264.3,553.9 1267.0,554.2 C1269.7,554.6 1272.3,554.9 1275.0,555.3 C1277.7,555.6 1280.3,555.9 1283.0,556.2 C1285.7,556.6 1288.5,556.9 1291.0,557.2 C1293.5,557.5 1296.8,557.9 1298.0,558.0 L1298.0,615 L160.0,615 Z" fill="#F2E5D7"/><line x1="154" y1="615" x2="1305" y2="615" stroke="#D6D6D6" stroke-width="1.5"/><line x1="153.9" y1="615" x2="153.9" y2="626" stroke="#D6D6D6" stroke-width="1.5"/><line x1="217.1" y1="615" x2="217.1" y2="626" stroke="#D6D6D6" stroke-width="1.5"/><line x1="280.3" y1="615" x2="280.3" y2="626" stroke="#D6D6D6" stroke-width="1.5"/><line x1="343.5" y1="615" x2="343.5" y2="626" stroke="#D6D6D6" stroke-width="1.5"/><line x1="406.7" y1="615" x2="406.7" y2="626" stroke="#D6D6D6" stroke-width="1.5"/><line x1="469.9" y1="615" x2="469.9" y2="626" stroke="#D6D6D6" stroke-width="1.5"/><line x1="533.1" y1="615" x2="533.1" y2="626" stroke="#D6D6D6" stroke-width="1.5"/><line x1="596.3" y1="615" x2="596.3" y2="626" stroke="#D6D6D6" stroke-width="1.5"/><line x1="659.5" y1="615" x2="659.5" y2="626" stroke="#D6D6D6" stroke-width="1.5"/><line x1="722.7" y1="615" x2="722.7" y2="626" stroke="#D6D6D6" stroke-width="1.5"/><line x1="785.9" y1="615" x2="785.9" y2="626" stroke="#D6D6D6" stroke-width="1.5"/><line x1="849.1" y1="615" x2="849.1" y2="626" stroke="#D6D6D6" stroke-width="1.5"/><line x1="912.3" y1="615" x2="912.3" y2="626" stroke="#D6D6D6" stroke-width="1.5"/><line x1="975.5" y1="615" x2="975.5" y2="626" stroke="#D6D6D6" stroke-width="1.5"/><line x1="1038.7" y1="615" x2="1038.7" y2="626" stroke="#D6D6D6" stroke-width="1.5"/><line x1="1101.9" y1="615" x2="1101.9" y2="626" stroke="#D6D6D6" stroke-width="1.5"/><line x1="1165.1" y1="615" x2="1165.1" y2="626" stroke="#D6D6D6" stroke-width="1.5"/><line x1="1228.3" y1="615" x2="1228.3" y2="626" stroke="#D6D6D6" stroke-width="1.5"/><line x1="1291.5" y1="615" x2="1291.5" y2="626" stroke="#D6D6D6" stroke-width="1.5"/><line x1="160.2" y1="380" x2="1289" y2="380" stroke="#C31E14" stroke-width="5.8" stroke-linecap="round" stroke-dasharray="10.9 11"/><path d="M160.0,36.7 C168.3,41.8 197.5,59.7 210.0,67.0 C222.5,74.3 229.5,77.6 235.0,80.6 C240.5,83.6 240.3,83.3 243.0,84.7 C245.7,86.1 248.3,87.5 251.0,88.8 C253.7,90.2 256.3,91.5 259.0,92.9 C261.7,94.3 264.3,95.6 267.0,97.0 C269.7,98.3 272.3,99.7 275.0,101.0 C277.7,102.4 280.3,103.7 283.0,105.1 C285.7,106.4 288.3,107.8 291.0,109.1 C293.7,110.4 296.3,111.8 299.0,113.1 C301.7,114.5 304.3,115.8 307.0,117.1 C309.7,118.5 312.3,119.8 315.0,121.1 C317.7,122.4 320.3,123.8 323.0,125.1 C325.7,126.4 328.3,127.7 331.0,129.0 C333.7,130.3 336.3,131.7 339.0,133.0 C341.7,134.3 344.3,135.6 347.0,136.9 C349.7,138.2 352.3,139.5 355.0,140.8 C357.7,142.1 360.3,143.4 363.0,144.7 C365.7,146.0 368.3,147.3 371.0,148.6 C373.7,149.8 376.3,151.1 379.0,152.4 C381.7,153.7 384.3,155.0 387.0,156.3 C389.7,157.5 392.3,158.8 395.0,160.1 C397.7,161.3 400.3,162.6 403.0,163.9 C405.7,165.1 408.3,166.4 411.0,167.7 C413.7,168.9 416.3,170.2 419.0,171.4 C421.7,172.7 424.3,173.9 427.0,175.2 C429.7,176.4 432.3,177.7 435.0,178.9 C437.7,180.2 440.3,181.4 443.0,182.7 C445.7,183.9 448.3,185.1 451.0,186.4 C453.7,187.6 456.3,188.8 459.0,190.0 C461.7,191.3 464.3,192.5 467.0,193.7 C469.7,194.9 472.3,196.1 475.0,197.3 C477.7,198.6 480.3,199.8 483.0,201.0 C485.7,202.2 488.3,203.4 491.0,204.6 C493.7,205.8 496.3,207.0 499.0,208.2 C501.7,209.4 504.3,210.5 507.0,211.7 C509.7,212.9 512.3,214.1 515.0,215.3 C517.7,216.5 520.3,217.6 523.0,218.8 C525.7,220.0 528.3,221.2 531.0,222.3 C533.7,223.5 536.3,224.7 539.0,225.8 C541.7,227.0 544.3,228.1 547.0,229.3 C549.7,230.4 552.3,231.6 555.0,232.7 C557.7,233.9 560.3,235.0 563.0,236.2 C565.7,237.3 568.3,238.4 571.0,239.6 C573.7,240.7 576.3,241.8 579.0,243.0 C581.7,244.1 584.3,245.2 587.0,246.3 C589.7,247.4 592.3,248.6 595.0,249.7 C597.7,250.8 600.3,251.9 603.0,253.0 C605.7,254.1 608.3,255.2 611.0,256.3 C613.7,257.4 616.3,258.5 619.0,259.6 C621.7,260.7 624.3,261.8 627.0,262.8 C629.7,263.9 632.3,265.0 635.0,266.1 C637.7,267.1 640.3,268.2 643.0,269.3 C645.7,270.4 648.3,271.4 651.0,272.5 C653.7,273.5 656.3,274.6 659.0,275.7 C661.7,276.7 664.3,277.8 667.0,278.8 C669.7,279.8 672.3,280.9 675.0,281.9 C677.7,283.0 680.3,284.0 683.0,285.0 C685.7,286.1 688.3,287.1 691.0,288.1 C693.7,289.1 696.3,290.1 699.0,291.2 C701.7,292.2 704.3,293.2 707.0,294.2 C709.7,295.2 712.3,296.2 715.0,297.2 C717.7,298.2 720.3,299.2 723.0,300.2 C725.7,301.2 728.3,302.2 731.0,303.1 C733.7,304.1 736.3,305.1 739.0,306.1 C741.7,307.1 744.3,308.0 747.0,309.0 C749.7,310.0 752.3,310.9 755.0,311.9 C757.7,312.8 760.3,313.8 763.0,314.7 C765.7,315.7 768.3,316.6 771.0,317.6 C773.7,318.5 776.3,319.5 779.0,320.4 C781.7,321.3 784.3,322.2 787.0,323.2 C789.7,324.1 792.3,325.0 795.0,325.9 C797.7,326.9 800.3,327.8 803.0,328.7 C805.7,329.6 808.3,330.5 811.0,331.4 C813.7,332.3 816.3,333.2 819.0,334.1 C821.7,335.0 824.3,335.9 827.0,336.8 C829.7,337.6 832.3,338.5 835.0,339.4 C837.7,340.3 840.3,341.2 843.0,342.0 C845.7,342.9 848.3,343.8 851.0,344.6 C853.7,345.5 856.3,346.3 859.0,347.2 C861.7,348.1 864.3,348.9 867.0,349.8 C869.7,350.6 872.3,351.4 875.0,352.3 C877.7,353.1 880.3,354.0 883.0,354.8 C885.7,355.6 888.3,356.5 891.0,357.3 C893.7,358.1 896.3,358.9 899.0,359.7 C901.7,360.6 904.3,361.4 907.0,362.2 C909.7,363.0 912.3,363.8 915.0,364.6 C917.7,365.4 920.3,366.2 923.0,367.0 C925.7,367.8 928.3,368.6 931.0,369.4 C933.7,370.2 936.3,371.0 939.0,371.8 C941.7,372.5 944.3,373.3 947.0,374.1 C949.7,374.9 952.3,375.6 955.0,376.4 C957.7,377.2 960.3,377.9 963.0,378.7 C965.7,379.5 968.3,380.2 971.0,381.0 C973.7,381.7 976.3,382.5 979.0,383.2 C981.7,384.0 984.3,384.7 987.0,385.5 C989.7,386.2 992.3,387.0 995.0,387.7 C997.7,388.4 1000.3,389.2 1003.0,389.9 C1005.7,390.6 1008.3,391.3 1011.0,392.1 C1013.7,392.8 1016.3,393.5 1019.0,394.2 C1021.7,394.9 1024.3,395.7 1027.0,396.4 C1029.7,397.1 1032.3,397.8 1035.0,398.5 C1037.7,399.2 1040.3,399.9 1043.0,400.6 C1045.7,401.3 1048.3,402.0 1051.0,402.7 C1053.7,403.4 1056.3,404.1 1059.0,404.8 C1061.7,405.4 1064.3,406.1 1067.0,406.8 C1069.7,407.5 1072.3,408.2 1075.0,408.8 C1077.7,409.5 1080.3,410.2 1083.0,410.8 C1085.7,411.5 1088.3,412.2 1091.0,412.8 C1093.7,413.5 1096.3,414.2 1099.0,414.8 C1101.7,415.5 1104.3,416.1 1107.0,416.8 C1109.7,417.4 1112.3,418.1 1115.0,418.7 C1117.7,419.4 1120.3,420.0 1123.0,420.7 C1125.7,421.3 1128.3,421.9 1131.0,422.6 C1133.7,423.2 1136.3,423.8 1139.0,424.5 C1141.7,425.1 1144.3,425.7 1147.0,426.3 C1149.7,427.0 1152.3,427.6 1155.0,428.2 C1157.7,428.8 1160.3,429.4 1163.0,430.1 C1165.7,430.7 1168.3,431.3 1171.0,431.9 C1173.7,432.5 1176.3,433.1 1179.0,433.7 C1181.7,434.3 1184.3,434.9 1187.0,435.5 C1189.7,436.1 1192.3,436.7 1195.0,437.3 C1197.7,437.9 1200.3,438.5 1203.0,439.1 C1205.7,439.6 1208.3,440.2 1211.0,440.8 C1213.7,441.4 1216.3,442.0 1219.0,442.6 C1221.7,443.1 1224.3,443.7 1227.0,444.3 C1229.7,444.9 1232.3,445.4 1235.0,446.0 C1237.7,446.6 1240.3,447.1 1243.0,447.7 C1245.7,448.3 1248.3,448.8 1251.0,449.4 C1253.7,449.9 1256.3,450.5 1259.0,451.1 C1261.7,451.6 1264.3,452.2 1267.0,452.7 C1269.7,453.3 1272.3,453.8 1275.0,454.4 C1277.7,454.9 1280.3,455.4 1283.0,456.0 C1285.7,456.5 1288.5,457.1 1291.0,457.6 C1293.5,458.1 1296.8,458.8 1298.0,459.0" fill="none" stroke="#3C3C3C" stroke-width="6" stroke-linecap="round" stroke-linejoin="round" /><path d="M160.0,36.7 C168.3,41.8 197.5,59.7 210.0,67.0 C222.5,74.3 229.5,77.8 235.0,80.7 C240.5,83.7 240.3,83.4 243.0,84.8 C245.7,86.1 248.3,87.5 251.0,88.8 C253.7,90.2 256.3,91.5 259.0,92.8 C261.7,94.2 264.3,95.5 267.0,96.9 C269.7,98.2 272.3,99.5 275.0,100.9 C277.7,102.2 280.3,103.5 283.0,104.9 C285.7,106.2 288.3,107.5 291.0,108.9 C293.7,110.2 296.3,111.5 299.0,112.8 C301.7,114.2 304.3,115.5 307.0,116.8 C309.7,118.1 312.3,119.5 315.0,120.8 C317.7,122.1 320.3,123.4 323.0,124.7 C325.7,126.1 328.3,127.4 331.0,128.7 C333.7,130.0 336.3,131.3 339.0,132.6 C341.7,133.9 344.3,135.3 347.0,136.6 C349.7,137.9 352.3,139.2 355.0,140.5 C357.7,141.8 360.3,143.1 363.0,144.4 C365.7,145.7 368.3,147.0 371.0,148.4 C373.7,149.7 376.3,151.0 379.0,152.3 C381.7,153.6 384.3,154.9 387.0,156.2 C389.7,157.5 392.3,158.8 395.0,160.1 C397.7,161.4 400.3,162.7 403.0,164.0 C405.7,165.3 408.3,166.6 411.0,167.9 C413.7,169.2 416.3,170.5 419.0,171.8 C421.7,173.1 424.3,174.4 427.0,175.6 C429.7,176.9 432.3,178.2 435.0,179.5 C437.7,180.8 440.3,182.1 443.0,183.4 C445.7,184.7 448.3,186.0 451.0,187.3 C453.7,188.6 456.3,189.9 459.0,191.2 C461.7,192.4 464.3,193.7 467.0,195.0 C469.7,196.3 472.3,197.6 475.0,198.9 C477.7,200.2 480.3,201.5 483.0,202.8 C485.7,204.0 488.3,205.3 491.0,206.6 C493.7,207.9 496.3,209.2 499.0,210.5 C501.7,211.8 504.3,213.1 507.0,214.3 C509.7,215.6 512.3,216.9 515.0,218.2 C517.7,219.5 520.3,220.8 523.0,222.1 C525.7,223.3 528.3,224.6 531.0,225.9 C533.7,227.2 536.3,228.5 539.0,229.8 C541.7,231.1 544.3,232.3 547.0,233.6 C549.7,234.9 552.3,236.2 555.0,237.5 C557.7,238.8 560.3,240.1 563.0,241.3 C565.7,242.6 568.3,243.9 571.0,245.2 C573.7,246.5 576.3,247.8 579.0,249.1 C581.7,250.3 584.3,251.6 587.0,252.9 C589.7,254.2 592.3,255.5 595.0,256.8 C597.7,258.1 600.3,259.4 603.0,260.6 C605.7,261.9 608.3,263.2 611.0,264.5 C613.7,265.8 616.3,267.1 619.0,268.4 C621.7,269.7 624.3,271.0 627.0,272.3 C629.7,273.6 632.3,274.8 635.0,276.1 C637.7,277.4 640.3,278.7 643.0,280.0 C645.7,281.3 648.3,282.6 651.0,283.9 C653.7,285.2 656.3,286.5 659.0,287.8 C661.7,289.1 664.3,290.4 667.0,291.7 C669.7,293.0 672.3,294.3 675.0,295.6 C677.7,296.9 680.3,298.2 683.0,299.5 C685.7,300.8 688.3,302.1 691.0,303.4 C693.7,304.7 696.3,305.9 699.0,307.2 C701.7,308.5 704.3,309.8 707.0,311.1 C709.7,312.4 712.3,313.6 715.0,314.9 C717.7,316.2 720.3,317.5 723.0,318.7 C725.7,320.0 728.3,321.2 731.0,322.5 C733.7,323.7 736.3,325.0 739.0,326.2 C741.7,327.5 744.3,328.7 747.0,329.9 C749.7,331.1 752.3,332.3 755.0,333.5 C757.7,334.8 760.3,335.9 763.0,337.1 C765.7,338.3 768.3,339.5 771.0,340.7 C773.7,341.8 776.3,343.0 779.0,344.2 C781.7,345.3 784.3,346.4 787.0,347.6 C789.7,348.7 792.3,349.8 795.0,351.0 C797.7,352.1 800.3,353.2 803.0,354.3 C805.7,355.4 808.3,356.5 811.0,357.6 C813.7,358.6 816.3,359.7 819.0,360.8 C821.7,361.9 824.3,362.9 827.0,364.0 C829.7,365.0 832.3,366.1 835.0,367.1 C837.7,368.1 840.3,369.2 843.0,370.2 C845.7,371.2 848.3,372.2 851.0,373.2 C853.7,374.2 856.3,375.2 859.0,376.2 C861.7,377.2 864.3,378.2 867.0,379.2 C869.7,380.1 872.3,381.1 875.0,382.1 C877.7,383.0 880.3,384.0 883.0,384.9 C885.7,385.9 888.3,386.8 891.0,387.7 C893.7,388.7 896.3,389.6 899.0,390.5 C901.7,391.4 904.3,392.3 907.0,393.3 C909.7,394.2 912.3,395.1 915.0,396.0 C917.7,396.9 920.3,397.7 923.0,398.6 C925.7,399.5 928.3,400.4 931.0,401.2 C933.7,402.1 936.3,403.0 939.0,403.8 C941.7,404.7 944.3,405.5 947.0,406.4 C949.7,407.2 952.3,408.1 955.0,408.9 C957.7,409.7 960.3,410.6 963.0,411.4 C965.7,412.2 968.3,413.0 971.0,413.8 C973.7,414.6 976.3,415.5 979.0,416.3 C981.7,417.1 984.3,417.8 987.0,418.6 C989.7,419.4 992.3,420.2 995.0,421.0 C997.7,421.8 1000.3,422.6 1003.0,423.3 C1005.7,424.1 1008.3,424.9 1011.0,425.6 C1013.7,426.4 1016.3,427.1 1019.0,427.9 C1021.7,428.6 1024.3,429.4 1027.0,430.1 C1029.7,430.9 1032.3,431.6 1035.0,432.3 C1037.7,433.1 1040.3,433.8 1043.0,434.5 C1045.7,435.3 1048.3,436.0 1051.0,436.7 C1053.7,437.4 1056.3,438.1 1059.0,438.8 C1061.7,439.6 1064.3,440.3 1067.0,441.0 C1069.7,441.7 1072.3,442.4 1075.0,443.1 C1077.7,443.8 1080.3,444.5 1083.0,445.1 C1085.7,445.8 1088.3,446.5 1091.0,447.2 C1093.7,447.9 1096.3,448.6 1099.0,449.2 C1101.7,449.9 1104.3,450.6 1107.0,451.3 C1109.7,451.9 1112.3,452.6 1115.0,453.3 C1117.7,453.9 1120.3,454.6 1123.0,455.2 C1125.7,455.9 1128.3,456.6 1131.0,457.2 C1133.7,457.9 1136.3,458.5 1139.0,459.2 C1141.7,459.8 1144.3,460.5 1147.0,461.1 C1149.7,461.7 1152.3,462.4 1155.0,463.0 C1157.7,463.7 1160.3,464.3 1163.0,464.9 C1165.7,465.6 1168.3,466.2 1171.0,466.8 C1173.7,467.5 1176.3,468.1 1179.0,468.7 C1181.7,469.4 1184.3,470.0 1187.0,470.6 C1189.7,471.2 1192.3,471.9 1195.0,472.5 C1197.7,473.1 1200.3,473.7 1203.0,474.3 C1205.7,475.0 1208.3,475.6 1211.0,476.2 C1213.7,476.8 1216.3,477.4 1219.0,478.0 C1221.7,478.7 1224.3,479.3 1227.0,479.9 C1229.7,480.5 1232.3,481.1 1235.0,481.7 C1237.7,482.3 1240.3,482.9 1243.0,483.6 C1245.7,484.2 1248.3,484.8 1251.0,485.4 C1253.7,486.0 1256.3,486.6 1259.0,487.2 C1261.7,487.8 1264.3,488.4 1267.0,489.0 C1269.7,489.7 1272.3,490.3 1275.0,490.9 C1277.7,491.5 1280.3,492.1 1283.0,492.7 C1285.7,493.3 1288.5,494.0 1291.0,494.5 C1293.5,495.1 1296.8,495.9 1298.0,496.1" fill="none" stroke="#FF1A10" stroke-width="6.5" stroke-linecap="round" stroke-linejoin="round" /><path d="M1298.0,507.5 C1296.8,507.3 1293.5,506.7 1291.0,506.3 C1288.5,505.9 1285.7,505.4 1283.0,504.9 C1280.3,504.4 1277.7,504.0 1275.0,503.5 C1272.3,503.0 1269.7,502.5 1267.0,502.0 C1264.3,501.6 1261.7,501.1 1259.0,500.6 C1256.3,500.1 1253.7,499.6 1251.0,499.0 C1248.3,498.5 1245.7,498.0 1243.0,497.5 C1240.3,497.0 1237.7,496.5 1235.0,495.9 C1232.3,495.4 1229.7,494.9 1227.0,494.3 C1224.3,493.8 1221.7,493.2 1219.0,492.7 C1216.3,492.1 1213.7,491.6 1211.0,491.0 C1208.3,490.4 1205.7,489.9 1203.0,489.3 C1200.3,488.7 1197.7,488.1 1195.0,487.5 C1192.3,487.0 1189.7,486.4 1187.0,485.8 C1184.3,485.2 1181.7,484.6 1179.0,484.0 C1176.3,483.4 1173.7,482.8 1171.0,482.1 C1168.3,481.5 1165.7,480.9 1163.0,480.3 C1160.3,479.6 1157.7,479.0 1155.0,478.4 C1152.3,477.7 1149.7,477.1 1147.0,476.4 C1144.3,475.8 1141.7,475.1 1139.0,474.5 C1136.3,473.8 1133.7,473.2 1131.0,472.5 C1128.3,471.8 1125.7,471.1 1123.0,470.5 C1120.3,469.8 1117.7,469.1 1115.0,468.4 C1112.3,467.7 1109.7,467.0 1107.0,466.3 C1104.3,465.6 1101.7,464.9 1099.0,464.2 C1096.3,463.5 1093.7,462.7 1091.0,462.0 C1088.3,461.3 1085.7,460.6 1083.0,459.8 C1080.3,459.1 1077.7,458.4 1075.0,457.6 C1072.3,456.9 1069.7,456.1 1067.0,455.4 C1064.3,454.6 1061.7,453.8 1059.0,453.1 C1056.3,452.3 1053.7,451.5 1051.0,450.8 C1048.3,450.0 1045.7,449.2 1043.0,448.4 C1040.3,447.6 1037.7,446.8 1035.0,446.0 C1032.3,445.2 1029.7,444.4 1027.0,443.6 C1024.3,442.8 1021.7,442.0 1019.0,441.2 C1016.3,440.3 1013.7,439.5 1011.0,438.7 C1008.3,437.8 1005.7,437.0 1003.0,436.2 C1000.3,435.3 997.7,434.5 995.0,433.6 C992.3,432.8 989.7,431.9 987.0,431.0 C984.3,430.2 981.7,429.3 979.0,428.4 C976.3,427.6 973.7,426.7 971.0,425.8 C968.3,424.9 965.7,424.0 963.0,423.1 C960.3,422.2 957.7,421.3 955.0,420.4 C952.3,419.5 949.7,418.6 947.0,417.7 C944.3,416.7 941.7,415.8 939.0,414.9 C936.3,414.0 933.7,413.0 931.0,412.1 C928.3,411.1 925.7,410.2 923.0,409.3 C920.3,408.3 917.7,407.3 915.0,406.4 C912.3,405.4 909.7,404.5 907.0,403.5 C904.3,402.5 901.7,401.5 899.0,400.5 C896.3,399.6 893.7,398.6 891.0,397.6 C888.3,396.6 885.7,395.6 883.0,394.6 C880.3,393.6 877.7,392.6 875.0,391.5 C872.3,390.5 869.7,389.5 867.0,388.5 C864.3,387.4 861.7,386.4 859.0,385.4 C856.3,384.3 853.7,383.3 851.0,382.2 C848.3,381.2 845.7,380.1 843.0,379.1 C840.3,378.0 837.7,377.0 835.0,375.9 C832.3,374.8 829.7,373.7 827.0,372.7 C824.3,371.6 821.7,370.5 819.0,369.4 C816.3,368.3 813.7,367.2 811.0,366.1 C808.3,365.0 805.7,363.9 803.0,362.8 C800.3,361.7 797.7,360.5 795.0,359.4 C792.3,358.3 789.7,357.2 787.0,356.0 C784.3,354.9 781.7,353.7 779.0,352.6 C776.3,351.4 773.7,350.3 771.0,349.1 C768.3,348.0 765.7,346.8 763.0,345.6 C760.3,344.5 757.7,343.3 755.0,342.1 C752.3,340.9 749.7,339.8 747.0,338.6 C744.3,337.4 741.7,336.2 739.0,335.0 C736.3,333.8 733.7,332.6 731.0,331.4 C728.3,330.1 725.7,328.9 723.0,327.7 C720.3,326.5 717.7,325.3 715.0,324.0 C712.3,322.8 709.7,321.6 707.0,320.3 C704.3,319.1 701.7,317.9 699.0,316.6 C696.3,315.4 693.7,314.1 691.0,312.8 C688.3,311.6 685.7,310.3 683.0,309.1 C680.3,307.8 677.7,306.5 675.0,305.3 C672.3,304.0 669.7,302.7 667.0,301.4 C664.3,300.1 661.7,298.9 659.0,297.6 C656.3,296.3 653.7,295.0 651.0,293.7 C648.3,292.4 645.7,291.1 643.0,289.8 C640.3,288.5 637.7,287.2 635.0,285.9 C632.3,284.6 629.7,283.3 627.0,281.9 C624.3,280.6 621.7,279.3 619.0,278.0 C616.3,276.7 613.7,275.3 611.0,274.0 C608.3,272.7 605.7,271.3 603.0,270.0 C600.3,268.7 597.7,267.3 595.0,266.0 C592.3,264.7 589.7,263.3 587.0,262.0 C584.3,260.6 581.7,259.3 579.0,257.9 C576.3,256.6 573.7,255.2 571.0,253.9 C568.3,252.5 565.7,251.1 563.0,249.8 C560.3,248.4 557.7,247.1 555.0,245.7 C552.3,244.3 549.7,243.0 547.0,241.6 C544.3,240.2 541.7,238.9 539.0,237.5 C536.3,236.1 533.7,234.8 531.0,233.4 C528.3,232.0 525.7,230.6 523.0,229.2 C520.3,227.9 517.7,226.5 515.0,225.1 C512.3,223.7 509.7,222.3 507.0,221.0 C504.3,219.6 501.7,218.2 499.0,216.8 C496.3,215.4 493.7,214.0 491.0,212.6 C488.3,211.3 485.7,209.9 483.0,208.5 C480.3,207.1 477.7,205.7 475.0,204.3 C472.3,202.9 469.7,201.5 467.0,200.1 C464.3,198.7 461.7,197.3 459.0,195.9 C456.3,194.6 453.7,193.2 451.0,191.8 C448.3,190.4 445.7,189.0 443.0,187.6 C440.3,186.2 437.7,184.8 435.0,183.4 C432.3,182.0 429.7,180.6 427.0,179.2 C424.3,177.8 421.7,176.4 419.0,175.0 C416.3,173.6 413.7,172.2 411.0,170.8 C408.3,169.4 405.7,168.0 403.0,166.7 C400.3,165.3 397.7,163.9 395.0,162.5 C392.3,161.1 389.7,159.7 387.0,158.3 C384.3,156.9 381.7,155.5 379.0,154.1 C376.3,152.7 373.7,151.3 371.0,149.9 C368.3,148.6 365.7,147.2 363.0,145.8 C360.3,144.4 357.7,143.0 355.0,141.6 C352.3,140.2 349.7,138.9 347.0,137.5 C344.3,136.1 341.7,134.7 339.0,133.3 C336.3,132.0 333.7,130.6 331.0,129.2 C328.3,127.8 325.7,126.5 323.0,125.1 C320.3,123.7 317.7,122.3 315.0,121.0 C312.3,119.6 309.7,118.2 307.0,116.9 C304.3,115.5 301.7,114.1 299.0,112.8 C296.3,111.4 293.7,110.1 291.0,108.7 C288.3,107.4 285.7,106.0 283.0,104.6 C280.3,103.3 277.7,101.9 275.0,100.6 C272.3,99.3 269.7,97.9 267.0,96.6 C264.3,95.2 261.7,93.9 259.0,92.6 C256.3,91.2 253.7,89.9 251.0,88.6 C248.3,87.2 245.7,85.9 243.0,84.6 C240.3,83.2 240.5,83.5 235.0,80.6 C229.5,77.7 222.5,74.3 210.0,67.0 C197.5,59.7 168.3,41.8 160.0,36.7" fill="none" stroke="#EEC232" stroke-width="7.4" stroke-linecap="round" stroke-linejoin="round" stroke-dasharray="19 31.5" stroke-dashoffset="6.4"/><path d="M160.0,36.7 C168.3,41.8 197.5,59.7 210.0,67.0 C222.5,74.3 229.5,77.7 235.0,80.7 C240.5,83.6 240.3,83.4 243.0,84.7 C245.7,86.1 248.3,87.4 251.0,88.8 C253.7,90.1 256.3,91.5 259.0,92.8 C261.7,94.2 264.3,95.5 267.0,96.8 C269.7,98.2 272.3,99.5 275.0,100.8 C277.7,102.1 280.3,103.5 283.0,104.8 C285.7,106.1 288.3,107.4 291.0,108.8 C293.7,110.1 296.3,111.4 299.0,112.7 C301.7,114.0 304.3,115.3 307.0,116.6 C309.7,117.9 312.3,119.2 315.0,120.5 C317.7,121.8 320.3,123.1 323.0,124.4 C325.7,125.7 328.3,127.0 331.0,128.3 C333.7,129.5 336.3,130.8 339.0,132.1 C341.7,133.4 344.3,134.7 347.0,135.9 C349.7,137.2 352.3,138.5 355.0,139.7 C357.7,141.0 360.3,142.3 363.0,143.5 C365.7,144.8 368.3,146.1 371.0,147.3 C373.7,148.6 376.3,149.8 379.0,151.1 C381.7,152.3 384.3,153.6 387.0,154.8 C389.7,156.0 392.3,157.3 395.0,158.5 C397.7,159.8 400.3,161.0 403.0,162.2 C405.7,163.4 408.3,164.7 411.0,165.9 C413.7,167.1 416.3,168.3 419.0,169.6 C421.7,170.8 424.3,172.0 427.0,173.2 C429.7,174.4 432.3,175.6 435.0,176.8 C437.7,178.0 440.3,179.2 443.0,180.4 C445.7,181.6 448.3,182.8 451.0,184.0 C453.7,185.2 456.3,186.4 459.0,187.6 C461.7,188.8 464.3,189.9 467.0,191.1 C469.7,192.3 472.3,193.5 475.0,194.7 C477.7,195.8 480.3,197.0 483.0,198.2 C485.7,199.3 488.3,200.5 491.0,201.7 C493.7,202.8 496.3,204.0 499.0,205.1 C501.7,206.3 504.3,207.4 507.0,208.6 C509.7,209.7 512.3,210.9 515.0,212.0 C517.7,213.1 520.3,214.3 523.0,215.4 C525.7,216.5 528.3,217.7 531.0,218.8 C533.7,219.9 536.3,221.1 539.0,222.2 C541.7,223.3 544.3,224.4 547.0,225.5 C549.7,226.6 552.3,227.8 555.0,228.9 C557.7,230.0 560.3,231.1 563.0,232.2 C565.7,233.3 568.3,234.4 571.0,235.5 C573.7,236.6 576.3,237.6 579.0,238.7 C581.7,239.8 584.3,240.9 587.0,242.0 C589.7,243.1 592.3,244.1 595.0,245.2 C597.7,246.3 600.3,247.4 603.0,248.4 C605.7,249.5 608.3,250.6 611.0,251.6 C613.7,252.7 616.3,253.7 619.0,254.8 C621.7,255.9 624.3,256.9 627.0,258.0 C629.7,259.0 632.3,260.0 635.0,261.1 C637.7,262.1 640.3,263.2 643.0,264.2 C645.7,265.2 648.3,266.3 651.0,267.3 C653.7,268.3 656.3,269.3 659.0,270.4 C661.7,271.4 664.3,272.4 667.0,273.4 C669.7,274.4 672.3,275.4 675.0,276.4 C677.7,277.4 680.3,278.4 683.0,279.4 C685.7,280.4 688.3,281.4 691.0,282.4 C693.7,283.4 696.3,284.4 699.0,285.4 C701.7,286.4 704.3,287.4 707.0,288.4 C709.7,289.3 712.3,290.3 715.0,291.3 C717.7,292.3 720.3,293.2 723.0,294.2 C725.7,295.1 728.3,296.1 731.0,297.1 C733.7,298.0 736.3,299.0 739.0,299.9 C741.7,300.9 744.3,301.8 747.0,302.8 C749.7,303.7 752.3,304.7 755.0,305.6 C757.7,306.5 760.3,307.5 763.0,308.4 C765.7,309.3 768.3,310.3 771.0,311.2 C773.7,312.1 776.3,313.0 779.0,313.9 C781.7,314.9 784.3,315.8 787.0,316.7 C789.7,317.6 792.3,318.5 795.0,319.4 C797.7,320.3 800.3,321.2 803.0,322.1 C805.7,323.0 808.3,323.9 811.0,324.8 C813.7,325.6 816.3,326.5 819.0,327.4 C821.7,328.3 824.3,329.2 827.0,330.0 C829.7,330.9 832.3,331.8 835.0,332.6 C837.7,333.5 840.3,334.4 843.0,335.2 C845.7,336.1 848.3,336.9 851.0,337.8 C853.7,338.6 856.3,339.5 859.0,340.3 C861.7,341.2 864.3,342.0 867.0,342.9 C869.7,343.7 872.3,344.5 875.0,345.4 C877.7,346.2 880.3,347.0 883.0,347.8 C885.7,348.7 888.3,349.5 891.0,350.3 C893.7,351.1 896.3,351.9 899.0,352.7 C901.7,353.5 904.3,354.3 907.0,355.1 C909.7,355.9 912.3,356.7 915.0,357.5 C917.7,358.3 920.3,359.1 923.0,359.9 C925.7,360.7 928.3,361.5 931.0,362.2 C933.7,363.0 936.3,363.8 939.0,364.6 C941.7,365.3 944.3,366.1 947.0,366.9 C949.7,367.6 952.3,368.4 955.0,369.1 C957.7,369.9 960.3,370.7 963.0,371.4 C965.7,372.1 968.3,372.9 971.0,373.6 C973.7,374.4 976.3,375.1 979.0,375.8 C981.7,376.6 984.3,377.3 987.0,378.0 C989.7,378.8 992.3,379.5 995.0,380.2 C997.7,380.9 1000.3,381.6 1003.0,382.3 C1005.7,383.1 1008.3,383.8 1011.0,384.5 C1013.7,385.2 1016.3,385.9 1019.0,386.6 C1021.7,387.3 1024.3,387.9 1027.0,388.6 C1029.7,389.3 1032.3,390.0 1035.0,390.7 C1037.7,391.4 1040.3,392.0 1043.0,392.7 C1045.7,393.4 1048.3,394.1 1051.0,394.7 C1053.7,395.4 1056.3,396.0 1059.0,396.7 C1061.7,397.4 1064.3,398.0 1067.0,398.7 C1069.7,399.3 1072.3,400.0 1075.0,400.6 C1077.7,401.2 1080.3,401.9 1083.0,402.5 C1085.7,403.1 1088.3,403.8 1091.0,404.4 C1093.7,405.0 1096.3,405.6 1099.0,406.3 C1101.7,406.9 1104.3,407.5 1107.0,408.1 C1109.7,408.7 1112.3,409.3 1115.0,409.9 C1117.7,410.5 1120.3,411.1 1123.0,411.7 C1125.7,412.3 1128.3,412.9 1131.0,413.5 C1133.7,414.1 1136.3,414.7 1139.0,415.3 C1141.7,415.8 1144.3,416.4 1147.0,417.0 C1149.7,417.5 1152.3,418.1 1155.0,418.7 C1157.7,419.2 1160.3,419.8 1163.0,420.4 C1165.7,420.9 1168.3,421.5 1171.0,422.0 C1173.7,422.6 1176.3,423.1 1179.0,423.6 C1181.7,424.2 1184.3,424.7 1187.0,425.2 C1189.7,425.8 1192.3,426.3 1195.0,426.8 C1197.7,427.4 1200.3,427.9 1203.0,428.4 C1205.7,428.9 1208.3,429.4 1211.0,429.9 C1213.7,430.4 1216.3,430.9 1219.0,431.4 C1221.7,431.9 1224.3,432.4 1227.0,432.9 C1229.7,433.4 1232.3,433.9 1235.0,434.4 C1237.7,434.9 1240.3,435.3 1243.0,435.8 C1245.7,436.3 1248.3,436.8 1251.0,437.2 C1253.7,437.7 1256.3,438.2 1259.0,438.6 C1261.7,439.1 1264.3,439.5 1267.0,440.0 C1269.7,440.4 1272.3,440.9 1275.0,441.3 C1277.7,441.8 1280.3,442.2 1283.0,442.7 C1285.7,443.1 1288.5,443.5 1291.0,443.9 C1293.5,444.3 1296.8,444.9 1298.0,445.1" fill="none" stroke="#44546A" stroke-width="5.2" stroke-linecap="round" stroke-linejoin="round" stroke-dasharray="10 11.8" /><path d="M160.0,36.7 C168.3,41.8 197.5,59.7 210.0,67.0 C222.5,74.3 229.5,77.8 235.0,80.8 C240.5,83.7 240.3,83.4 243.0,84.7 C245.7,86.0 248.3,87.3 251.0,88.6 C253.7,89.9 256.3,91.2 259.0,92.6 C261.7,93.9 264.3,95.2 267.0,96.5 C269.7,97.8 272.3,99.1 275.0,100.4 C277.7,101.7 280.3,103.0 283.0,104.3 C285.7,105.6 288.3,106.9 291.0,108.2 C293.7,109.5 296.3,110.8 299.0,112.1 C301.7,113.5 304.3,114.8 307.0,116.1 C309.7,117.4 312.3,118.7 315.0,120.0 C317.7,121.3 320.3,122.6 323.0,123.9 C325.7,125.2 328.3,126.5 331.0,127.8 C333.7,129.1 336.3,130.4 339.0,131.6 C341.7,132.9 344.3,134.2 347.0,135.5 C349.7,136.8 352.3,138.1 355.0,139.4 C357.7,140.7 360.3,142.0 363.0,143.3 C365.7,144.6 368.3,145.9 371.0,147.1 C373.7,148.4 376.3,149.7 379.0,151.0 C381.7,152.3 384.3,153.6 387.0,154.9 C389.7,156.1 392.3,157.4 395.0,158.7 C397.7,160.0 400.3,161.3 403.0,162.5 C405.7,163.8 408.3,165.1 411.0,166.4 C413.7,167.6 416.3,168.9 419.0,170.2 C421.7,171.4 424.3,172.7 427.0,174.0 C429.7,175.2 432.3,176.5 435.0,177.8 C437.7,179.0 440.3,180.3 443.0,181.6 C445.7,182.8 448.3,184.1 451.0,185.3 C453.7,186.6 456.3,187.8 459.0,189.1 C461.7,190.3 464.3,191.6 467.0,192.8 C469.7,194.1 472.3,195.3 475.0,196.6 C477.7,197.8 480.3,199.1 483.0,200.3 C485.7,201.5 488.3,202.8 491.0,204.0 C493.7,205.3 496.3,206.5 499.0,207.7 C501.7,209.0 504.3,210.2 507.0,211.4 C509.7,212.6 512.3,213.9 515.0,215.1 C517.7,216.3 520.3,217.5 523.0,218.7 C525.7,220.0 528.3,221.2 531.0,222.4 C533.7,223.6 536.3,224.8 539.0,226.0 C541.7,227.2 544.3,228.4 547.0,229.6 C549.7,230.8 552.3,232.0 555.0,233.2 C557.7,234.4 560.3,235.6 563.0,236.8 C565.7,238.0 568.3,239.2 571.0,240.4 C573.7,241.5 576.3,242.7 579.0,243.9 C581.7,245.1 584.3,246.3 587.0,247.4 C589.7,248.6 592.3,249.8 595.0,251.0 C597.7,252.1 600.3,253.3 603.0,254.4 C605.7,255.6 608.3,256.8 611.0,257.9 C613.7,259.1 616.3,260.2 619.0,261.4 C621.7,262.5 624.3,263.7 627.0,264.8 C629.7,265.9 632.3,267.1 635.0,268.2 C637.7,269.4 640.3,270.5 643.0,271.6 C645.7,272.7 648.3,273.9 651.0,275.0 C653.7,276.1 656.3,277.2 659.0,278.3 C661.7,279.5 664.3,280.6 667.0,281.7 C669.7,282.8 672.3,283.9 675.0,285.0 C677.7,286.1 680.3,287.2 683.0,288.3 C685.7,289.4 688.3,290.4 691.0,291.5 C693.7,292.6 696.3,293.7 699.0,294.8 C701.7,295.9 704.3,296.9 707.0,298.0 C709.7,299.1 712.3,300.1 715.0,301.2 C717.7,302.2 720.3,303.3 723.0,304.4 C725.7,305.4 728.3,306.5 731.0,307.5 C733.7,308.5 736.3,309.6 739.0,310.6 C741.7,311.7 744.3,312.7 747.0,313.7 C749.7,314.7 752.3,315.8 755.0,316.8 C757.7,317.8 760.3,318.8 763.0,319.8 C765.7,320.8 768.3,321.8 771.0,322.8 C773.7,323.8 776.3,324.8 779.0,325.8 C781.7,326.8 784.3,327.8 787.0,328.8 C789.7,329.8 792.3,330.8 795.0,331.7 C797.7,332.7 800.3,333.7 803.0,334.6 C805.7,335.6 808.3,336.6 811.0,337.5 C813.7,338.5 816.3,339.4 819.0,340.4 C821.7,341.3 824.3,342.3 827.0,343.2 C829.7,344.1 832.3,345.1 835.0,346.0 C837.7,346.9 840.3,347.9 843.0,348.8 C845.7,349.7 848.3,350.6 851.0,351.5 C853.7,352.4 856.3,353.4 859.0,354.3 C861.7,355.2 864.3,356.1 867.0,357.0 C869.7,357.8 872.3,358.7 875.0,359.6 C877.7,360.5 880.3,361.4 883.0,362.3 C885.7,363.1 888.3,364.0 891.0,364.9 C893.7,365.8 896.3,366.6 899.0,367.5 C901.7,368.3 904.3,369.2 907.0,370.0 C909.7,370.9 912.3,371.7 915.0,372.6 C917.7,373.4 920.3,374.2 923.0,375.1 C925.7,375.9 928.3,376.7 931.0,377.6 C933.7,378.4 936.3,379.2 939.0,380.0 C941.7,380.8 944.3,381.6 947.0,382.5 C949.7,383.3 952.3,384.1 955.0,384.9 C957.7,385.7 960.3,386.5 963.0,387.2 C965.7,388.0 968.3,388.8 971.0,389.6 C973.7,390.4 976.3,391.2 979.0,391.9 C981.7,392.7 984.3,393.5 987.0,394.3 C989.7,395.0 992.3,395.8 995.0,396.5 C997.7,397.3 1000.3,398.1 1003.0,398.8 C1005.7,399.6 1008.3,400.3 1011.0,401.1 C1013.7,401.8 1016.3,402.6 1019.0,403.3 C1021.7,404.0 1024.3,404.8 1027.0,405.5 C1029.7,406.2 1032.3,407.0 1035.0,407.7 C1037.7,408.4 1040.3,409.1 1043.0,409.8 C1045.7,410.6 1048.3,411.3 1051.0,412.0 C1053.7,412.7 1056.3,413.4 1059.0,414.1 C1061.7,414.8 1064.3,415.5 1067.0,416.2 C1069.7,416.9 1072.3,417.6 1075.0,418.3 C1077.7,419.0 1080.3,419.7 1083.0,420.4 C1085.7,421.1 1088.3,421.8 1091.0,422.4 C1093.7,423.1 1096.3,423.8 1099.0,424.5 C1101.7,425.2 1104.3,425.8 1107.0,426.5 C1109.7,427.2 1112.3,427.8 1115.0,428.5 C1117.7,429.2 1120.3,429.8 1123.0,430.5 C1125.7,431.1 1128.3,431.8 1131.0,432.4 C1133.7,433.1 1136.3,433.7 1139.0,434.4 C1141.7,435.0 1144.3,435.7 1147.0,436.3 C1149.7,436.9 1152.3,437.6 1155.0,438.2 C1157.7,438.8 1160.3,439.5 1163.0,440.1 C1165.7,440.7 1168.3,441.3 1171.0,441.9 C1173.7,442.6 1176.3,443.2 1179.0,443.8 C1181.7,444.4 1184.3,445.0 1187.0,445.6 C1189.7,446.2 1192.3,446.8 1195.0,447.4 C1197.7,448.0 1200.3,448.6 1203.0,449.2 C1205.7,449.8 1208.3,450.4 1211.0,451.0 C1213.7,451.6 1216.3,452.1 1219.0,452.7 C1221.7,453.3 1224.3,453.9 1227.0,454.4 C1229.7,455.0 1232.3,455.6 1235.0,456.2 C1237.7,456.7 1240.3,457.3 1243.0,457.8 C1245.7,458.4 1248.3,459.0 1251.0,459.5 C1253.7,460.1 1256.3,460.6 1259.0,461.2 C1261.7,461.7 1264.3,462.2 1267.0,462.8 C1269.7,463.3 1272.3,463.9 1275.0,464.4 C1277.7,464.9 1280.3,465.4 1283.0,466.0 C1285.7,466.5 1288.5,467.0 1291.0,467.5 C1293.5,468.0 1296.8,468.7 1298.0,468.9" fill="none" stroke="#44546A" stroke-width="5.2" stroke-linecap="round" stroke-linejoin="round" stroke-dasharray="10 11.8" /><path d="M160.0,36.7 C168.3,41.8 197.5,59.7 210.0,67.0 C222.5,74.3 229.5,77.8 235.0,80.7 C240.5,83.7 240.3,83.4 243.0,84.8 C245.7,86.1 248.3,87.5 251.0,88.8 C253.7,90.2 256.3,91.5 259.0,92.8 C261.7,94.2 264.3,95.5 267.0,96.9 C269.7,98.2 272.3,99.5 275.0,100.9 C277.7,102.2 280.3,103.5 283.0,104.9 C285.7,106.2 288.3,107.5 291.0,108.9 C293.7,110.2 296.3,111.5 299.0,112.8 C301.7,114.2 304.3,115.5 307.0,116.8 C309.7,118.1 312.3,119.5 315.0,120.8 C317.7,122.1 320.3,123.4 323.0,124.7 C325.7,126.1 328.3,127.4 331.0,128.7 C333.7,130.0 336.3,131.3 339.0,132.6 C341.7,133.9 344.3,135.3 347.0,136.6 C349.7,137.9 352.3,139.2 355.0,140.5 C357.7,141.8 360.3,143.1 363.0,144.4 C365.7,145.7 368.3,147.0 371.0,148.4 C373.7,149.7 376.3,151.0 379.0,152.3 C381.7,153.6 384.3,154.9 387.0,156.2 C389.7,157.5 392.3,158.8 395.0,160.1 C397.7,161.4 400.3,162.7 403.0,164.0 C405.7,165.3 408.3,166.6 411.0,167.9 C413.7,169.2 416.3,170.5 419.0,171.8 C421.7,173.1 424.3,174.4 427.0,175.6 C429.7,176.9 432.3,178.2 435.0,179.5 C437.7,180.8 440.3,182.1 443.0,183.4 C445.7,184.7 448.3,186.0 451.0,187.3 C453.7,188.6 456.3,189.9 459.0,191.2 C461.7,192.4 464.3,193.7 467.0,195.0 C469.7,196.3 472.3,197.6 475.0,198.9 C477.7,200.2 480.3,201.5 483.0,202.8 C485.7,204.0 488.3,205.3 491.0,206.6 C493.7,207.9 496.3,209.2 499.0,210.5 C501.7,211.8 504.3,213.1 507.0,214.3 C509.7,215.6 512.3,216.9 515.0,218.2 C517.7,219.5 520.3,220.8 523.0,222.1 C525.7,223.3 528.3,224.6 531.0,225.9 C533.7,227.2 536.3,228.5 539.0,229.8 C541.7,231.1 544.3,232.3 547.0,233.6 C549.7,234.9 552.3,236.2 555.0,237.5 C557.7,238.8 560.3,240.1 563.0,241.3 C565.7,242.6 568.3,243.9 571.0,245.2 C573.7,246.5 576.3,247.8 579.0,249.1 C581.7,250.3 584.3,251.6 587.0,252.9 C589.7,254.2 592.3,255.5 595.0,256.8 C597.7,258.1 600.3,259.4 603.0,260.6 C605.7,261.9 608.3,263.2 611.0,264.5 C613.7,265.8 616.3,267.1 619.0,268.4 C621.7,269.7 624.3,271.0 627.0,272.3 C629.7,273.6 632.3,274.8 635.0,276.1 C637.7,277.4 640.3,278.7 643.0,280.0 C645.7,281.3 648.3,282.6 651.0,283.9 C653.7,285.2 656.3,286.5 659.0,287.8 C661.7,289.1 664.3,290.4 667.0,291.7 C669.7,293.0 672.3,294.3 675.0,295.6 C677.7,296.9 680.3,298.2 683.0,299.5 C685.7,300.8 688.3,302.1 691.0,303.4 C693.7,304.7 696.3,305.9 699.0,307.2 C701.7,308.5 704.3,309.8 707.0,311.1 C709.7,312.4 712.3,313.6 715.0,314.9 C717.7,316.2 720.3,317.5 723.0,318.7 C725.7,320.0 728.3,321.2 731.0,322.5 C733.7,323.7 736.3,325.0 739.0,326.2 C741.7,327.5 744.3,328.7 747.0,329.9 C749.7,331.1 752.3,332.3 755.0,333.5 C757.7,334.8 760.3,335.9 763.0,337.1 C765.7,338.3 768.3,339.5 771.0,340.7 C773.7,341.8 776.3,343.0 779.0,344.2 C781.7,345.3 784.3,346.4 787.0,347.6 C789.7,348.7 792.3,349.8 795.0,351.0 C797.7,352.1 800.3,353.2 803.0,354.3 C805.7,355.4 808.3,356.5 811.0,357.6 C813.7,358.6 816.3,359.7 819.0,360.8 C821.7,361.9 824.3,362.9 827.0,364.0 C829.7,365.0 832.3,366.1 835.0,367.1 C837.7,368.1 840.3,369.2 843.0,370.2 C845.7,371.2 848.3,372.2 851.0,373.2 C853.7,374.2 856.3,375.2 859.0,376.2 C861.7,377.2 864.3,378.2 867.0,379.2 C869.7,380.1 872.3,381.1 875.0,382.1 C877.7,383.0 880.3,384.0 883.0,384.9 C885.7,385.9 888.3,386.8 891.0,387.7 C893.7,388.7 896.3,389.6 899.0,390.5 C901.7,391.4 904.3,392.3 907.0,393.3 C909.7,394.2 912.3,395.1 915.0,396.0 C917.7,396.9 920.3,397.7 923.0,398.6 C925.7,399.5 928.3,400.4 931.0,401.2 C933.7,402.1 936.3,403.0 939.0,403.8 C941.7,404.7 944.3,405.5 947.0,406.4 C949.7,407.2 952.3,408.1 955.0,408.9 C957.7,409.7 960.3,410.6 963.0,411.4 C965.7,412.2 968.3,413.0 971.0,413.8 C973.7,414.6 976.3,415.5 979.0,416.3 C981.7,417.1 984.3,417.8 987.0,418.6 C989.7,419.4 992.3,420.2 995.0,421.0 C997.7,421.8 1000.3,422.6 1003.0,423.3 C1005.7,424.1 1008.3,424.9 1011.0,425.6 C1013.7,426.4 1016.3,427.1 1019.0,427.9 C1021.7,428.6 1024.3,429.4 1027.0,430.1 C1029.7,430.9 1032.3,431.6 1035.0,432.3 C1037.7,433.1 1040.3,433.8 1043.0,434.5 C1045.7,435.3 1048.3,436.0 1051.0,436.7 C1053.7,437.4 1056.3,438.1 1059.0,438.8 C1061.7,439.6 1064.3,440.3 1067.0,441.0 C1069.7,441.7 1072.3,442.4 1075.0,443.1 C1077.7,443.8 1080.3,444.5 1083.0,445.1 C1085.7,445.8 1088.3,446.5 1091.0,447.2 C1093.7,447.9 1096.3,448.6 1099.0,449.2 C1101.7,449.9 1104.3,450.6 1107.0,451.3 C1109.7,451.9 1112.3,452.6 1115.0,453.3 C1117.7,453.9 1120.3,454.6 1123.0,455.2 C1125.7,455.9 1128.3,456.6 1131.0,457.2 C1133.7,457.9 1136.3,458.5 1139.0,459.2 C1141.7,459.8 1144.3,460.5 1147.0,461.1 C1149.7,461.7 1152.3,462.4 1155.0,463.0 C1157.7,463.7 1160.3,464.3 1163.0,464.9 C1165.7,465.6 1168.3,466.2 1171.0,466.8 C1173.7,467.5 1176.3,468.1 1179.0,468.7 C1181.7,469.4 1184.3,470.0 1187.0,470.6 C1189.7,471.2 1192.3,471.9 1195.0,472.5 C1197.7,473.1 1200.3,473.7 1203.0,474.3 C1205.7,475.0 1208.3,475.6 1211.0,476.2 C1213.7,476.8 1216.3,477.4 1219.0,478.0 C1221.7,478.7 1224.3,479.3 1227.0,479.9 C1229.7,480.5 1232.3,481.1 1235.0,481.7 C1237.7,482.3 1240.3,482.9 1243.0,483.6 C1245.7,484.2 1248.3,484.8 1251.0,485.4 C1253.7,486.0 1256.3,486.6 1259.0,487.2 C1261.7,487.8 1264.3,488.4 1267.0,489.0 C1269.7,489.7 1272.3,490.3 1275.0,490.9 C1277.7,491.5 1280.3,492.1 1283.0,492.7 C1285.7,493.3 1288.5,494.0 1291.0,494.5 C1293.5,495.1 1296.8,495.9 1298.0,496.1" fill="none" stroke="#3C4145" stroke-width="4.4" stroke-linecap="round" stroke-linejoin="round" stroke-dasharray="11 10.8" /><text x="118.7" y="26.6" font-size="35" text-anchor="end" >1800</text><text x="118.7" y="126.6" font-size="35" text-anchor="end" >1600</text><text x="118.7" y="226.6" font-size="35" text-anchor="end" >1400</text><text x="118.7" y="326.6" font-size="35" text-anchor="end" >1200</text><text x="118.7" y="426.6" font-size="35" text-anchor="end" >1000</text><text x="118.7" y="526.6" font-size="35" text-anchor="end" >800</text><text x="118.7" y="626.6" font-size="35" text-anchor="end" >600</text><text x="160.7" y="675.8" font-size="35" text-anchor="middle" >2010</text><text x="287.0" y="675.8" font-size="35" text-anchor="middle" >2020</text><text x="413.3" y="675.8" font-size="35" text-anchor="middle" >2030</text><text x="539.6" y="675.8" font-size="35" text-anchor="middle" >2040</text><text x="665.9" y="675.8" font-size="35" text-anchor="middle" >2050</text><text x="792.2" y="675.8" font-size="35" text-anchor="middle" >2060</text><text x="918.5" y="675.8" font-size="35" text-anchor="middle" >2070</text><text x="1044.8" y="675.8" font-size="35" text-anchor="middle" >2080</text><text x="1171.1" y="675.8" font-size="35" text-anchor="middle" >2090</text><text x="1297.4" y="675.8" font-size="35" text-anchor="middle" >2100</text><text transform="translate(28.4,321.4) rotate(-90)" font-size="35" textLength="75.5" lengthAdjust="spacingAndGlyphs">EESC</text><text x="1202.8" y="73.3" font-size="53" text-anchor="start" textLength="36.5" lengthAdjust="spacingAndGlyphs" font-weight="bold" >A</text><rect x="85.2" y="713.3" width="47.4" height="14.8" fill="#F2E5D7"/><text x="139.6" y="728.9" font-size="23.2" text-anchor="start" textLength="223.3" lengthAdjust="spacingAndGlyphs" >Non-Feedstock ODSs</text><rect x="465.6" y="713.3" width="47.4" height="14.8" fill="#5177C8"/><text x="519.3" y="728.9" font-size="23.2" text-anchor="start" textLength="47" lengthAdjust="spacingAndGlyphs" >CCl4</text><rect x="845.8" y="713.3" width="47.4" height="14.8" fill="#F84C55"/><text x="899.6" y="728.9" font-size="23.2" text-anchor="start" textLength="89.5" lengthAdjust="spacingAndGlyphs" >CH3CCl3</text><rect x="85.2" y="747.8" width="47.4" height="14.8" fill="#E37B3A"/><text x="139.6" y="763.4" font-size="23.2" text-anchor="start" textLength="109.3" lengthAdjust="spacingAndGlyphs" >CFC-113/a</text><rect x="465.6" y="747.8" width="47.4" height="14.8" fill="#E8E8E8"/><text x="519.3" y="763.4" font-size="23.2" text-anchor="start" textLength="110.5" lengthAdjust="spacingAndGlyphs" >CFC-114/a</text><rect x="845.8" y="747.8" width="47.4" height="14.8" fill="#5BC2EE"/><text x="899.6" y="763.4" font-size="23.2" text-anchor="start" textLength="87.1" lengthAdjust="spacingAndGlyphs" >CFC-115</text><rect x="85.2" y="782.3" width="47.4" height="14.8" fill="#6AA2D7"/><text x="139.6" y="797.9" font-size="23.2" text-anchor="start" textLength="88.4" lengthAdjust="spacingAndGlyphs" >HCFC-22</text><rect x="465.6" y="782.3" width="47.4" height="14.8" fill="#000000"/><text x="519.3" y="797.9" font-size="23.2" text-anchor="start" textLength="104.2" lengthAdjust="spacingAndGlyphs" >HCFC-124</text><rect x="845.8" y="782.3" width="47.4" height="14.8" fill="#A04C1E"/><text x="899.6" y="797.9" font-size="23.2" text-anchor="start" textLength="117.4" lengthAdjust="spacingAndGlyphs" >HCFC-141b</text><rect x="85.2" y="816.8" width="47.4" height="14.8" fill="#646464"/><text x="139.6" y="832.4" font-size="23.2" text-anchor="start" textLength="116.7" lengthAdjust="spacingAndGlyphs" >HCFC-142b</text><rect x="465.6" y="816.8" width="47.4" height="14.8" fill="#7AB64A"/><text x="519.3" y="832.4" font-size="23.2" text-anchor="start" textLength="76.3" lengthAdjust="spacingAndGlyphs" >H-1301</text><line x1="845.8" y1="824.1999999999999" x2="892.8" y2="824.1999999999999" stroke="#3C3C3C" stroke-width="6.5" stroke-linecap="round"/><text x="899.6" y="832.4" font-size="23.2" text-anchor="start" textLength="45" lengthAdjust="spacingAndGlyphs" >BAU</text><line x1="85.2" y1="858.6999999999999" x2="132.2" y2="858.6999999999999" stroke="#FF1A10" stroke-width="7" stroke-linecap="round"/><text x="139.6" y="866.9" font-size="23.2" text-anchor="start" textLength="50" lengthAdjust="spacingAndGlyphs" >LOW</text><line x1="465.6" y1="858.6999999999999" x2="489.6" y2="858.6999999999999" stroke="#EEC232" stroke-width="7" stroke-linecap="round"/><text x="519.3" y="866.9" font-size="23.2" text-anchor="start" textLength="56.2" lengthAdjust="spacingAndGlyphs" >ZERO</text><line x1="845.8" y1="858.6999999999999" x2="892.8" y2="858.6999999999999" stroke="#C31E14" stroke-width="6" stroke-linecap="round" stroke-dasharray="10 11"/><text x="899.6" y="866.9" font-size="23.2" text-anchor="start" textLength="111.9" lengthAdjust="spacingAndGlyphs" >1980 EESC</text><line x1="151.7" y1="945.0" x2="1316" y2="945.0" stroke="#D9D9D9" stroke-width="2"/><line x1="151.7" y1="1022.5" x2="1316" y2="1022.5" stroke="#D9D9D9" stroke-width="2"/><line x1="151.7" y1="1100.0" x2="1316" y2="1100.0" stroke="#D9D9D9" stroke-width="2"/><line x1="151.7" y1="1177.5" x2="1316" y2="1177.5" stroke="#D9D9D9" stroke-width="2"/><line x1="151.7" y1="1255.0" x2="1316" y2="1255.0" stroke="#D9D9D9" stroke-width="2"/><line x1="151.7" y1="1332.5" x2="1316" y2="1332.5" stroke="#D9D9D9" stroke-width="2"/><line x1="151.7" y1="1410.0" x2="1316" y2="1410.0" stroke="#D9D9D9" stroke-width="2"/><line x1="151.7" y1="1487.5" x2="1316" y2="1487.5" stroke="#D9D9D9" stroke-width="2"/><line x1="151.7" y1="1565.0" x2="1316" y2="1565.0" stroke="#D9D9D9" stroke-width="2"/><path d="M157.0,1001.5 C158.3,1001.5 162.3,1001.4 165.0,1001.4 C167.7,1001.4 170.3,1001.4 173.0,1001.4 C175.7,1001.5 178.3,1001.5 181.0,1001.6 C183.7,1001.7 186.3,1001.8 189.0,1001.9 C191.7,1002.0 194.3,1002.1 197.0,1002.3 C199.7,1002.4 202.3,1002.6 205.0,1002.8 C207.7,1003.0 210.3,1003.2 213.0,1003.5 C215.7,1003.7 218.3,1004.0 221.0,1004.3 C223.7,1004.6 226.3,1004.9 229.0,1005.2 C231.7,1005.5 234.3,1005.8 237.0,1006.2 C239.7,1006.5 242.3,1006.9 245.0,1007.3 C247.7,1007.7 250.3,1008.1 253.0,1008.6 C255.7,1009.0 258.3,1009.4 261.0,1009.9 C263.7,1010.4 266.3,1010.8 269.0,1011.3 C271.7,1011.8 274.3,1012.4 277.0,1012.9 C279.7,1013.4 282.3,1014.0 285.0,1014.5 C287.7,1015.1 290.3,1015.7 293.0,1016.3 C295.7,1016.8 298.3,1017.5 301.0,1018.1 C303.7,1018.7 306.3,1019.3 309.0,1020.0 C311.7,1020.6 314.3,1021.3 317.0,1022.0 C319.7,1022.7 322.3,1023.3 325.0,1024.1 C327.7,1024.8 330.3,1025.5 333.0,1026.2 C335.7,1026.9 338.3,1027.7 341.0,1028.4 C343.7,1029.2 346.3,1030.0 349.0,1030.7 C351.7,1031.5 354.3,1032.3 357.0,1033.1 C359.7,1033.9 362.3,1034.7 365.0,1035.5 C367.7,1036.4 370.3,1037.2 373.0,1038.0 C375.7,1038.9 378.3,1039.7 381.0,1040.6 C383.7,1041.5 386.3,1042.3 389.0,1043.2 C391.7,1044.1 394.3,1045.0 397.0,1045.9 C399.7,1046.8 402.3,1047.7 405.0,1048.6 C407.7,1049.5 410.3,1050.5 413.0,1051.4 C415.7,1052.3 418.3,1053.3 421.0,1054.2 C423.7,1055.1 426.3,1056.1 429.0,1057.1 C431.7,1058.0 434.3,1059.0 437.0,1060.0 C439.7,1060.9 442.3,1061.9 445.0,1062.9 C447.7,1063.9 450.3,1064.9 453.0,1065.9 C455.7,1066.9 458.3,1067.9 461.0,1068.9 C463.7,1069.9 466.3,1070.9 469.0,1071.9 C471.7,1072.9 474.3,1073.9 477.0,1074.9 C479.7,1076.0 482.3,1077.0 485.0,1078.0 C487.7,1079.0 490.3,1080.1 493.0,1081.1 C495.7,1082.1 498.3,1083.2 501.0,1084.2 C503.7,1085.3 506.3,1086.3 509.0,1087.4 C511.7,1088.4 514.3,1089.4 517.0,1090.5 C519.7,1091.5 522.3,1092.6 525.0,1093.6 C527.7,1094.7 530.3,1095.8 533.0,1096.8 C535.7,1097.9 538.3,1098.9 541.0,1100.0 C543.7,1101.0 546.3,1102.1 549.0,1103.1 C551.7,1104.2 554.3,1105.3 557.0,1106.3 C559.7,1107.4 562.3,1108.4 565.0,1109.5 C567.7,1110.5 570.3,1111.6 573.0,1112.6 C575.7,1113.7 578.3,1114.8 581.0,1115.8 C583.7,1116.9 586.3,1117.9 589.0,1118.9 C591.7,1120.0 594.3,1121.0 597.0,1122.1 C599.7,1123.1 602.3,1124.2 605.0,1125.2 C607.7,1126.2 610.3,1127.3 613.0,1128.3 C615.7,1129.3 618.3,1130.4 621.0,1131.4 C623.7,1132.4 626.3,1133.5 629.0,1134.5 C631.7,1135.5 634.3,1136.5 637.0,1137.5 C639.7,1138.5 642.3,1139.6 645.0,1140.6 C647.7,1141.6 650.3,1142.6 653.0,1143.6 C655.7,1144.6 658.3,1145.6 661.0,1146.6 C663.7,1147.5 666.3,1148.5 669.0,1149.5 C671.7,1150.5 674.3,1151.5 677.0,1152.5 C679.7,1153.4 682.3,1154.4 685.0,1155.4 C687.7,1156.4 690.3,1157.3 693.0,1158.3 C695.7,1159.2 698.3,1160.2 701.0,1161.1 C703.7,1162.1 706.3,1163.0 709.0,1164.0 C711.7,1164.9 714.3,1165.9 717.0,1166.8 C719.7,1167.7 722.3,1168.7 725.0,1169.6 C727.7,1170.5 730.3,1171.4 733.0,1172.4 C735.7,1173.3 738.3,1174.2 741.0,1175.1 C743.7,1176.0 746.3,1176.9 749.0,1177.8 C751.7,1178.7 754.3,1179.6 757.0,1180.5 C759.7,1181.3 762.3,1182.2 765.0,1183.1 C767.7,1184.0 770.3,1184.8 773.0,1185.7 C775.7,1186.6 778.3,1187.4 781.0,1188.3 C783.7,1189.1 786.3,1190.0 789.0,1190.8 C791.7,1191.7 794.3,1192.5 797.0,1193.3 C799.7,1194.2 802.3,1195.0 805.0,1195.8 C807.7,1196.6 810.3,1197.5 813.0,1198.3 C815.7,1199.1 818.3,1199.9 821.0,1200.7 C823.7,1201.5 826.3,1202.3 829.0,1203.1 C831.7,1203.9 834.3,1204.7 837.0,1205.5 C839.7,1206.3 842.3,1207.0 845.0,1207.8 C847.7,1208.6 850.3,1209.4 853.0,1210.1 C855.7,1210.9 858.3,1211.7 861.0,1212.4 C863.7,1213.2 866.3,1214.0 869.0,1214.7 C871.7,1215.5 874.3,1216.2 877.0,1216.9 C879.7,1217.7 882.3,1218.4 885.0,1219.2 C887.7,1219.9 890.3,1220.6 893.0,1221.4 C895.7,1222.1 898.3,1222.8 901.0,1223.5 C903.7,1224.2 906.3,1225.0 909.0,1225.7 C911.7,1226.4 914.3,1227.1 917.0,1227.8 C919.7,1228.5 922.3,1229.2 925.0,1229.9 C927.7,1230.6 930.3,1231.3 933.0,1232.0 C935.7,1232.7 938.3,1233.4 941.0,1234.0 C943.7,1234.7 946.3,1235.4 949.0,1236.1 C951.7,1236.8 954.3,1237.4 957.0,1238.1 C959.7,1238.8 962.3,1239.4 965.0,1240.1 C967.7,1240.8 970.3,1241.4 973.0,1242.1 C975.7,1242.7 978.3,1243.4 981.0,1244.0 C983.7,1244.7 986.3,1245.3 989.0,1246.0 C991.7,1246.6 994.3,1247.3 997.0,1247.9 C999.7,1248.5 1002.3,1249.2 1005.0,1249.8 C1007.7,1250.4 1010.3,1251.1 1013.0,1251.7 C1015.7,1252.3 1018.3,1252.9 1021.0,1253.6 C1023.7,1254.2 1026.3,1254.8 1029.0,1255.4 C1031.7,1256.0 1034.3,1256.7 1037.0,1257.3 C1039.7,1257.9 1042.3,1258.5 1045.0,1259.1 C1047.7,1259.7 1050.3,1260.3 1053.0,1260.9 C1055.7,1261.5 1058.3,1262.1 1061.0,1262.7 C1063.7,1263.3 1066.3,1263.9 1069.0,1264.5 C1071.7,1265.1 1074.3,1265.7 1077.0,1266.3 C1079.7,1266.8 1082.3,1267.4 1085.0,1268.0 C1087.7,1268.6 1090.3,1269.2 1093.0,1269.8 C1095.7,1270.3 1098.3,1270.9 1101.0,1271.5 C1103.7,1272.1 1106.3,1272.6 1109.0,1273.2 C1111.7,1273.8 1114.3,1274.4 1117.0,1274.9 C1119.7,1275.5 1122.3,1276.1 1125.0,1276.6 C1127.7,1277.2 1130.3,1277.8 1133.0,1278.3 C1135.7,1278.9 1138.3,1279.4 1141.0,1280.0 C1143.7,1280.6 1146.3,1281.1 1149.0,1281.7 C1151.7,1282.2 1154.3,1282.8 1157.0,1283.3 C1159.7,1283.9 1162.3,1284.4 1165.0,1285.0 C1167.7,1285.5 1170.3,1286.1 1173.0,1286.6 C1175.7,1287.2 1178.3,1287.7 1181.0,1288.3 C1183.7,1288.8 1186.3,1289.4 1189.0,1289.9 C1191.7,1290.5 1194.3,1291.0 1197.0,1291.5 C1199.7,1292.1 1202.3,1292.6 1205.0,1293.2 C1207.7,1293.7 1210.3,1294.3 1213.0,1294.8 C1215.7,1295.3 1218.3,1295.9 1221.0,1296.4 C1223.7,1296.9 1226.3,1297.5 1229.0,1298.0 C1231.7,1298.6 1234.3,1299.1 1237.0,1299.6 C1239.7,1300.2 1242.3,1300.7 1245.0,1301.2 C1247.7,1301.8 1250.3,1302.3 1253.0,1302.8 C1255.7,1303.4 1258.3,1303.9 1261.0,1304.4 C1263.7,1305.0 1266.3,1305.5 1269.0,1306.0 C1271.7,1306.6 1274.3,1307.1 1277.0,1307.6 C1279.7,1308.1 1282.3,1308.7 1285.0,1309.2 C1287.7,1309.7 1290.3,1310.3 1293.0,1310.8 C1295.7,1311.3 1298.3,1311.9 1301.0,1312.4 C1303.7,1312.9 1307.5,1313.7 1309.0,1314.0 C1310.5,1314.3 1309.8,1314.2 1310.0,1314.2 L1310.0,1565 L157.0,1565 Z" fill="#646464"/><path d="M157.0,1009.6 C158.3,1009.6 162.3,1009.7 165.0,1009.7 C167.7,1009.8 170.3,1009.8 173.0,1009.9 C175.7,1010.0 178.3,1010.1 181.0,1010.2 C183.7,1010.3 186.3,1010.4 189.0,1010.5 C191.7,1010.7 194.3,1010.8 197.0,1011.0 C199.7,1011.2 202.3,1011.4 205.0,1011.6 C207.7,1011.8 210.3,1012.0 213.0,1012.3 C215.7,1012.5 218.3,1012.7 221.0,1013.0 C223.7,1013.3 226.3,1013.6 229.0,1013.9 C231.7,1014.2 234.3,1014.5 237.0,1014.8 C239.7,1015.2 242.3,1015.5 245.0,1015.9 C247.7,1016.2 250.3,1016.6 253.0,1017.0 C255.7,1017.4 258.3,1017.8 261.0,1018.3 C263.7,1018.7 266.3,1019.1 269.0,1019.6 C271.7,1020.0 274.3,1020.5 277.0,1021.0 C279.7,1021.5 282.3,1022.0 285.0,1022.5 C287.7,1023.0 290.3,1023.6 293.0,1024.1 C295.7,1024.7 298.3,1025.2 301.0,1025.8 C303.7,1026.4 306.3,1027.0 309.0,1027.6 C311.7,1028.2 314.3,1028.8 317.0,1029.5 C319.7,1030.1 322.3,1030.8 325.0,1031.5 C327.7,1032.1 330.3,1032.8 333.0,1033.5 C335.7,1034.2 338.3,1034.9 341.0,1035.6 C343.7,1036.3 346.3,1037.1 349.0,1037.8 C351.7,1038.6 354.3,1039.3 357.0,1040.1 C359.7,1040.9 362.3,1041.6 365.0,1042.4 C367.7,1043.2 370.3,1044.0 373.0,1044.8 C375.7,1045.7 378.3,1046.5 381.0,1047.3 C383.7,1048.2 386.3,1049.0 389.0,1049.9 C391.7,1050.7 394.3,1051.6 397.0,1052.5 C399.7,1053.3 402.3,1054.2 405.0,1055.1 C407.7,1056.0 410.3,1056.9 413.0,1057.8 C415.7,1058.7 418.3,1059.6 421.0,1060.6 C423.7,1061.5 426.3,1062.4 429.0,1063.4 C431.7,1064.3 434.3,1065.2 437.0,1066.2 C439.7,1067.1 442.3,1068.1 445.0,1069.1 C447.7,1070.0 450.3,1071.0 453.0,1072.0 C455.7,1073.0 458.3,1073.9 461.0,1074.9 C463.7,1075.9 466.3,1076.9 469.0,1077.9 C471.7,1078.9 474.3,1079.9 477.0,1080.9 C479.7,1081.9 482.3,1082.9 485.0,1083.9 C487.7,1084.9 490.3,1086.0 493.0,1087.0 C495.7,1088.0 498.3,1089.0 501.0,1090.1 C503.7,1091.1 506.3,1092.1 509.0,1093.2 C511.7,1094.2 514.3,1095.2 517.0,1096.3 C519.7,1097.3 522.3,1098.4 525.0,1099.4 C527.7,1100.5 530.3,1101.5 533.0,1102.6 C535.7,1103.6 538.3,1104.7 541.0,1105.8 C543.7,1106.8 546.3,1107.9 549.0,1108.9 C551.7,1110.0 554.3,1111.1 557.0,1112.1 C559.7,1113.2 562.3,1114.3 565.0,1115.3 C567.7,1116.4 570.3,1117.5 573.0,1118.5 C575.7,1119.6 578.3,1120.7 581.0,1121.8 C583.7,1122.8 586.3,1123.9 589.0,1125.0 C591.7,1126.1 594.3,1127.1 597.0,1128.2 C599.7,1129.3 602.3,1130.4 605.0,1131.4 C607.7,1132.5 610.3,1133.6 613.0,1134.6 C615.7,1135.7 618.3,1136.8 621.0,1137.9 C623.7,1138.9 626.3,1140.0 629.0,1141.1 C631.7,1142.1 634.3,1143.2 637.0,1144.3 C639.7,1145.3 642.3,1146.4 645.0,1147.5 C647.7,1148.5 650.3,1149.6 653.0,1150.7 C655.7,1151.7 658.3,1152.8 661.0,1153.8 C663.7,1154.9 666.3,1156.0 669.0,1157.0 C671.7,1158.1 674.3,1159.1 677.0,1160.1 C679.7,1161.2 682.3,1162.2 685.0,1163.3 C687.7,1164.3 690.3,1165.4 693.0,1166.4 C695.7,1167.4 698.3,1168.4 701.0,1169.5 C703.7,1170.5 706.3,1171.5 709.0,1172.5 C711.7,1173.6 714.3,1174.6 717.0,1175.6 C719.7,1176.6 722.3,1177.6 725.0,1178.6 C727.7,1179.6 730.3,1180.6 733.0,1181.6 C735.7,1182.6 738.3,1183.6 741.0,1184.5 C743.7,1185.5 746.3,1186.5 749.0,1187.5 C751.7,1188.4 754.3,1189.4 757.0,1190.4 C759.7,1191.3 762.3,1192.3 765.0,1193.2 C767.7,1194.2 770.3,1195.1 773.0,1196.0 C775.7,1197.0 778.3,1197.9 781.0,1198.8 C783.7,1199.8 786.3,1200.7 789.0,1201.6 C791.7,1202.5 794.3,1203.4 797.0,1204.3 C799.7,1205.2 802.3,1206.1 805.0,1207.0 C807.7,1207.9 810.3,1208.8 813.0,1209.7 C815.7,1210.5 818.3,1211.4 821.0,1212.3 C823.7,1213.1 826.3,1214.0 829.0,1214.9 C831.7,1215.7 834.3,1216.6 837.0,1217.4 C839.7,1218.3 842.3,1219.1 845.0,1220.0 C847.7,1220.8 850.3,1221.6 853.0,1222.5 C855.7,1223.3 858.3,1224.1 861.0,1224.9 C863.7,1225.7 866.3,1226.6 869.0,1227.4 C871.7,1228.2 874.3,1229.0 877.0,1229.8 C879.7,1230.6 882.3,1231.4 885.0,1232.2 C887.7,1232.9 890.3,1233.7 893.0,1234.5 C895.7,1235.3 898.3,1236.1 901.0,1236.8 C903.7,1237.6 906.3,1238.4 909.0,1239.1 C911.7,1239.9 914.3,1240.6 917.0,1241.4 C919.7,1242.1 922.3,1242.9 925.0,1243.6 C927.7,1244.4 930.3,1245.1 933.0,1245.8 C935.7,1246.6 938.3,1247.3 941.0,1248.0 C943.7,1248.7 946.3,1249.5 949.0,1250.2 C951.7,1250.9 954.3,1251.6 957.0,1252.3 C959.7,1253.0 962.3,1253.7 965.0,1254.4 C967.7,1255.1 970.3,1255.8 973.0,1256.5 C975.7,1257.2 978.3,1257.9 981.0,1258.5 C983.7,1259.2 986.3,1259.9 989.0,1260.6 C991.7,1261.2 994.3,1261.9 997.0,1262.6 C999.7,1263.2 1002.3,1263.9 1005.0,1264.6 C1007.7,1265.2 1010.3,1265.9 1013.0,1266.5 C1015.7,1267.2 1018.3,1267.8 1021.0,1268.5 C1023.7,1269.1 1026.3,1269.7 1029.0,1270.4 C1031.7,1271.0 1034.3,1271.6 1037.0,1272.3 C1039.7,1272.9 1042.3,1273.5 1045.0,1274.1 C1047.7,1274.8 1050.3,1275.4 1053.0,1276.0 C1055.7,1276.6 1058.3,1277.2 1061.0,1277.8 C1063.7,1278.4 1066.3,1279.0 1069.0,1279.6 C1071.7,1280.2 1074.3,1280.8 1077.0,1281.4 C1079.7,1282.0 1082.3,1282.6 1085.0,1283.2 C1087.7,1283.8 1090.3,1284.3 1093.0,1284.9 C1095.7,1285.5 1098.3,1286.1 1101.0,1286.7 C1103.7,1287.2 1106.3,1287.8 1109.0,1288.4 C1111.7,1288.9 1114.3,1289.5 1117.0,1290.1 C1119.7,1290.6 1122.3,1291.2 1125.0,1291.7 C1127.7,1292.3 1130.3,1292.8 1133.0,1293.4 C1135.7,1293.9 1138.3,1294.5 1141.0,1295.0 C1143.7,1295.6 1146.3,1296.1 1149.0,1296.6 C1151.7,1297.2 1154.3,1297.7 1157.0,1298.3 C1159.7,1298.8 1162.3,1299.3 1165.0,1299.8 C1167.7,1300.4 1170.3,1300.9 1173.0,1301.4 C1175.7,1301.9 1178.3,1302.5 1181.0,1303.0 C1183.7,1303.5 1186.3,1304.0 1189.0,1304.5 C1191.7,1305.0 1194.3,1305.5 1197.0,1306.0 C1199.7,1306.6 1202.3,1307.1 1205.0,1307.6 C1207.7,1308.1 1210.3,1308.6 1213.0,1309.1 C1215.7,1309.6 1218.3,1310.1 1221.0,1310.5 C1223.7,1311.0 1226.3,1311.5 1229.0,1312.0 C1231.7,1312.5 1234.3,1313.0 1237.0,1313.5 C1239.7,1314.0 1242.3,1314.4 1245.0,1314.9 C1247.7,1315.4 1250.3,1315.9 1253.0,1316.4 C1255.7,1316.8 1258.3,1317.3 1261.0,1317.8 C1263.7,1318.3 1266.3,1318.7 1269.0,1319.2 C1271.7,1319.7 1274.3,1320.1 1277.0,1320.6 C1279.7,1321.1 1282.3,1321.5 1285.0,1322.0 C1287.7,1322.5 1290.3,1322.9 1293.0,1323.4 C1295.7,1323.8 1298.3,1324.3 1301.0,1324.8 C1303.7,1325.2 1307.5,1325.9 1309.0,1326.1 C1310.5,1326.4 1309.8,1326.3 1310.0,1326.3 L1310.0,1565 L157.0,1565 Z" fill="#A04C1E"/><path d="M157.0,1014.8 C158.3,1014.9 162.3,1015.1 165.0,1015.2 C167.7,1015.3 170.3,1015.4 173.0,1015.6 C175.7,1015.7 178.3,1015.9 181.0,1016.0 C183.7,1016.2 186.3,1016.4 189.0,1016.6 C191.7,1016.8 194.3,1017.0 197.0,1017.2 C199.7,1017.4 202.3,1017.6 205.0,1017.8 C207.7,1018.1 210.3,1018.3 213.0,1018.6 C215.7,1018.8 218.3,1019.1 221.0,1019.4 C223.7,1019.7 226.3,1020.0 229.0,1020.3 C231.7,1020.6 234.3,1020.9 237.0,1021.3 C239.7,1021.6 242.3,1022.0 245.0,1022.4 C247.7,1022.7 250.3,1023.1 253.0,1023.5 C255.7,1023.9 258.3,1024.3 261.0,1024.7 C263.7,1025.2 266.3,1025.6 269.0,1026.0 C271.7,1026.5 274.3,1027.0 277.0,1027.5 C279.7,1027.9 282.3,1028.4 285.0,1029.0 C287.7,1029.5 290.3,1030.0 293.0,1030.5 C295.7,1031.1 298.3,1031.7 301.0,1032.2 C303.7,1032.8 306.3,1033.4 309.0,1034.0 C311.7,1034.6 314.3,1035.3 317.0,1035.9 C319.7,1036.5 322.3,1037.2 325.0,1037.9 C327.7,1038.5 330.3,1039.2 333.0,1039.9 C335.7,1040.6 338.3,1041.4 341.0,1042.1 C343.7,1042.8 346.3,1043.6 349.0,1044.3 C351.7,1045.1 354.3,1045.8 357.0,1046.6 C359.7,1047.4 362.3,1048.2 365.0,1049.0 C367.7,1049.8 370.3,1050.6 373.0,1051.5 C375.7,1052.3 378.3,1053.1 381.0,1054.0 C383.7,1054.8 386.3,1055.7 389.0,1056.5 C391.7,1057.4 394.3,1058.3 397.0,1059.2 C399.7,1060.1 402.3,1061.0 405.0,1061.9 C407.7,1062.8 410.3,1063.7 413.0,1064.6 C415.7,1065.5 418.3,1066.4 421.0,1067.4 C423.7,1068.3 426.3,1069.2 429.0,1070.2 C431.7,1071.1 434.3,1072.1 437.0,1073.1 C439.7,1074.0 442.3,1075.0 445.0,1075.9 C447.7,1076.9 450.3,1077.9 453.0,1078.9 C455.7,1079.8 458.3,1080.8 461.0,1081.8 C463.7,1082.8 466.3,1083.8 469.0,1084.8 C471.7,1085.8 474.3,1086.8 477.0,1087.8 C479.7,1088.8 482.3,1089.8 485.0,1090.8 C487.7,1091.8 490.3,1092.8 493.0,1093.8 C495.7,1094.8 498.3,1095.8 501.0,1096.8 C503.7,1097.8 506.3,1098.8 509.0,1099.9 C511.7,1100.9 514.3,1101.9 517.0,1102.9 C519.7,1104.0 522.3,1105.0 525.0,1106.0 C527.7,1107.0 530.3,1108.1 533.0,1109.1 C535.7,1110.1 538.3,1111.2 541.0,1112.2 C543.7,1113.2 546.3,1114.3 549.0,1115.3 C551.7,1116.3 554.3,1117.4 557.0,1118.4 C559.7,1119.4 562.3,1120.5 565.0,1121.5 C567.7,1122.6 570.3,1123.6 573.0,1124.6 C575.7,1125.7 578.3,1126.7 581.0,1127.8 C583.7,1128.8 586.3,1129.8 589.0,1130.9 C591.7,1131.9 594.3,1133.0 597.0,1134.0 C599.7,1135.0 602.3,1136.1 605.0,1137.1 C607.7,1138.2 610.3,1139.2 613.0,1140.2 C615.7,1141.3 618.3,1142.3 621.0,1143.3 C623.7,1144.4 626.3,1145.4 629.0,1146.4 C631.7,1147.5 634.3,1148.5 637.0,1149.5 C639.7,1150.6 642.3,1151.6 645.0,1152.6 C647.7,1153.6 650.3,1154.7 653.0,1155.7 C655.7,1156.7 658.3,1157.7 661.0,1158.7 C663.7,1159.8 666.3,1160.8 669.0,1161.8 C671.7,1162.8 674.3,1163.8 677.0,1164.8 C679.7,1165.8 682.3,1166.8 685.0,1167.8 C687.7,1168.8 690.3,1169.8 693.0,1170.8 C695.7,1171.8 698.3,1172.8 701.0,1173.8 C703.7,1174.8 706.3,1175.8 709.0,1176.7 C711.7,1177.7 714.3,1178.7 717.0,1179.7 C719.7,1180.6 722.3,1181.6 725.0,1182.6 C727.7,1183.5 730.3,1184.5 733.0,1185.4 C735.7,1186.4 738.3,1187.3 741.0,1188.3 C743.7,1189.2 746.3,1190.2 749.0,1191.1 C751.7,1192.0 754.3,1193.0 757.0,1193.9 C759.7,1194.8 762.3,1195.8 765.0,1196.7 C767.7,1197.6 770.3,1198.5 773.0,1199.4 C775.7,1200.3 778.3,1201.2 781.0,1202.1 C783.7,1203.0 786.3,1203.9 789.0,1204.8 C791.7,1205.6 794.3,1206.5 797.0,1207.4 C799.7,1208.3 802.3,1209.1 805.0,1210.0 C807.7,1210.9 810.3,1211.7 813.0,1212.6 C815.7,1213.4 818.3,1214.3 821.0,1215.1 C823.7,1216.0 826.3,1216.8 829.0,1217.7 C831.7,1218.5 834.3,1219.3 837.0,1220.2 C839.7,1221.0 842.3,1221.8 845.0,1222.6 C847.7,1223.4 850.3,1224.2 853.0,1225.1 C855.7,1225.9 858.3,1226.7 861.0,1227.5 C863.7,1228.3 866.3,1229.1 869.0,1229.8 C871.7,1230.6 874.3,1231.4 877.0,1232.2 C879.7,1233.0 882.3,1233.8 885.0,1234.5 C887.7,1235.3 890.3,1236.1 893.0,1236.8 C895.7,1237.6 898.3,1238.3 901.0,1239.1 C903.7,1239.9 906.3,1240.6 909.0,1241.4 C911.7,1242.1 914.3,1242.8 917.0,1243.6 C919.7,1244.3 922.3,1245.0 925.0,1245.8 C927.7,1246.5 930.3,1247.2 933.0,1248.0 C935.7,1248.7 938.3,1249.4 941.0,1250.1 C943.7,1250.8 946.3,1251.5 949.0,1252.2 C951.7,1252.9 954.3,1253.6 957.0,1254.3 C959.7,1255.0 962.3,1255.7 965.0,1256.4 C967.7,1257.1 970.3,1257.8 973.0,1258.5 C975.7,1259.1 978.3,1259.8 981.0,1260.5 C983.7,1261.2 986.3,1261.8 989.0,1262.5 C991.7,1263.2 994.3,1263.8 997.0,1264.5 C999.7,1265.2 1002.3,1265.8 1005.0,1266.5 C1007.7,1267.1 1010.3,1267.8 1013.0,1268.4 C1015.7,1269.1 1018.3,1269.7 1021.0,1270.3 C1023.7,1271.0 1026.3,1271.6 1029.0,1272.2 C1031.7,1272.9 1034.3,1273.5 1037.0,1274.1 C1039.7,1274.7 1042.3,1275.4 1045.0,1276.0 C1047.7,1276.6 1050.3,1277.2 1053.0,1277.8 C1055.7,1278.4 1058.3,1279.0 1061.0,1279.6 C1063.7,1280.2 1066.3,1280.8 1069.0,1281.4 C1071.7,1282.0 1074.3,1282.6 1077.0,1283.2 C1079.7,1283.8 1082.3,1284.4 1085.0,1285.0 C1087.7,1285.6 1090.3,1286.2 1093.0,1286.7 C1095.7,1287.3 1098.3,1287.9 1101.0,1288.5 C1103.7,1289.0 1106.3,1289.6 1109.0,1290.2 C1111.7,1290.7 1114.3,1291.3 1117.0,1291.9 C1119.7,1292.4 1122.3,1293.0 1125.0,1293.5 C1127.7,1294.1 1130.3,1294.7 1133.0,1295.2 C1135.7,1295.8 1138.3,1296.3 1141.0,1296.9 C1143.7,1297.4 1146.3,1297.9 1149.0,1298.5 C1151.7,1299.0 1154.3,1299.6 1157.0,1300.1 C1159.7,1300.6 1162.3,1301.2 1165.0,1301.7 C1167.7,1302.2 1170.3,1302.7 1173.0,1303.3 C1175.7,1303.8 1178.3,1304.3 1181.0,1304.8 C1183.7,1305.4 1186.3,1305.9 1189.0,1306.4 C1191.7,1306.9 1194.3,1307.4 1197.0,1307.9 C1199.7,1308.4 1202.3,1308.9 1205.0,1309.4 C1207.7,1310.0 1210.3,1310.5 1213.0,1311.0 C1215.7,1311.5 1218.3,1312.0 1221.0,1312.5 C1223.7,1313.0 1226.3,1313.4 1229.0,1313.9 C1231.7,1314.4 1234.3,1314.9 1237.0,1315.4 C1239.7,1315.9 1242.3,1316.4 1245.0,1316.9 C1247.7,1317.4 1250.3,1317.8 1253.0,1318.3 C1255.7,1318.8 1258.3,1319.3 1261.0,1319.8 C1263.7,1320.2 1266.3,1320.7 1269.0,1321.2 C1271.7,1321.7 1274.3,1322.1 1277.0,1322.6 C1279.7,1323.1 1282.3,1323.5 1285.0,1324.0 C1287.7,1324.5 1290.3,1324.9 1293.0,1325.4 C1295.7,1325.8 1298.3,1326.3 1301.0,1326.8 C1303.7,1327.2 1307.5,1327.9 1309.0,1328.1 C1310.5,1328.4 1309.8,1328.3 1310.0,1328.3 L1310.0,1565 L157.0,1565 Z" fill="#6AA2D7"/><path d="M157.0,1081.9 C158.3,1082.2 162.3,1083.2 165.0,1083.8 C167.7,1084.4 170.3,1085.0 173.0,1085.7 C175.7,1086.3 178.3,1087.0 181.0,1087.6 C183.7,1088.2 186.3,1088.9 189.0,1089.5 C191.7,1090.2 194.3,1090.8 197.0,1091.5 C199.7,1092.1 202.3,1092.8 205.0,1093.4 C207.7,1094.1 210.3,1094.7 213.0,1095.4 C215.7,1096.1 218.3,1096.7 221.0,1097.4 C223.7,1098.0 226.3,1098.7 229.0,1099.4 C231.7,1100.0 234.3,1100.7 237.0,1101.4 C239.7,1102.1 242.3,1102.7 245.0,1103.4 C247.7,1104.1 250.3,1104.8 253.0,1105.5 C255.7,1106.1 258.3,1106.8 261.0,1107.5 C263.7,1108.2 266.3,1108.9 269.0,1109.6 C271.7,1110.3 274.3,1111.0 277.0,1111.7 C279.7,1112.3 282.3,1113.0 285.0,1113.7 C287.7,1114.4 290.3,1115.1 293.0,1115.8 C295.7,1116.5 298.3,1117.2 301.0,1118.0 C303.7,1118.7 306.3,1119.4 309.0,1120.1 C311.7,1120.8 314.3,1121.5 317.0,1122.2 C319.7,1122.9 322.3,1123.6 325.0,1124.3 C327.7,1125.1 330.3,1125.8 333.0,1126.5 C335.7,1127.2 338.3,1127.9 341.0,1128.6 C343.7,1129.4 346.3,1130.1 349.0,1130.8 C351.7,1131.5 354.3,1132.3 357.0,1133.0 C359.7,1133.7 362.3,1134.4 365.0,1135.2 C367.7,1135.9 370.3,1136.6 373.0,1137.4 C375.7,1138.1 378.3,1138.8 381.0,1139.6 C383.7,1140.3 386.3,1141.0 389.0,1141.8 C391.7,1142.5 394.3,1143.2 397.0,1144.0 C399.7,1144.7 402.3,1145.4 405.0,1146.2 C407.7,1146.9 410.3,1147.7 413.0,1148.4 C415.7,1149.1 418.3,1149.9 421.0,1150.6 C423.7,1151.4 426.3,1152.1 429.0,1152.9 C431.7,1153.6 434.3,1154.3 437.0,1155.1 C439.7,1155.8 442.3,1156.6 445.0,1157.3 C447.7,1158.1 450.3,1158.8 453.0,1159.6 C455.7,1160.3 458.3,1161.1 461.0,1161.8 C463.7,1162.6 466.3,1163.3 469.0,1164.1 C471.7,1164.8 474.3,1165.6 477.0,1166.3 C479.7,1167.1 482.3,1167.8 485.0,1168.6 C487.7,1169.3 490.3,1170.1 493.0,1170.8 C495.7,1171.6 498.3,1172.3 501.0,1173.1 C503.7,1173.8 506.3,1174.6 509.0,1175.3 C511.7,1176.1 514.3,1176.8 517.0,1177.6 C519.7,1178.3 522.3,1179.1 525.0,1179.9 C527.7,1180.6 530.3,1181.4 533.0,1182.1 C535.7,1182.9 538.3,1183.6 541.0,1184.4 C543.7,1185.1 546.3,1185.9 549.0,1186.6 C551.7,1187.4 554.3,1188.1 557.0,1188.9 C559.7,1189.6 562.3,1190.4 565.0,1191.1 C567.7,1191.9 570.3,1192.6 573.0,1193.4 C575.7,1194.1 578.3,1194.9 581.0,1195.6 C583.7,1196.4 586.3,1197.1 589.0,1197.9 C591.7,1198.6 594.3,1199.4 597.0,1200.1 C599.7,1200.9 602.3,1201.6 605.0,1202.4 C607.7,1203.1 610.3,1203.9 613.0,1204.6 C615.7,1205.4 618.3,1206.1 621.0,1206.8 C623.7,1207.6 626.3,1208.3 629.0,1209.1 C631.7,1209.8 634.3,1210.5 637.0,1211.3 C639.7,1212.0 642.3,1212.8 645.0,1213.5 C647.7,1214.2 650.3,1215.0 653.0,1215.7 C655.7,1216.5 658.3,1217.2 661.0,1217.9 C663.7,1218.7 666.3,1219.4 669.0,1220.1 C671.7,1220.9 674.3,1221.6 677.0,1222.3 C679.7,1223.0 682.3,1223.8 685.0,1224.5 C687.7,1225.2 690.3,1226.0 693.0,1226.7 C695.7,1227.4 698.3,1228.1 701.0,1228.9 C703.7,1229.6 706.3,1230.3 709.0,1231.0 C711.7,1231.7 714.3,1232.5 717.0,1233.2 C719.7,1233.9 722.3,1234.6 725.0,1235.3 C727.7,1236.0 730.3,1236.7 733.0,1237.4 C735.7,1238.2 738.3,1238.9 741.0,1239.6 C743.7,1240.3 746.3,1241.0 749.0,1241.7 C751.7,1242.4 754.3,1243.1 757.0,1243.8 C759.7,1244.5 762.3,1245.2 765.0,1245.9 C767.7,1246.6 770.3,1247.3 773.0,1248.0 C775.7,1248.7 778.3,1249.4 781.0,1250.0 C783.7,1250.7 786.3,1251.4 789.0,1252.1 C791.7,1252.8 794.3,1253.5 797.0,1254.2 C799.7,1254.8 802.3,1255.5 805.0,1256.2 C807.7,1256.9 810.3,1257.5 813.0,1258.2 C815.7,1258.9 818.3,1259.6 821.0,1260.2 C823.7,1260.9 826.3,1261.6 829.0,1262.2 C831.7,1262.9 834.3,1263.6 837.0,1264.2 C839.7,1264.9 842.3,1265.6 845.0,1266.2 C847.7,1266.9 850.3,1267.5 853.0,1268.2 C855.7,1268.8 858.3,1269.5 861.0,1270.2 C863.7,1270.8 866.3,1271.5 869.0,1272.1 C871.7,1272.8 874.3,1273.4 877.0,1274.0 C879.7,1274.7 882.3,1275.3 885.0,1276.0 C887.7,1276.6 890.3,1277.2 893.0,1277.9 C895.7,1278.5 898.3,1279.1 901.0,1279.8 C903.7,1280.4 906.3,1281.0 909.0,1281.7 C911.7,1282.3 914.3,1282.9 917.0,1283.5 C919.7,1284.2 922.3,1284.8 925.0,1285.4 C927.7,1286.0 930.3,1286.6 933.0,1287.3 C935.7,1287.9 938.3,1288.5 941.0,1289.1 C943.7,1289.7 946.3,1290.3 949.0,1290.9 C951.7,1291.5 954.3,1292.1 957.0,1292.8 C959.7,1293.4 962.3,1294.0 965.0,1294.6 C967.7,1295.2 970.3,1295.8 973.0,1296.4 C975.7,1296.9 978.3,1297.5 981.0,1298.1 C983.7,1298.7 986.3,1299.3 989.0,1299.9 C991.7,1300.5 994.3,1301.1 997.0,1301.7 C999.7,1302.2 1002.3,1302.8 1005.0,1303.4 C1007.7,1304.0 1010.3,1304.6 1013.0,1305.1 C1015.7,1305.7 1018.3,1306.3 1021.0,1306.8 C1023.7,1307.4 1026.3,1308.0 1029.0,1308.6 C1031.7,1309.1 1034.3,1309.7 1037.0,1310.2 C1039.7,1310.8 1042.3,1311.4 1045.0,1311.9 C1047.7,1312.5 1050.3,1313.0 1053.0,1313.6 C1055.7,1314.1 1058.3,1314.7 1061.0,1315.2 C1063.7,1315.8 1066.3,1316.3 1069.0,1316.9 C1071.7,1317.4 1074.3,1318.0 1077.0,1318.5 C1079.7,1319.1 1082.3,1319.6 1085.0,1320.1 C1087.7,1320.7 1090.3,1321.2 1093.0,1321.7 C1095.7,1322.3 1098.3,1322.8 1101.0,1323.3 C1103.7,1323.8 1106.3,1324.4 1109.0,1324.9 C1111.7,1325.4 1114.3,1325.9 1117.0,1326.5 C1119.7,1327.0 1122.3,1327.5 1125.0,1328.0 C1127.7,1328.5 1130.3,1329.0 1133.0,1329.5 C1135.7,1330.0 1138.3,1330.6 1141.0,1331.1 C1143.7,1331.6 1146.3,1332.1 1149.0,1332.6 C1151.7,1333.1 1154.3,1333.6 1157.0,1334.1 C1159.7,1334.6 1162.3,1335.0 1165.0,1335.5 C1167.7,1336.0 1170.3,1336.5 1173.0,1337.0 C1175.7,1337.5 1178.3,1338.0 1181.0,1338.5 C1183.7,1338.9 1186.3,1339.4 1189.0,1339.9 C1191.7,1340.4 1194.3,1340.9 1197.0,1341.3 C1199.7,1341.8 1202.3,1342.3 1205.0,1342.7 C1207.7,1343.2 1210.3,1343.7 1213.0,1344.1 C1215.7,1344.6 1218.3,1345.1 1221.0,1345.5 C1223.7,1346.0 1226.3,1346.4 1229.0,1346.9 C1231.7,1347.3 1234.3,1347.8 1237.0,1348.2 C1239.7,1348.7 1242.3,1349.1 1245.0,1349.6 C1247.7,1350.0 1250.3,1350.5 1253.0,1350.9 C1255.7,1351.3 1258.3,1351.8 1261.0,1352.2 C1263.7,1352.7 1266.3,1353.1 1269.0,1353.5 C1271.7,1353.9 1274.3,1354.4 1277.0,1354.8 C1279.7,1355.2 1282.3,1355.7 1285.0,1356.1 C1287.7,1356.5 1290.3,1356.9 1293.0,1357.3 C1295.7,1357.7 1298.3,1358.2 1301.0,1358.6 C1303.7,1359.0 1307.5,1359.6 1309.0,1359.8 C1310.5,1360.0 1309.8,1359.9 1310.0,1359.9 L1310.0,1565 L157.0,1565 Z" fill="#5BC2EE"/><path d="M157.0,1084.9 C158.3,1085.2 162.3,1086.2 165.0,1086.8 C167.7,1087.4 170.3,1088.0 173.0,1088.7 C175.7,1089.3 178.3,1090.0 181.0,1090.6 C183.7,1091.2 186.3,1091.9 189.0,1092.5 C191.7,1093.2 194.3,1093.8 197.0,1094.5 C199.7,1095.1 202.3,1095.8 205.0,1096.4 C207.7,1097.1 210.3,1097.7 213.0,1098.4 C215.7,1099.1 218.3,1099.7 221.0,1100.4 C223.7,1101.0 226.3,1101.7 229.0,1102.4 C231.7,1103.0 234.3,1103.7 237.0,1104.4 C239.7,1105.1 242.3,1105.7 245.0,1106.4 C247.7,1107.1 250.3,1107.8 253.0,1108.5 C255.7,1109.1 258.3,1109.8 261.0,1110.5 C263.7,1111.2 266.3,1111.9 269.0,1112.6 C271.7,1113.3 274.3,1114.0 277.0,1114.7 C279.7,1115.3 282.3,1116.0 285.0,1116.7 C287.7,1117.4 290.3,1118.1 293.0,1118.8 C295.7,1119.5 298.3,1120.2 301.0,1121.0 C303.7,1121.7 306.3,1122.4 309.0,1123.1 C311.7,1123.8 314.3,1124.5 317.0,1125.2 C319.7,1125.9 322.3,1126.6 325.0,1127.3 C327.7,1128.1 330.3,1128.8 333.0,1129.5 C335.7,1130.2 338.3,1130.9 341.0,1131.6 C343.7,1132.4 346.3,1133.1 349.0,1133.8 C351.7,1134.5 354.3,1135.3 357.0,1136.0 C359.7,1136.7 362.3,1137.4 365.0,1138.2 C367.7,1138.9 370.3,1139.6 373.0,1140.4 C375.7,1141.1 378.3,1141.8 381.0,1142.6 C383.7,1143.3 386.3,1144.0 389.0,1144.8 C391.7,1145.5 394.3,1146.2 397.0,1147.0 C399.7,1147.7 402.3,1148.4 405.0,1149.2 C407.7,1149.9 410.3,1150.7 413.0,1151.4 C415.7,1152.1 418.3,1152.9 421.0,1153.6 C423.7,1154.4 426.3,1155.1 429.0,1155.9 C431.7,1156.6 434.3,1157.3 437.0,1158.1 C439.7,1158.8 442.3,1159.6 445.0,1160.3 C447.7,1161.1 450.3,1161.8 453.0,1162.6 C455.7,1163.3 458.3,1164.1 461.0,1164.8 C463.7,1165.6 466.3,1166.3 469.0,1167.1 C471.7,1167.8 474.3,1168.6 477.0,1169.3 C479.7,1170.1 482.3,1170.8 485.0,1171.6 C487.7,1172.3 490.3,1173.1 493.0,1173.8 C495.7,1174.6 498.3,1175.3 501.0,1176.1 C503.7,1176.8 506.3,1177.6 509.0,1178.3 C511.7,1179.1 514.3,1179.8 517.0,1180.6 C519.7,1181.3 522.3,1182.1 525.0,1182.9 C527.7,1183.6 530.3,1184.4 533.0,1185.1 C535.7,1185.9 538.3,1186.6 541.0,1187.4 C543.7,1188.1 546.3,1188.9 549.0,1189.6 C551.7,1190.4 554.3,1191.1 557.0,1191.9 C559.7,1192.6 562.3,1193.4 565.0,1194.1 C567.7,1194.9 570.3,1195.6 573.0,1196.4 C575.7,1197.1 578.3,1197.9 581.0,1198.6 C583.7,1199.4 586.3,1200.1 589.0,1200.9 C591.7,1201.6 594.3,1202.4 597.0,1203.1 C599.7,1203.9 602.3,1204.6 605.0,1205.4 C607.7,1206.1 610.3,1206.9 613.0,1207.6 C615.7,1208.4 618.3,1209.1 621.0,1209.8 C623.7,1210.6 626.3,1211.3 629.0,1212.1 C631.7,1212.8 634.3,1213.5 637.0,1214.3 C639.7,1215.0 642.3,1215.8 645.0,1216.5 C647.7,1217.2 650.3,1218.0 653.0,1218.7 C655.7,1219.5 658.3,1220.2 661.0,1220.9 C663.7,1221.7 666.3,1222.4 669.0,1223.1 C671.7,1223.9 674.3,1224.6 677.0,1225.3 C679.7,1226.0 682.3,1226.8 685.0,1227.5 C687.7,1228.2 690.3,1229.0 693.0,1229.7 C695.7,1230.4 698.3,1231.1 701.0,1231.9 C703.7,1232.6 706.3,1233.3 709.0,1234.0 C711.7,1234.7 714.3,1235.5 717.0,1236.2 C719.7,1236.9 722.3,1237.6 725.0,1238.3 C727.7,1239.0 730.3,1239.7 733.0,1240.4 C735.7,1241.2 738.3,1241.9 741.0,1242.6 C743.7,1243.3 746.3,1244.0 749.0,1244.7 C751.7,1245.4 754.3,1246.1 757.0,1246.8 C759.7,1247.5 762.3,1248.2 765.0,1248.9 C767.7,1249.6 770.3,1250.3 773.0,1251.0 C775.7,1251.7 778.3,1252.4 781.0,1253.0 C783.7,1253.7 786.3,1254.4 789.0,1255.1 C791.7,1255.8 794.3,1256.5 797.0,1257.2 C799.7,1257.8 802.3,1258.5 805.0,1259.2 C807.7,1259.9 810.3,1260.5 813.0,1261.2 C815.7,1261.9 818.3,1262.6 821.0,1263.2 C823.7,1263.9 826.3,1264.6 829.0,1265.2 C831.7,1265.9 834.3,1266.6 837.0,1267.2 C839.7,1267.9 842.3,1268.6 845.0,1269.2 C847.7,1269.9 850.3,1270.5 853.0,1271.2 C855.7,1271.8 858.3,1272.5 861.0,1273.2 C863.7,1273.8 866.3,1274.5 869.0,1275.1 C871.7,1275.8 874.3,1276.4 877.0,1277.0 C879.7,1277.7 882.3,1278.3 885.0,1279.0 C887.7,1279.6 890.3,1280.2 893.0,1280.9 C895.7,1281.5 898.3,1282.1 901.0,1282.8 C903.7,1283.4 906.3,1284.0 909.0,1284.7 C911.7,1285.3 914.3,1285.9 917.0,1286.5 C919.7,1287.2 922.3,1287.8 925.0,1288.4 C927.7,1289.0 930.3,1289.6 933.0,1290.3 C935.7,1290.9 938.3,1291.5 941.0,1292.1 C943.7,1292.7 946.3,1293.3 949.0,1293.9 C951.7,1294.5 954.3,1295.1 957.0,1295.8 C959.7,1296.4 962.3,1297.0 965.0,1297.6 C967.7,1298.2 970.3,1298.8 973.0,1299.4 C975.7,1299.9 978.3,1300.5 981.0,1301.1 C983.7,1301.7 986.3,1302.3 989.0,1302.9 C991.7,1303.5 994.3,1304.1 997.0,1304.7 C999.7,1305.2 1002.3,1305.8 1005.0,1306.4 C1007.7,1307.0 1010.3,1307.6 1013.0,1308.1 C1015.7,1308.7 1018.3,1309.3 1021.0,1309.8 C1023.7,1310.4 1026.3,1311.0 1029.0,1311.6 C1031.7,1312.1 1034.3,1312.7 1037.0,1313.2 C1039.7,1313.8 1042.3,1314.4 1045.0,1314.9 C1047.7,1315.5 1050.3,1316.0 1053.0,1316.6 C1055.7,1317.1 1058.3,1317.7 1061.0,1318.2 C1063.7,1318.8 1066.3,1319.3 1069.0,1319.9 C1071.7,1320.4 1074.3,1321.0 1077.0,1321.5 C1079.7,1322.1 1082.3,1322.6 1085.0,1323.1 C1087.7,1323.7 1090.3,1324.2 1093.0,1324.7 C1095.7,1325.3 1098.3,1325.8 1101.0,1326.3 C1103.7,1326.8 1106.3,1327.4 1109.0,1327.9 C1111.7,1328.4 1114.3,1328.9 1117.0,1329.5 C1119.7,1330.0 1122.3,1330.5 1125.0,1331.0 C1127.7,1331.5 1130.3,1332.0 1133.0,1332.5 C1135.7,1333.0 1138.3,1333.6 1141.0,1334.1 C1143.7,1334.6 1146.3,1335.1 1149.0,1335.6 C1151.7,1336.1 1154.3,1336.6 1157.0,1337.1 C1159.7,1337.6 1162.3,1338.0 1165.0,1338.5 C1167.7,1339.0 1170.3,1339.5 1173.0,1340.0 C1175.7,1340.5 1178.3,1341.0 1181.0,1341.5 C1183.7,1341.9 1186.3,1342.4 1189.0,1342.9 C1191.7,1343.4 1194.3,1343.9 1197.0,1344.3 C1199.7,1344.8 1202.3,1345.3 1205.0,1345.7 C1207.7,1346.2 1210.3,1346.7 1213.0,1347.1 C1215.7,1347.6 1218.3,1348.1 1221.0,1348.5 C1223.7,1349.0 1226.3,1349.4 1229.0,1349.9 C1231.7,1350.3 1234.3,1350.8 1237.0,1351.2 C1239.7,1351.7 1242.3,1352.1 1245.0,1352.6 C1247.7,1353.0 1250.3,1353.5 1253.0,1353.9 C1255.7,1354.3 1258.3,1354.8 1261.0,1355.2 C1263.7,1355.7 1266.3,1356.1 1269.0,1356.5 C1271.7,1356.9 1274.3,1357.4 1277.0,1357.8 C1279.7,1358.2 1282.3,1358.7 1285.0,1359.1 C1287.7,1359.5 1290.3,1359.9 1293.0,1360.3 C1295.7,1360.7 1298.3,1361.2 1301.0,1361.6 C1303.7,1362.0 1307.5,1362.6 1309.0,1362.8 C1310.5,1363.0 1309.8,1362.9 1310.0,1362.9 L1310.0,1565 L157.0,1565 Z" fill="#E8E8E8"/><path d="M157.0,1093.0 C158.3,1093.3 162.3,1094.2 165.0,1094.9 C167.7,1095.5 170.3,1096.1 173.0,1096.7 C175.7,1097.3 178.3,1098.0 181.0,1098.6 C183.7,1099.2 186.3,1099.9 189.0,1100.5 C191.7,1101.1 194.3,1101.8 197.0,1102.4 C199.7,1103.1 202.3,1103.7 205.0,1104.4 C207.7,1105.0 210.3,1105.7 213.0,1106.3 C215.7,1107.0 218.3,1107.6 221.0,1108.3 C223.7,1108.9 226.3,1109.6 229.0,1110.2 C231.7,1110.9 234.3,1111.6 237.0,1112.2 C239.7,1112.9 242.3,1113.6 245.0,1114.2 C247.7,1114.9 250.3,1115.6 253.0,1116.3 C255.7,1116.9 258.3,1117.6 261.0,1118.3 C263.7,1119.0 266.3,1119.7 269.0,1120.4 C271.7,1121.0 274.3,1121.7 277.0,1122.4 C279.7,1123.1 282.3,1123.8 285.0,1124.5 C287.7,1125.2 290.3,1125.9 293.0,1126.6 C295.7,1127.3 298.3,1128.0 301.0,1128.7 C303.7,1129.4 306.3,1130.1 309.0,1130.8 C311.7,1131.5 314.3,1132.2 317.0,1132.9 C319.7,1133.6 322.3,1134.3 325.0,1135.0 C327.7,1135.7 330.3,1136.4 333.0,1137.2 C335.7,1137.9 338.3,1138.6 341.0,1139.3 C343.7,1140.0 346.3,1140.7 349.0,1141.5 C351.7,1142.2 354.3,1142.9 357.0,1143.6 C359.7,1144.4 362.3,1145.1 365.0,1145.8 C367.7,1146.5 370.3,1147.3 373.0,1148.0 C375.7,1148.7 378.3,1149.4 381.0,1150.2 C383.7,1150.9 386.3,1151.6 389.0,1152.4 C391.7,1153.1 394.3,1153.8 397.0,1154.6 C399.7,1155.3 402.3,1156.0 405.0,1156.8 C407.7,1157.5 410.3,1158.3 413.0,1159.0 C415.7,1159.7 418.3,1160.5 421.0,1161.2 C423.7,1162.0 426.3,1162.7 429.0,1163.4 C431.7,1164.2 434.3,1164.9 437.0,1165.7 C439.7,1166.4 442.3,1167.2 445.0,1167.9 C447.7,1168.6 450.3,1169.4 453.0,1170.1 C455.7,1170.9 458.3,1171.6 461.0,1172.4 C463.7,1173.1 466.3,1173.9 469.0,1174.6 C471.7,1175.4 474.3,1176.1 477.0,1176.9 C479.7,1177.6 482.3,1178.4 485.0,1179.1 C487.7,1179.9 490.3,1180.6 493.0,1181.4 C495.7,1182.1 498.3,1182.9 501.0,1183.6 C503.7,1184.4 506.3,1185.1 509.0,1185.9 C511.7,1186.6 514.3,1187.4 517.0,1188.1 C519.7,1188.9 522.3,1189.7 525.0,1190.4 C527.7,1191.2 530.3,1191.9 533.0,1192.7 C535.7,1193.4 538.3,1194.2 541.0,1194.9 C543.7,1195.7 546.3,1196.4 549.0,1197.2 C551.7,1197.9 554.3,1198.7 557.0,1199.4 C559.7,1200.2 562.3,1200.9 565.0,1201.7 C567.7,1202.4 570.3,1203.2 573.0,1203.9 C575.7,1204.7 578.3,1205.4 581.0,1206.2 C583.7,1206.9 586.3,1207.7 589.0,1208.4 C591.7,1209.2 594.3,1209.9 597.0,1210.7 C599.7,1211.4 602.3,1212.2 605.0,1212.9 C607.7,1213.7 610.3,1214.4 613.0,1215.1 C615.7,1215.9 618.3,1216.6 621.0,1217.4 C623.7,1218.1 626.3,1218.9 629.0,1219.6 C631.7,1220.3 634.3,1221.1 637.0,1221.8 C639.7,1222.6 642.3,1223.3 645.0,1224.0 C647.7,1224.8 650.3,1225.5 653.0,1226.2 C655.7,1227.0 658.3,1227.7 661.0,1228.5 C663.7,1229.2 666.3,1229.9 669.0,1230.6 C671.7,1231.4 674.3,1232.1 677.0,1232.8 C679.7,1233.6 682.3,1234.3 685.0,1235.0 C687.7,1235.7 690.3,1236.5 693.0,1237.2 C695.7,1237.9 698.3,1238.6 701.0,1239.4 C703.7,1240.1 706.3,1240.8 709.0,1241.5 C711.7,1242.2 714.3,1243.0 717.0,1243.7 C719.7,1244.4 722.3,1245.1 725.0,1245.8 C727.7,1246.5 730.3,1247.2 733.0,1247.9 C735.7,1248.7 738.3,1249.4 741.0,1250.1 C743.7,1250.8 746.3,1251.5 749.0,1252.2 C751.7,1252.9 754.3,1253.6 757.0,1254.3 C759.7,1255.0 762.3,1255.7 765.0,1256.4 C767.7,1257.1 770.3,1257.7 773.0,1258.4 C775.7,1259.1 778.3,1259.8 781.0,1260.5 C783.7,1261.2 786.3,1261.9 789.0,1262.6 C791.7,1263.2 794.3,1263.9 797.0,1264.6 C799.7,1265.3 802.3,1266.0 805.0,1266.6 C807.7,1267.3 810.3,1268.0 813.0,1268.6 C815.7,1269.3 818.3,1270.0 821.0,1270.7 C823.7,1271.3 826.3,1272.0 829.0,1272.6 C831.7,1273.3 834.3,1274.0 837.0,1274.6 C839.7,1275.3 842.3,1275.9 845.0,1276.6 C847.7,1277.3 850.3,1277.9 853.0,1278.6 C855.7,1279.2 858.3,1279.9 861.0,1280.5 C863.7,1281.2 866.3,1281.8 869.0,1282.4 C871.7,1283.1 874.3,1283.7 877.0,1284.4 C879.7,1285.0 882.3,1285.7 885.0,1286.3 C887.7,1286.9 890.3,1287.6 893.0,1288.2 C895.7,1288.8 898.3,1289.4 901.0,1290.1 C903.7,1290.7 906.3,1291.3 909.0,1292.0 C911.7,1292.6 914.3,1293.2 917.0,1293.8 C919.7,1294.4 922.3,1295.1 925.0,1295.7 C927.7,1296.3 930.3,1296.9 933.0,1297.5 C935.7,1298.1 938.3,1298.7 941.0,1299.3 C943.7,1299.9 946.3,1300.6 949.0,1301.2 C951.7,1301.8 954.3,1302.4 957.0,1303.0 C959.7,1303.6 962.3,1304.2 965.0,1304.7 C967.7,1305.3 970.3,1305.9 973.0,1306.5 C975.7,1307.1 978.3,1307.7 981.0,1308.3 C983.7,1308.9 986.3,1309.5 989.0,1310.0 C991.7,1310.6 994.3,1311.2 997.0,1311.8 C999.7,1312.4 1002.3,1312.9 1005.0,1313.5 C1007.7,1314.1 1010.3,1314.7 1013.0,1315.2 C1015.7,1315.8 1018.3,1316.4 1021.0,1316.9 C1023.7,1317.5 1026.3,1318.1 1029.0,1318.6 C1031.7,1319.2 1034.3,1319.7 1037.0,1320.3 C1039.7,1320.9 1042.3,1321.4 1045.0,1322.0 C1047.7,1322.5 1050.3,1323.1 1053.0,1323.6 C1055.7,1324.2 1058.3,1324.7 1061.0,1325.3 C1063.7,1325.8 1066.3,1326.4 1069.0,1326.9 C1071.7,1327.4 1074.3,1328.0 1077.0,1328.5 C1079.7,1329.0 1082.3,1329.6 1085.0,1330.1 C1087.7,1330.6 1090.3,1331.2 1093.0,1331.7 C1095.7,1332.2 1098.3,1332.7 1101.0,1333.3 C1103.7,1333.8 1106.3,1334.3 1109.0,1334.8 C1111.7,1335.3 1114.3,1335.9 1117.0,1336.4 C1119.7,1336.9 1122.3,1337.4 1125.0,1337.9 C1127.7,1338.4 1130.3,1338.9 1133.0,1339.4 C1135.7,1339.9 1138.3,1340.4 1141.0,1340.9 C1143.7,1341.4 1146.3,1341.9 1149.0,1342.4 C1151.7,1342.9 1154.3,1343.4 1157.0,1343.9 C1159.7,1344.4 1162.3,1344.9 1165.0,1345.4 C1167.7,1345.9 1170.3,1346.4 1173.0,1346.8 C1175.7,1347.3 1178.3,1347.8 1181.0,1348.3 C1183.7,1348.8 1186.3,1349.2 1189.0,1349.7 C1191.7,1350.2 1194.3,1350.7 1197.0,1351.1 C1199.7,1351.6 1202.3,1352.1 1205.0,1352.5 C1207.7,1353.0 1210.3,1353.5 1213.0,1353.9 C1215.7,1354.4 1218.3,1354.8 1221.0,1355.3 C1223.7,1355.8 1226.3,1356.2 1229.0,1356.7 C1231.7,1357.1 1234.3,1357.6 1237.0,1358.0 C1239.7,1358.5 1242.3,1358.9 1245.0,1359.3 C1247.7,1359.8 1250.3,1360.2 1253.0,1360.7 C1255.7,1361.1 1258.3,1361.5 1261.0,1362.0 C1263.7,1362.4 1266.3,1362.8 1269.0,1363.3 C1271.7,1363.7 1274.3,1364.1 1277.0,1364.5 C1279.7,1365.0 1282.3,1365.4 1285.0,1365.8 C1287.7,1366.2 1290.3,1366.6 1293.0,1367.0 C1295.7,1367.5 1298.3,1367.9 1301.0,1368.3 C1303.7,1368.7 1307.5,1369.3 1309.0,1369.5 C1310.5,1369.7 1309.8,1369.6 1310.0,1369.7 L1310.0,1565 L157.0,1565 Z" fill="#E37B3A"/><path d="M157.0,1129.4 C158.3,1129.6 162.3,1130.4 165.0,1131.0 C167.7,1131.5 170.3,1132.0 173.0,1132.6 C175.7,1133.1 178.3,1133.7 181.0,1134.2 C183.7,1134.7 186.3,1135.3 189.0,1135.8 C191.7,1136.4 194.3,1136.9 197.0,1137.5 C199.7,1138.1 202.3,1138.6 205.0,1139.2 C207.7,1139.7 210.3,1140.3 213.0,1140.9 C215.7,1141.4 218.3,1142.0 221.0,1142.6 C223.7,1143.2 226.3,1143.7 229.0,1144.3 C231.7,1144.9 234.3,1145.5 237.0,1146.1 C239.7,1146.7 242.3,1147.2 245.0,1147.8 C247.7,1148.4 250.3,1149.0 253.0,1149.6 C255.7,1150.2 258.3,1150.8 261.0,1151.4 C263.7,1152.0 266.3,1152.6 269.0,1153.2 C271.7,1153.8 274.3,1154.4 277.0,1155.0 C279.7,1155.6 282.3,1156.2 285.0,1156.9 C287.7,1157.5 290.3,1158.1 293.0,1158.7 C295.7,1159.3 298.3,1159.9 301.0,1160.6 C303.7,1161.2 306.3,1161.8 309.0,1162.4 C311.7,1163.1 314.3,1163.7 317.0,1164.3 C319.7,1165.0 322.3,1165.6 325.0,1166.2 C327.7,1166.9 330.3,1167.5 333.0,1168.1 C335.7,1168.8 338.3,1169.4 341.0,1170.1 C343.7,1170.7 346.3,1171.3 349.0,1172.0 C351.7,1172.6 354.3,1173.3 357.0,1173.9 C359.7,1174.6 362.3,1175.2 365.0,1175.9 C367.7,1176.5 370.3,1177.2 373.0,1177.9 C375.7,1178.5 378.3,1179.2 381.0,1179.8 C383.7,1180.5 386.3,1181.2 389.0,1181.8 C391.7,1182.5 394.3,1183.1 397.0,1183.8 C399.7,1184.5 402.3,1185.1 405.0,1185.8 C407.7,1186.5 410.3,1187.1 413.0,1187.8 C415.7,1188.5 418.3,1189.2 421.0,1189.8 C423.7,1190.5 426.3,1191.2 429.0,1191.9 C431.7,1192.5 434.3,1193.2 437.0,1193.9 C439.7,1194.6 442.3,1195.2 445.0,1195.9 C447.7,1196.6 450.3,1197.3 453.0,1198.0 C455.7,1198.6 458.3,1199.3 461.0,1200.0 C463.7,1200.7 466.3,1201.4 469.0,1202.1 C471.7,1202.8 474.3,1203.4 477.0,1204.1 C479.7,1204.8 482.3,1205.5 485.0,1206.2 C487.7,1206.9 490.3,1207.6 493.0,1208.3 C495.7,1209.0 498.3,1209.7 501.0,1210.3 C503.7,1211.0 506.3,1211.7 509.0,1212.4 C511.7,1213.1 514.3,1213.8 517.0,1214.5 C519.7,1215.2 522.3,1215.9 525.0,1216.6 C527.7,1217.3 530.3,1218.0 533.0,1218.7 C535.7,1219.4 538.3,1220.1 541.0,1220.8 C543.7,1221.5 546.3,1222.2 549.0,1222.9 C551.7,1223.6 554.3,1224.3 557.0,1225.0 C559.7,1225.6 562.3,1226.3 565.0,1227.0 C567.7,1227.7 570.3,1228.4 573.0,1229.1 C575.7,1229.8 578.3,1230.5 581.0,1231.2 C583.7,1231.9 586.3,1232.6 589.0,1233.3 C591.7,1234.0 594.3,1234.7 597.0,1235.4 C599.7,1236.1 602.3,1236.8 605.0,1237.5 C607.7,1238.2 610.3,1238.9 613.0,1239.6 C615.7,1240.3 618.3,1241.0 621.0,1241.7 C623.7,1242.4 626.3,1243.1 629.0,1243.8 C631.7,1244.5 634.3,1245.2 637.0,1245.9 C639.7,1246.6 642.3,1247.3 645.0,1248.0 C647.7,1248.7 650.3,1249.4 653.0,1250.1 C655.7,1250.8 658.3,1251.5 661.0,1252.2 C663.7,1252.8 666.3,1253.5 669.0,1254.2 C671.7,1254.9 674.3,1255.6 677.0,1256.3 C679.7,1257.0 682.3,1257.7 685.0,1258.4 C687.7,1259.1 690.3,1259.8 693.0,1260.4 C695.7,1261.1 698.3,1261.8 701.0,1262.5 C703.7,1263.2 706.3,1263.9 709.0,1264.6 C711.7,1265.2 714.3,1265.9 717.0,1266.6 C719.7,1267.3 722.3,1268.0 725.0,1268.7 C727.7,1269.3 730.3,1270.0 733.0,1270.7 C735.7,1271.4 738.3,1272.0 741.0,1272.7 C743.7,1273.4 746.3,1274.1 749.0,1274.7 C751.7,1275.4 754.3,1276.1 757.0,1276.8 C759.7,1277.4 762.3,1278.1 765.0,1278.8 C767.7,1279.4 770.3,1280.1 773.0,1280.8 C775.7,1281.4 778.3,1282.1 781.0,1282.8 C783.7,1283.4 786.3,1284.1 789.0,1284.7 C791.7,1285.4 794.3,1286.1 797.0,1286.7 C799.7,1287.4 802.3,1288.0 805.0,1288.7 C807.7,1289.3 810.3,1290.0 813.0,1290.6 C815.7,1291.3 818.3,1292.0 821.0,1292.6 C823.7,1293.2 826.3,1293.9 829.0,1294.5 C831.7,1295.2 834.3,1295.8 837.0,1296.5 C839.7,1297.1 842.3,1297.8 845.0,1298.4 C847.7,1299.0 850.3,1299.7 853.0,1300.3 C855.7,1300.9 858.3,1301.6 861.0,1302.2 C863.7,1302.8 866.3,1303.5 869.0,1304.1 C871.7,1304.7 874.3,1305.3 877.0,1306.0 C879.7,1306.6 882.3,1307.2 885.0,1307.8 C887.7,1308.5 890.3,1309.1 893.0,1309.7 C895.7,1310.3 898.3,1310.9 901.0,1311.5 C903.7,1312.2 906.3,1312.8 909.0,1313.4 C911.7,1314.0 914.3,1314.6 917.0,1315.2 C919.7,1315.8 922.3,1316.4 925.0,1317.0 C927.7,1317.6 930.3,1318.2 933.0,1318.8 C935.7,1319.4 938.3,1320.0 941.0,1320.6 C943.7,1321.2 946.3,1321.8 949.0,1322.4 C951.7,1323.0 954.3,1323.6 957.0,1324.1 C959.7,1324.7 962.3,1325.3 965.0,1325.9 C967.7,1326.5 970.3,1327.1 973.0,1327.6 C975.7,1328.2 978.3,1328.8 981.0,1329.4 C983.7,1329.9 986.3,1330.5 989.0,1331.1 C991.7,1331.6 994.3,1332.2 997.0,1332.8 C999.7,1333.3 1002.3,1333.9 1005.0,1334.4 C1007.7,1335.0 1010.3,1335.6 1013.0,1336.1 C1015.7,1336.7 1018.3,1337.2 1021.0,1337.8 C1023.7,1338.3 1026.3,1338.9 1029.0,1339.4 C1031.7,1340.0 1034.3,1340.5 1037.0,1341.0 C1039.7,1341.6 1042.3,1342.1 1045.0,1342.7 C1047.7,1343.2 1050.3,1343.7 1053.0,1344.3 C1055.7,1344.8 1058.3,1345.3 1061.0,1345.8 C1063.7,1346.4 1066.3,1346.9 1069.0,1347.4 C1071.7,1347.9 1074.3,1348.4 1077.0,1349.0 C1079.7,1349.5 1082.3,1350.0 1085.0,1350.5 C1087.7,1351.0 1090.3,1351.5 1093.0,1352.0 C1095.7,1352.5 1098.3,1353.0 1101.0,1353.5 C1103.7,1354.0 1106.3,1354.5 1109.0,1355.0 C1111.7,1355.5 1114.3,1356.0 1117.0,1356.5 C1119.7,1357.0 1122.3,1357.5 1125.0,1357.9 C1127.7,1358.4 1130.3,1358.9 1133.0,1359.4 C1135.7,1359.9 1138.3,1360.3 1141.0,1360.8 C1143.7,1361.3 1146.3,1361.7 1149.0,1362.2 C1151.7,1362.7 1154.3,1363.1 1157.0,1363.6 C1159.7,1364.1 1162.3,1364.5 1165.0,1365.0 C1167.7,1365.4 1170.3,1365.9 1173.0,1366.3 C1175.7,1366.8 1178.3,1367.2 1181.0,1367.6 C1183.7,1368.1 1186.3,1368.5 1189.0,1369.0 C1191.7,1369.4 1194.3,1369.8 1197.0,1370.3 C1199.7,1370.7 1202.3,1371.1 1205.0,1371.5 C1207.7,1372.0 1210.3,1372.4 1213.0,1372.8 C1215.7,1373.2 1218.3,1373.6 1221.0,1374.0 C1223.7,1374.4 1226.3,1374.9 1229.0,1375.3 C1231.7,1375.7 1234.3,1376.1 1237.0,1376.5 C1239.7,1376.9 1242.3,1377.3 1245.0,1377.6 C1247.7,1378.0 1250.3,1378.4 1253.0,1378.8 C1255.7,1379.2 1258.3,1379.6 1261.0,1380.0 C1263.7,1380.3 1266.3,1380.7 1269.0,1381.1 C1271.7,1381.4 1274.3,1381.8 1277.0,1382.2 C1279.7,1382.5 1282.3,1382.9 1285.0,1383.3 C1287.7,1383.6 1290.3,1384.0 1293.0,1384.3 C1295.7,1384.7 1298.3,1385.0 1301.0,1385.4 C1303.7,1385.7 1307.5,1386.2 1309.0,1386.4 C1310.5,1386.6 1309.8,1386.5 1310.0,1386.5 L1310.0,1565 L157.0,1565 Z" fill="#5177C8"/><path d="M157.0,1152.3 C158.3,1152.5 162.3,1153.2 165.0,1153.7 C167.7,1154.2 170.3,1154.7 173.0,1155.2 C175.7,1155.6 178.3,1156.1 181.0,1156.6 C183.7,1157.1 186.3,1157.6 189.0,1158.1 C191.7,1158.6 194.3,1159.1 197.0,1159.6 C199.7,1160.1 202.3,1160.6 205.0,1161.1 C207.7,1161.6 210.3,1162.2 213.0,1162.7 C215.7,1163.2 218.3,1163.7 221.0,1164.2 C223.7,1164.8 226.3,1165.3 229.0,1165.8 C231.7,1166.4 234.3,1166.9 237.0,1167.4 C239.7,1168.0 242.3,1168.5 245.0,1169.1 C247.7,1169.6 250.3,1170.2 253.0,1170.7 C255.7,1171.3 258.3,1171.8 261.0,1172.4 C263.7,1172.9 266.3,1173.5 269.0,1174.0 C271.7,1174.6 274.3,1175.2 277.0,1175.7 C279.7,1176.3 282.3,1176.9 285.0,1177.5 C287.7,1178.0 290.3,1178.6 293.0,1179.2 C295.7,1179.8 298.3,1180.3 301.0,1180.9 C303.7,1181.5 306.3,1182.1 309.0,1182.7 C311.7,1183.3 314.3,1183.9 317.0,1184.5 C319.7,1185.1 322.3,1185.7 325.0,1186.3 C327.7,1186.9 330.3,1187.5 333.0,1188.1 C335.7,1188.7 338.3,1189.3 341.0,1189.9 C343.7,1190.5 346.3,1191.1 349.0,1191.7 C351.7,1192.3 354.3,1192.9 357.0,1193.6 C359.7,1194.2 362.3,1194.8 365.0,1195.4 C367.7,1196.0 370.3,1196.7 373.0,1197.3 C375.7,1197.9 378.3,1198.5 381.0,1199.2 C383.7,1199.8 386.3,1200.4 389.0,1201.0 C391.7,1201.7 394.3,1202.3 397.0,1202.9 C399.7,1203.6 402.3,1204.2 405.0,1204.9 C407.7,1205.5 410.3,1206.1 413.0,1206.8 C415.7,1207.4 418.3,1208.1 421.0,1208.7 C423.7,1209.4 426.3,1210.0 429.0,1210.6 C431.7,1211.3 434.3,1211.9 437.0,1212.6 C439.7,1213.2 442.3,1213.9 445.0,1214.6 C447.7,1215.2 450.3,1215.9 453.0,1216.5 C455.7,1217.2 458.3,1217.8 461.0,1218.5 C463.7,1219.1 466.3,1219.8 469.0,1220.5 C471.7,1221.1 474.3,1221.8 477.0,1222.4 C479.7,1223.1 482.3,1223.8 485.0,1224.4 C487.7,1225.1 490.3,1225.8 493.0,1226.4 C495.7,1227.1 498.3,1227.8 501.0,1228.4 C503.7,1229.1 506.3,1229.8 509.0,1230.4 C511.7,1231.1 514.3,1231.8 517.0,1232.4 C519.7,1233.1 522.3,1233.8 525.0,1234.4 C527.7,1235.1 530.3,1235.8 533.0,1236.4 C535.7,1237.1 538.3,1237.8 541.0,1238.5 C543.7,1239.1 546.3,1239.8 549.0,1240.5 C551.7,1241.2 554.3,1241.8 557.0,1242.5 C559.7,1243.2 562.3,1243.8 565.0,1244.5 C567.7,1245.2 570.3,1245.9 573.0,1246.5 C575.7,1247.2 578.3,1247.9 581.0,1248.6 C583.7,1249.2 586.3,1249.9 589.0,1250.6 C591.7,1251.3 594.3,1251.9 597.0,1252.6 C599.7,1253.3 602.3,1254.0 605.0,1254.6 C607.7,1255.3 610.3,1256.0 613.0,1256.6 C615.7,1257.3 618.3,1258.0 621.0,1258.7 C623.7,1259.3 626.3,1260.0 629.0,1260.7 C631.7,1261.3 634.3,1262.0 637.0,1262.7 C639.7,1263.4 642.3,1264.0 645.0,1264.7 C647.7,1265.4 650.3,1266.0 653.0,1266.7 C655.7,1267.4 658.3,1268.0 661.0,1268.7 C663.7,1269.4 666.3,1270.0 669.0,1270.7 C671.7,1271.4 674.3,1272.0 677.0,1272.7 C679.7,1273.4 682.3,1274.0 685.0,1274.7 C687.7,1275.3 690.3,1276.0 693.0,1276.7 C695.7,1277.3 698.3,1278.0 701.0,1278.6 C703.7,1279.3 706.3,1279.9 709.0,1280.6 C711.7,1281.3 714.3,1281.9 717.0,1282.6 C719.7,1283.2 722.3,1283.9 725.0,1284.5 C727.7,1285.2 730.3,1285.8 733.0,1286.5 C735.7,1287.1 738.3,1287.8 741.0,1288.4 C743.7,1289.0 746.3,1289.7 749.0,1290.3 C751.7,1291.0 754.3,1291.6 757.0,1292.2 C759.7,1292.9 762.3,1293.5 765.0,1294.2 C767.7,1294.8 770.3,1295.4 773.0,1296.1 C775.7,1296.7 778.3,1297.3 781.0,1297.9 C783.7,1298.6 786.3,1299.2 789.0,1299.8 C791.7,1300.4 794.3,1301.1 797.0,1301.7 C799.7,1302.3 802.3,1302.9 805.0,1303.5 C807.7,1304.2 810.3,1304.8 813.0,1305.4 C815.7,1306.0 818.3,1306.6 821.0,1307.2 C823.7,1307.8 826.3,1308.5 829.0,1309.1 C831.7,1309.7 834.3,1310.3 837.0,1310.9 C839.7,1311.5 842.3,1312.1 845.0,1312.7 C847.7,1313.3 850.3,1313.9 853.0,1314.5 C855.7,1315.1 858.3,1315.7 861.0,1316.3 C863.7,1316.9 866.3,1317.5 869.0,1318.1 C871.7,1318.6 874.3,1319.2 877.0,1319.8 C879.7,1320.4 882.3,1321.0 885.0,1321.6 C887.7,1322.2 890.3,1322.7 893.0,1323.3 C895.7,1323.9 898.3,1324.5 901.0,1325.1 C903.7,1325.6 906.3,1326.2 909.0,1326.8 C911.7,1327.4 914.3,1327.9 917.0,1328.5 C919.7,1329.1 922.3,1329.6 925.0,1330.2 C927.7,1330.8 930.3,1331.3 933.0,1331.9 C935.7,1332.4 938.3,1333.0 941.0,1333.6 C943.7,1334.1 946.3,1334.7 949.0,1335.2 C951.7,1335.8 954.3,1336.3 957.0,1336.9 C959.7,1337.4 962.3,1338.0 965.0,1338.5 C967.7,1339.1 970.3,1339.6 973.0,1340.2 C975.7,1340.7 978.3,1341.3 981.0,1341.8 C983.7,1342.3 986.3,1342.9 989.0,1343.4 C991.7,1343.9 994.3,1344.5 997.0,1345.0 C999.7,1345.5 1002.3,1346.1 1005.0,1346.6 C1007.7,1347.1 1010.3,1347.6 1013.0,1348.2 C1015.7,1348.7 1018.3,1349.2 1021.0,1349.7 C1023.7,1350.3 1026.3,1350.8 1029.0,1351.3 C1031.7,1351.8 1034.3,1352.3 1037.0,1352.8 C1039.7,1353.3 1042.3,1353.8 1045.0,1354.4 C1047.7,1354.9 1050.3,1355.4 1053.0,1355.9 C1055.7,1356.4 1058.3,1356.9 1061.0,1357.4 C1063.7,1357.9 1066.3,1358.4 1069.0,1358.9 C1071.7,1359.4 1074.3,1359.9 1077.0,1360.4 C1079.7,1360.8 1082.3,1361.3 1085.0,1361.8 C1087.7,1362.3 1090.3,1362.8 1093.0,1363.3 C1095.7,1363.8 1098.3,1364.2 1101.0,1364.7 C1103.7,1365.2 1106.3,1365.7 1109.0,1366.2 C1111.7,1366.6 1114.3,1367.1 1117.0,1367.6 C1119.7,1368.0 1122.3,1368.5 1125.0,1369.0 C1127.7,1369.4 1130.3,1369.9 1133.0,1370.4 C1135.7,1370.8 1138.3,1371.3 1141.0,1371.8 C1143.7,1372.2 1146.3,1372.7 1149.0,1373.1 C1151.7,1373.6 1154.3,1374.0 1157.0,1374.5 C1159.7,1374.9 1162.3,1375.4 1165.0,1375.8 C1167.7,1376.3 1170.3,1376.7 1173.0,1377.2 C1175.7,1377.6 1178.3,1378.0 1181.0,1378.5 C1183.7,1378.9 1186.3,1379.3 1189.0,1379.8 C1191.7,1380.2 1194.3,1380.6 1197.0,1381.1 C1199.7,1381.5 1202.3,1381.9 1205.0,1382.3 C1207.7,1382.8 1210.3,1383.2 1213.0,1383.6 C1215.7,1384.0 1218.3,1384.4 1221.0,1384.9 C1223.7,1385.3 1226.3,1385.7 1229.0,1386.1 C1231.7,1386.5 1234.3,1386.9 1237.0,1387.3 C1239.7,1387.7 1242.3,1388.1 1245.0,1388.5 C1247.7,1388.9 1250.3,1389.3 1253.0,1389.7 C1255.7,1390.1 1258.3,1390.5 1261.0,1390.9 C1263.7,1391.3 1266.3,1391.7 1269.0,1392.1 C1271.7,1392.5 1274.3,1392.9 1277.0,1393.2 C1279.7,1393.6 1282.3,1394.0 1285.0,1394.4 C1287.7,1394.8 1290.3,1395.1 1293.0,1395.5 C1295.7,1395.9 1298.3,1396.3 1301.0,1396.6 C1303.7,1397.0 1307.5,1397.5 1309.0,1397.7 C1310.5,1397.9 1309.8,1397.8 1310.0,1397.9 L1310.0,1565 L157.0,1565 Z" fill="#F2E5D7"/><line x1="151.7" y1="1565" x2="1316" y2="1565" stroke="#D6D6D6" stroke-width="1.5"/><line x1="151.7" y1="1565" x2="151.7" y2="1577" stroke="#D6D6D6" stroke-width="1.5"/><line x1="215.6" y1="1565" x2="215.6" y2="1577" stroke="#D6D6D6" stroke-width="1.5"/><line x1="279.6" y1="1565" x2="279.6" y2="1577" stroke="#D6D6D6" stroke-width="1.5"/><line x1="343.6" y1="1565" x2="343.6" y2="1577" stroke="#D6D6D6" stroke-width="1.5"/><line x1="407.5" y1="1565" x2="407.5" y2="1577" stroke="#D6D6D6" stroke-width="1.5"/><line x1="471.4" y1="1565" x2="471.4" y2="1577" stroke="#D6D6D6" stroke-width="1.5"/><line x1="535.4" y1="1565" x2="535.4" y2="1577" stroke="#D6D6D6" stroke-width="1.5"/><line x1="599.4" y1="1565" x2="599.4" y2="1577" stroke="#D6D6D6" stroke-width="1.5"/><line x1="663.3" y1="1565" x2="663.3" y2="1577" stroke="#D6D6D6" stroke-width="1.5"/><line x1="727.2" y1="1565" x2="727.2" y2="1577" stroke="#D6D6D6" stroke-width="1.5"/><line x1="791.2" y1="1565" x2="791.2" y2="1577" stroke="#D6D6D6" stroke-width="1.5"/><line x1="855.2" y1="1565" x2="855.2" y2="1577" stroke="#D6D6D6" stroke-width="1.5"/><line x1="919.1" y1="1565" x2="919.1" y2="1577" stroke="#D6D6D6" stroke-width="1.5"/><line x1="983.0" y1="1565" x2="983.0" y2="1577" stroke="#D6D6D6" stroke-width="1.5"/><line x1="1047.0" y1="1565" x2="1047.0" y2="1577" stroke="#D6D6D6" stroke-width="1.5"/><line x1="1111.0" y1="1565" x2="1111.0" y2="1577" stroke="#D6D6D6" stroke-width="1.5"/><line x1="1174.9" y1="1565" x2="1174.9" y2="1577" stroke="#D6D6D6" stroke-width="1.5"/><line x1="1238.9" y1="1565" x2="1238.9" y2="1577" stroke="#D6D6D6" stroke-width="1.5"/><line x1="1302.8" y1="1565" x2="1302.8" y2="1577" stroke="#D6D6D6" stroke-width="1.5"/><path d="M1307.4,1287.9 C1306.3,1287.7 1303.4,1287.2 1301.0,1286.8 C1298.6,1286.3 1295.7,1285.8 1293.0,1285.3 C1290.3,1284.9 1287.7,1284.4 1285.0,1283.9 C1282.3,1283.4 1279.7,1282.9 1277.0,1282.5 C1274.3,1282.0 1271.7,1281.5 1269.0,1281.0 C1266.3,1280.5 1263.7,1280.0 1261.0,1279.6 C1258.3,1279.1 1255.7,1278.6 1253.0,1278.1 C1250.3,1277.6 1247.7,1277.1 1245.0,1276.6 C1242.3,1276.1 1239.7,1275.6 1237.0,1275.2 C1234.3,1274.7 1231.7,1274.2 1229.0,1273.7 C1226.3,1273.2 1223.7,1272.7 1221.0,1272.2 C1218.3,1271.7 1215.7,1271.2 1213.0,1270.7 C1210.3,1270.2 1207.7,1269.7 1205.0,1269.2 C1202.3,1268.6 1199.7,1268.1 1197.0,1267.6 C1194.3,1267.1 1191.7,1266.6 1189.0,1266.1 C1186.3,1265.6 1183.7,1265.1 1181.0,1264.6 C1178.3,1264.0 1175.7,1263.5 1173.0,1263.0 C1170.3,1262.5 1167.7,1262.0 1165.0,1261.5 C1162.3,1260.9 1159.7,1260.4 1157.0,1259.9 C1154.3,1259.4 1151.7,1258.8 1149.0,1258.3 C1146.3,1257.8 1143.7,1257.2 1141.0,1256.7 C1138.3,1256.2 1135.7,1255.6 1133.0,1255.1 C1130.3,1254.6 1127.7,1254.0 1125.0,1253.5 C1122.3,1253.0 1119.7,1252.4 1117.0,1251.9 C1114.3,1251.3 1111.7,1250.8 1109.0,1250.3 C1106.3,1249.7 1103.7,1249.2 1101.0,1248.6 C1098.3,1248.1 1095.7,1247.5 1093.0,1247.0 C1090.3,1246.4 1087.7,1245.8 1085.0,1245.3 C1082.3,1244.7 1079.7,1244.2 1077.0,1243.6 C1074.3,1243.1 1071.7,1242.5 1069.0,1241.9 C1066.3,1241.4 1063.7,1240.8 1061.0,1240.2 C1058.3,1239.7 1055.7,1239.1 1053.0,1238.5 C1050.3,1237.9 1047.7,1237.4 1045.0,1236.8 C1042.3,1236.2 1039.7,1235.6 1037.0,1235.1 C1034.3,1234.5 1031.7,1233.9 1029.0,1233.3 C1026.3,1232.7 1023.7,1232.1 1021.0,1231.6 C1018.3,1231.0 1015.7,1230.4 1013.0,1229.8 C1010.3,1229.2 1007.7,1228.6 1005.0,1228.0 C1002.3,1227.4 999.7,1226.8 997.0,1226.2 C994.3,1225.6 991.7,1225.0 989.0,1224.4 C986.3,1223.8 983.7,1223.2 981.0,1222.6 C978.3,1221.9 975.7,1221.3 973.0,1220.7 C970.3,1220.1 967.7,1219.5 965.0,1218.9 C962.3,1218.2 959.7,1217.6 957.0,1217.0 C954.3,1216.4 951.7,1215.7 949.0,1215.1 C946.3,1214.5 943.7,1213.9 941.0,1213.2 C938.3,1212.6 935.7,1212.0 933.0,1211.3 C930.3,1210.7 927.7,1210.0 925.0,1209.4 C922.3,1208.7 919.7,1208.1 917.0,1207.5 C914.3,1206.8 911.7,1206.2 909.0,1205.5 C906.3,1204.8 903.7,1204.2 901.0,1203.5 C898.3,1202.9 895.7,1202.2 893.0,1201.5 C890.3,1200.9 887.7,1200.2 885.0,1199.5 C882.3,1198.9 879.7,1198.2 877.0,1197.5 C874.3,1196.9 871.7,1196.2 869.0,1195.5 C866.3,1194.8 863.7,1194.1 861.0,1193.5 C858.3,1192.8 855.7,1192.1 853.0,1191.4 C850.3,1190.7 847.7,1190.0 845.0,1189.3 C842.3,1188.6 839.7,1187.9 837.0,1187.2 C834.3,1186.5 831.7,1185.8 829.0,1185.1 C826.3,1184.4 823.7,1183.7 821.0,1183.0 C818.3,1182.3 815.7,1181.6 813.0,1180.9 C810.3,1180.1 807.7,1179.4 805.0,1178.7 C802.3,1178.0 799.7,1177.2 797.0,1176.5 C794.3,1175.8 791.7,1175.1 789.0,1174.3 C786.3,1173.6 783.7,1172.9 781.0,1172.1 C778.3,1171.4 775.7,1170.6 773.0,1169.9 C770.3,1169.1 767.7,1168.4 765.0,1167.6 C762.3,1166.9 759.7,1166.1 757.0,1165.4 C754.3,1164.6 751.7,1163.9 749.0,1163.1 C746.3,1162.3 743.7,1161.6 741.0,1160.8 C738.3,1160.0 735.7,1159.2 733.0,1158.5 C730.3,1157.7 727.7,1156.9 725.0,1156.1 C722.3,1155.4 719.7,1154.6 717.0,1153.8 C714.3,1153.0 711.7,1152.2 709.0,1151.4 C706.3,1150.6 703.7,1149.8 701.0,1149.0 C698.3,1148.2 695.7,1147.4 693.0,1146.6 C690.3,1145.8 687.7,1145.0 685.0,1144.2 C682.3,1143.4 679.7,1142.6 677.0,1141.7 C674.3,1140.9 671.7,1140.1 669.0,1139.3 C666.3,1138.5 663.7,1137.6 661.0,1136.8 C658.3,1136.0 655.7,1135.1 653.0,1134.3 C650.3,1133.5 647.7,1132.6 645.0,1131.8 C642.3,1131.0 639.7,1130.1 637.0,1129.3 C634.3,1128.4 631.7,1127.6 629.0,1126.7 C626.3,1125.9 623.7,1125.0 621.0,1124.2 C618.3,1123.3 615.7,1122.4 613.0,1121.6 C610.3,1120.7 607.7,1119.8 605.0,1119.0 C602.3,1118.1 599.7,1117.2 597.0,1116.3 C594.3,1115.5 591.7,1114.6 589.0,1113.7 C586.3,1112.8 583.7,1111.9 581.0,1111.1 C578.3,1110.2 575.7,1109.3 573.0,1108.4 C570.3,1107.5 567.7,1106.6 565.0,1105.7 C562.3,1104.8 559.7,1103.9 557.0,1103.0 C554.3,1102.1 551.7,1101.2 549.0,1100.3 C546.3,1099.4 543.7,1098.5 541.0,1097.5 C538.3,1096.6 535.7,1095.7 533.0,1094.8 C530.3,1093.9 527.7,1092.9 525.0,1092.0 C522.3,1091.1 519.7,1090.1 517.0,1089.2 C514.3,1088.3 511.7,1087.3 509.0,1086.4 C506.3,1085.5 503.7,1084.5 501.0,1083.6 C498.3,1082.6 495.7,1081.7 493.0,1080.7 C490.3,1079.8 487.7,1078.8 485.0,1077.9 C482.3,1076.9 479.7,1076.0 477.0,1075.0 C474.3,1074.0 471.7,1073.1 469.0,1072.1 C466.3,1071.1 463.7,1070.2 461.0,1069.2 C458.3,1068.2 455.7,1067.3 453.0,1066.3 C450.3,1065.3 447.7,1064.3 445.0,1063.3 C442.3,1062.4 439.7,1061.4 437.0,1060.4 C434.3,1059.4 431.7,1058.4 429.0,1057.5 C426.3,1056.5 423.7,1055.5 421.0,1054.5 C418.3,1053.5 415.7,1052.6 413.0,1051.6 C410.3,1050.6 407.7,1049.7 405.0,1048.7 C402.3,1047.8 399.7,1046.8 397.0,1045.9 C394.3,1044.9 391.7,1044.0 389.0,1043.1 C386.3,1042.1 383.7,1041.2 381.0,1040.3 C378.3,1039.4 375.7,1038.5 373.0,1037.6 C370.3,1036.7 367.7,1035.8 365.0,1035.0 C362.3,1034.1 359.7,1033.2 357.0,1032.4 C354.3,1031.5 351.7,1030.7 349.0,1029.9 C346.3,1029.1 343.7,1028.3 341.0,1027.5 C338.3,1026.7 335.7,1025.9 333.0,1025.2 C330.3,1024.4 327.7,1023.7 325.0,1023.0 C322.3,1022.3 319.7,1021.6 317.0,1020.9 C314.3,1020.2 311.7,1019.6 309.0,1018.9 C306.3,1018.3 303.7,1017.7 301.0,1017.1 C298.3,1016.5 295.7,1015.9 293.0,1015.4 C290.3,1014.8 287.7,1014.3 285.0,1013.8 C282.3,1013.3 279.7,1012.8 277.0,1012.3 C274.3,1011.8 271.7,1011.4 269.0,1011.0 C266.3,1010.5 263.7,1010.1 261.0,1009.7 C258.3,1009.3 255.7,1008.9 253.0,1008.6 C250.3,1008.2 247.7,1007.8 245.0,1007.5 C242.3,1007.2 239.7,1006.9 237.0,1006.6 C234.3,1006.3 231.7,1006.0 229.0,1005.7 C226.3,1005.4 223.7,1005.2 221.0,1004.9 C218.3,1004.7 215.7,1004.5 213.0,1004.3 C210.3,1004.0 207.7,1003.8 205.0,1003.7 C202.3,1003.5 199.7,1003.3 197.0,1003.1 C194.3,1003.0 191.7,1002.8 189.0,1002.7 C186.3,1002.5 183.7,1002.4 181.0,1002.3 C178.3,1002.2 175.7,1002.1 173.0,1002.0 C170.3,1001.9 167.7,1001.8 165.0,1001.7 C162.3,1001.7 158.3,1001.6 157.0,1001.5" fill="none" stroke="#333333" stroke-width="5" stroke-linecap="round" stroke-linejoin="round" stroke-dasharray="10 11.6" stroke-dashoffset="-2.5"/><path d="M157.0,1001.5 C158.3,1001.5 162.3,1001.4 165.0,1001.4 C167.7,1001.4 170.3,1001.4 173.0,1001.4 C175.7,1001.5 178.3,1001.5 181.0,1001.6 C183.7,1001.7 186.3,1001.8 189.0,1001.9 C191.7,1002.0 194.3,1002.1 197.0,1002.3 C199.7,1002.4 202.3,1002.6 205.0,1002.8 C207.7,1003.0 210.3,1003.2 213.0,1003.5 C215.7,1003.7 218.3,1004.0 221.0,1004.3 C223.7,1004.6 226.3,1004.9 229.0,1005.2 C231.7,1005.5 234.3,1005.8 237.0,1006.2 C239.7,1006.5 242.3,1006.9 245.0,1007.3 C247.7,1007.7 250.3,1008.1 253.0,1008.6 C255.7,1009.0 258.3,1009.4 261.0,1009.9 C263.7,1010.4 266.3,1010.8 269.0,1011.3 C271.7,1011.8 274.3,1012.4 277.0,1012.9 C279.7,1013.4 282.3,1014.0 285.0,1014.5 C287.7,1015.1 290.3,1015.7 293.0,1016.3 C295.7,1016.8 298.3,1017.5 301.0,1018.1 C303.7,1018.7 306.3,1019.3 309.0,1020.0 C311.7,1020.6 314.3,1021.3 317.0,1022.0 C319.7,1022.7 322.3,1023.3 325.0,1024.1 C327.7,1024.8 330.3,1025.5 333.0,1026.2 C335.7,1026.9 338.3,1027.7 341.0,1028.4 C343.7,1029.2 346.3,1030.0 349.0,1030.7 C351.7,1031.5 354.3,1032.3 357.0,1033.1 C359.7,1033.9 362.3,1034.7 365.0,1035.5 C367.7,1036.4 370.3,1037.2 373.0,1038.0 C375.7,1038.9 378.3,1039.7 381.0,1040.6 C383.7,1041.5 386.3,1042.3 389.0,1043.2 C391.7,1044.1 394.3,1045.0 397.0,1045.9 C399.7,1046.8 402.3,1047.7 405.0,1048.6 C407.7,1049.5 410.3,1050.5 413.0,1051.4 C415.7,1052.3 418.3,1053.3 421.0,1054.2 C423.7,1055.1 426.3,1056.1 429.0,1057.1 C431.7,1058.0 434.3,1059.0 437.0,1060.0 C439.7,1060.9 442.3,1061.9 445.0,1062.9 C447.7,1063.9 450.3,1064.9 453.0,1065.9 C455.7,1066.9 458.3,1067.9 461.0,1068.9 C463.7,1069.9 466.3,1070.9 469.0,1071.9 C471.7,1072.9 474.3,1073.9 477.0,1074.9 C479.7,1076.0 482.3,1077.0 485.0,1078.0 C487.7,1079.0 490.3,1080.1 493.0,1081.1 C495.7,1082.1 498.3,1083.2 501.0,1084.2 C503.7,1085.3 506.3,1086.3 509.0,1087.4 C511.7,1088.4 514.3,1089.4 517.0,1090.5 C519.7,1091.5 522.3,1092.6 525.0,1093.6 C527.7,1094.7 530.3,1095.8 533.0,1096.8 C535.7,1097.9 538.3,1098.9 541.0,1100.0 C543.7,1101.0 546.3,1102.1 549.0,1103.1 C551.7,1104.2 554.3,1105.3 557.0,1106.3 C559.7,1107.4 562.3,1108.4 565.0,1109.5 C567.7,1110.5 570.3,1111.6 573.0,1112.6 C575.7,1113.7 578.3,1114.8 581.0,1115.8 C583.7,1116.9 586.3,1117.9 589.0,1118.9 C591.7,1120.0 594.3,1121.0 597.0,1122.1 C599.7,1123.1 602.3,1124.2 605.0,1125.2 C607.7,1126.2 610.3,1127.3 613.0,1128.3 C615.7,1129.3 618.3,1130.4 621.0,1131.4 C623.7,1132.4 626.3,1133.5 629.0,1134.5 C631.7,1135.5 634.3,1136.5 637.0,1137.5 C639.7,1138.5 642.3,1139.6 645.0,1140.6 C647.7,1141.6 650.3,1142.6 653.0,1143.6 C655.7,1144.6 658.3,1145.6 661.0,1146.6 C663.7,1147.5 666.3,1148.5 669.0,1149.5 C671.7,1150.5 674.3,1151.5 677.0,1152.5 C679.7,1153.4 682.3,1154.4 685.0,1155.4 C687.7,1156.4 690.3,1157.3 693.0,1158.3 C695.7,1159.2 698.3,1160.2 701.0,1161.1 C703.7,1162.1 706.3,1163.0 709.0,1164.0 C711.7,1164.9 714.3,1165.9 717.0,1166.8 C719.7,1167.7 722.3,1168.7 725.0,1169.6 C727.7,1170.5 730.3,1171.4 733.0,1172.4 C735.7,1173.3 738.3,1174.2 741.0,1175.1 C743.7,1176.0 746.3,1176.9 749.0,1177.8 C751.7,1178.7 754.3,1179.6 757.0,1180.5 C759.7,1181.3 762.3,1182.2 765.0,1183.1 C767.7,1184.0 770.3,1184.8 773.0,1185.7 C775.7,1186.6 778.3,1187.4 781.0,1188.3 C783.7,1189.1 786.3,1190.0 789.0,1190.8 C791.7,1191.7 794.3,1192.5 797.0,1193.3 C799.7,1194.2 802.3,1195.0 805.0,1195.8 C807.7,1196.6 810.3,1197.5 813.0,1198.3 C815.7,1199.1 818.3,1199.9 821.0,1200.7 C823.7,1201.5 826.3,1202.3 829.0,1203.1 C831.7,1203.9 834.3,1204.7 837.0,1205.5 C839.7,1206.3 842.3,1207.0 845.0,1207.8 C847.7,1208.6 850.3,1209.4 853.0,1210.1 C855.7,1210.9 858.3,1211.7 861.0,1212.4 C863.7,1213.2 866.3,1214.0 869.0,1214.7 C871.7,1215.5 874.3,1216.2 877.0,1216.9 C879.7,1217.7 882.3,1218.4 885.0,1219.2 C887.7,1219.9 890.3,1220.6 893.0,1221.4 C895.7,1222.1 898.3,1222.8 901.0,1223.5 C903.7,1224.2 906.3,1225.0 909.0,1225.7 C911.7,1226.4 914.3,1227.1 917.0,1227.8 C919.7,1228.5 922.3,1229.2 925.0,1229.9 C927.7,1230.6 930.3,1231.3 933.0,1232.0 C935.7,1232.7 938.3,1233.4 941.0,1234.0 C943.7,1234.7 946.3,1235.4 949.0,1236.1 C951.7,1236.8 954.3,1237.4 957.0,1238.1 C959.7,1238.8 962.3,1239.4 965.0,1240.1 C967.7,1240.8 970.3,1241.4 973.0,1242.1 C975.7,1242.7 978.3,1243.4 981.0,1244.0 C983.7,1244.7 986.3,1245.3 989.0,1246.0 C991.7,1246.6 994.3,1247.3 997.0,1247.9 C999.7,1248.5 1002.3,1249.2 1005.0,1249.8 C1007.7,1250.4 1010.3,1251.1 1013.0,1251.7 C1015.7,1252.3 1018.3,1252.9 1021.0,1253.6 C1023.7,1254.2 1026.3,1254.8 1029.0,1255.4 C1031.7,1256.0 1034.3,1256.7 1037.0,1257.3 C1039.7,1257.9 1042.3,1258.5 1045.0,1259.1 C1047.7,1259.7 1050.3,1260.3 1053.0,1260.9 C1055.7,1261.5 1058.3,1262.1 1061.0,1262.7 C1063.7,1263.3 1066.3,1263.9 1069.0,1264.5 C1071.7,1265.1 1074.3,1265.7 1077.0,1266.3 C1079.7,1266.8 1082.3,1267.4 1085.0,1268.0 C1087.7,1268.6 1090.3,1269.2 1093.0,1269.8 C1095.7,1270.3 1098.3,1270.9 1101.0,1271.5 C1103.7,1272.1 1106.3,1272.6 1109.0,1273.2 C1111.7,1273.8 1114.3,1274.4 1117.0,1274.9 C1119.7,1275.5 1122.3,1276.1 1125.0,1276.6 C1127.7,1277.2 1130.3,1277.8 1133.0,1278.3 C1135.7,1278.9 1138.3,1279.4 1141.0,1280.0 C1143.7,1280.6 1146.3,1281.1 1149.0,1281.7 C1151.7,1282.2 1154.3,1282.8 1157.0,1283.3 C1159.7,1283.9 1162.3,1284.4 1165.0,1285.0 C1167.7,1285.5 1170.3,1286.1 1173.0,1286.6 C1175.7,1287.2 1178.3,1287.7 1181.0,1288.3 C1183.7,1288.8 1186.3,1289.4 1189.0,1289.9 C1191.7,1290.5 1194.3,1291.0 1197.0,1291.5 C1199.7,1292.1 1202.3,1292.6 1205.0,1293.2 C1207.7,1293.7 1210.3,1294.3 1213.0,1294.8 C1215.7,1295.3 1218.3,1295.9 1221.0,1296.4 C1223.7,1296.9 1226.3,1297.5 1229.0,1298.0 C1231.7,1298.6 1234.3,1299.1 1237.0,1299.6 C1239.7,1300.2 1242.3,1300.7 1245.0,1301.2 C1247.7,1301.8 1250.3,1302.3 1253.0,1302.8 C1255.7,1303.4 1258.3,1303.9 1261.0,1304.4 C1263.7,1305.0 1266.3,1305.5 1269.0,1306.0 C1271.7,1306.6 1274.3,1307.1 1277.0,1307.6 C1279.7,1308.1 1282.3,1308.7 1285.0,1309.2 C1287.7,1309.7 1290.3,1310.3 1293.0,1310.8 C1295.7,1311.3 1298.3,1311.9 1301.0,1312.4 C1303.7,1312.9 1307.5,1313.7 1309.0,1314.0 C1310.5,1314.3 1309.8,1314.2 1310.0,1314.2" fill="none" stroke="#383838" stroke-width="6" stroke-linecap="round" stroke-linejoin="round" /><path d="M157.0,1001.4 C158.3,1001.4 162.3,1001.4 165.0,1001.5 C167.7,1001.5 170.3,1001.6 173.0,1001.6 C175.7,1001.7 178.3,1001.8 181.0,1001.9 C183.7,1002.1 186.3,1002.2 189.0,1002.4 C191.7,1002.5 194.3,1002.7 197.0,1002.9 C199.7,1003.1 202.3,1003.3 205.0,1003.5 C207.7,1003.7 210.3,1004.0 213.0,1004.3 C215.7,1004.5 218.3,1004.8 221.0,1005.1 C223.7,1005.4 226.3,1005.7 229.0,1006.1 C231.7,1006.4 234.3,1006.7 237.0,1007.1 C239.7,1007.5 242.3,1007.9 245.0,1008.3 C247.7,1008.7 250.3,1009.1 253.0,1009.5 C255.7,1010.0 258.3,1010.4 261.0,1010.9 C263.7,1011.3 266.3,1011.8 269.0,1012.3 C271.7,1012.8 274.3,1013.3 277.0,1013.8 C279.7,1014.4 282.3,1014.9 285.0,1015.5 C287.7,1016.0 290.3,1016.6 293.0,1017.2 C295.7,1017.8 298.3,1018.3 301.0,1019.0 C303.7,1019.6 306.3,1020.2 309.0,1020.8 C311.7,1021.5 314.3,1022.1 317.0,1022.8 C319.7,1023.5 322.3,1024.1 325.0,1024.8 C327.7,1025.5 330.3,1026.2 333.0,1026.9 C335.7,1027.6 338.3,1028.4 341.0,1029.1 C343.7,1029.8 346.3,1030.6 349.0,1031.4 C351.7,1032.1 354.3,1032.9 357.0,1033.7 C359.7,1034.5 362.3,1035.3 365.0,1036.1 C367.7,1036.9 370.3,1037.7 373.0,1038.5 C375.7,1039.4 378.3,1040.2 381.0,1041.0 C383.7,1041.9 386.3,1042.8 389.0,1043.6 C391.7,1044.5 394.3,1045.4 397.0,1046.3 C399.7,1047.1 402.3,1048.0 405.0,1049.0 C407.7,1049.9 410.3,1050.8 413.0,1051.7 C415.7,1052.6 418.3,1053.6 421.0,1054.5 C423.7,1055.4 426.3,1056.4 429.0,1057.4 C431.7,1058.3 434.3,1059.3 437.0,1060.3 C439.7,1061.2 442.3,1062.2 445.0,1063.2 C447.7,1064.2 450.3,1065.2 453.0,1066.2 C455.7,1067.2 458.3,1068.2 461.0,1069.2 C463.7,1070.2 466.3,1071.3 469.0,1072.3 C471.7,1073.3 474.3,1074.4 477.0,1075.4 C479.7,1076.4 482.3,1077.5 485.0,1078.5 C487.7,1079.6 490.3,1080.7 493.0,1081.7 C495.7,1082.8 498.3,1083.9 501.0,1084.9 C503.7,1086.0 506.3,1087.1 509.0,1088.2 C511.7,1089.2 514.3,1090.3 517.0,1091.4 C519.7,1092.5 522.3,1093.6 525.0,1094.7 C527.7,1095.8 530.3,1096.9 533.0,1098.0 C535.7,1099.1 538.3,1100.2 541.0,1101.4 C543.7,1102.5 546.3,1103.6 549.0,1104.7 C551.7,1105.8 554.3,1106.9 557.0,1108.1 C559.7,1109.2 562.3,1110.3 565.0,1111.4 C567.7,1112.6 570.3,1113.7 573.0,1114.8 C575.7,1116.0 578.3,1117.1 581.0,1118.2 C583.7,1119.4 586.3,1120.5 589.0,1121.6 C591.7,1122.8 594.3,1123.9 597.0,1125.1 C599.7,1126.2 602.3,1127.3 605.0,1128.5 C607.7,1129.6 610.3,1130.7 613.0,1131.9 C615.7,1133.0 618.3,1134.2 621.0,1135.3 C623.7,1136.4 626.3,1137.6 629.0,1138.7 C631.7,1139.8 634.3,1141.0 637.0,1142.1 C639.7,1143.3 642.3,1144.4 645.0,1145.5 C647.7,1146.6 650.3,1147.8 653.0,1148.9 C655.7,1150.0 658.3,1151.2 661.0,1152.3 C663.7,1153.4 666.3,1154.5 669.0,1155.7 C671.7,1156.8 674.3,1157.9 677.0,1159.0 C679.7,1160.1 682.3,1161.2 685.0,1162.3 C687.7,1163.4 690.3,1164.5 693.0,1165.6 C695.7,1166.7 698.3,1167.8 701.0,1168.9 C703.7,1170.0 706.3,1171.1 709.0,1172.2 C711.7,1173.3 714.3,1174.3 717.0,1175.4 C719.7,1176.5 722.3,1177.6 725.0,1178.6 C727.7,1179.7 730.3,1180.8 733.0,1181.8 C735.7,1182.9 738.3,1183.9 741.0,1184.9 C743.7,1186.0 746.3,1187.0 749.0,1188.1 C751.7,1189.1 754.3,1190.1 757.0,1191.1 C759.7,1192.1 762.3,1193.2 765.0,1194.2 C767.7,1195.2 770.3,1196.2 773.0,1197.1 C775.7,1198.1 778.3,1199.1 781.0,1200.1 C783.7,1201.1 786.3,1202.0 789.0,1203.0 C791.7,1204.0 794.3,1204.9 797.0,1205.9 C799.7,1206.8 802.3,1207.8 805.0,1208.7 C807.7,1209.7 810.3,1210.6 813.0,1211.5 C815.7,1212.5 818.3,1213.4 821.0,1214.3 C823.7,1215.2 826.3,1216.1 829.0,1217.0 C831.7,1217.9 834.3,1218.8 837.0,1219.7 C839.7,1220.6 842.3,1221.5 845.0,1222.4 C847.7,1223.3 850.3,1224.1 853.0,1225.0 C855.7,1225.9 858.3,1226.7 861.0,1227.6 C863.7,1228.5 866.3,1229.3 869.0,1230.2 C871.7,1231.0 874.3,1231.8 877.0,1232.7 C879.7,1233.5 882.3,1234.3 885.0,1235.2 C887.7,1236.0 890.3,1236.8 893.0,1237.6 C895.7,1238.4 898.3,1239.2 901.0,1240.0 C903.7,1240.9 906.3,1241.6 909.0,1242.4 C911.7,1243.2 914.3,1244.0 917.0,1244.8 C919.7,1245.6 922.3,1246.4 925.0,1247.1 C927.7,1247.9 930.3,1248.7 933.0,1249.4 C935.7,1250.2 938.3,1251.0 941.0,1251.7 C943.7,1252.5 946.3,1253.2 949.0,1254.0 C951.7,1254.7 954.3,1255.4 957.0,1256.2 C959.7,1256.9 962.3,1257.6 965.0,1258.4 C967.7,1259.1 970.3,1259.8 973.0,1260.5 C975.7,1261.2 978.3,1261.9 981.0,1262.6 C983.7,1263.3 986.3,1264.0 989.0,1264.7 C991.7,1265.4 994.3,1266.1 997.0,1266.8 C999.7,1267.5 1002.3,1268.2 1005.0,1268.9 C1007.7,1269.5 1010.3,1270.2 1013.0,1270.9 C1015.7,1271.6 1018.3,1272.2 1021.0,1272.9 C1023.7,1273.5 1026.3,1274.2 1029.0,1274.9 C1031.7,1275.5 1034.3,1276.2 1037.0,1276.8 C1039.7,1277.4 1042.3,1278.1 1045.0,1278.7 C1047.7,1279.4 1050.3,1280.0 1053.0,1280.6 C1055.7,1281.3 1058.3,1281.9 1061.0,1282.5 C1063.7,1283.1 1066.3,1283.7 1069.0,1284.4 C1071.7,1285.0 1074.3,1285.6 1077.0,1286.2 C1079.7,1286.8 1082.3,1287.4 1085.0,1288.0 C1087.7,1288.6 1090.3,1289.2 1093.0,1289.8 C1095.7,1290.4 1098.3,1291.0 1101.0,1291.6 C1103.7,1292.1 1106.3,1292.7 1109.0,1293.3 C1111.7,1293.9 1114.3,1294.5 1117.0,1295.0 C1119.7,1295.6 1122.3,1296.2 1125.0,1296.7 C1127.7,1297.3 1130.3,1297.9 1133.0,1298.4 C1135.7,1299.0 1138.3,1299.5 1141.0,1300.1 C1143.7,1300.6 1146.3,1301.2 1149.0,1301.7 C1151.7,1302.3 1154.3,1302.8 1157.0,1303.4 C1159.7,1303.9 1162.3,1304.5 1165.0,1305.0 C1167.7,1305.5 1170.3,1306.1 1173.0,1306.6 C1175.7,1307.1 1178.3,1307.6 1181.0,1308.2 C1183.7,1308.7 1186.3,1309.2 1189.0,1309.7 C1191.7,1310.3 1194.3,1310.8 1197.0,1311.3 C1199.7,1311.8 1202.3,1312.3 1205.0,1312.8 C1207.7,1313.3 1210.3,1313.8 1213.0,1314.3 C1215.7,1314.8 1218.3,1315.3 1221.0,1315.8 C1223.7,1316.3 1226.3,1316.8 1229.0,1317.3 C1231.7,1317.8 1234.3,1318.3 1237.0,1318.8 C1239.7,1319.3 1242.3,1319.8 1245.0,1320.3 C1247.7,1320.8 1250.3,1321.2 1253.0,1321.7 C1255.7,1322.2 1258.3,1322.7 1261.0,1323.2 C1263.7,1323.6 1266.3,1324.1 1269.0,1324.6 C1271.7,1325.1 1274.3,1325.5 1277.0,1326.0 C1279.7,1326.5 1282.3,1327.0 1285.0,1327.4 C1287.7,1327.9 1290.3,1328.4 1293.0,1328.8 C1295.7,1329.3 1298.3,1329.7 1301.0,1330.2 C1303.7,1330.7 1307.5,1331.3 1309.0,1331.6 C1310.5,1331.8 1309.8,1331.7 1310.0,1331.8" fill="none" stroke="#333333" stroke-width="5" stroke-linecap="round" stroke-linejoin="round" stroke-dasharray="10 11.6" /><path d="M157.0,1001.6 C158.3,1001.5 162.3,1001.3 165.0,1001.3 C167.7,1001.2 170.3,1001.2 173.0,1001.2 C175.7,1001.1 178.3,1001.2 181.0,1001.2 C183.7,1001.2 186.3,1001.3 189.0,1001.4 C191.7,1001.5 194.3,1001.6 197.0,1001.8 C199.7,1001.9 202.3,1002.1 205.0,1002.3 C207.7,1002.5 210.3,1002.7 213.0,1002.9 C215.7,1003.2 218.3,1003.4 221.0,1003.7 C223.7,1004.0 226.3,1004.3 229.0,1004.7 C231.7,1005.0 234.3,1005.4 237.0,1005.8 C239.7,1006.2 242.3,1006.6 245.0,1007.0 C247.7,1007.4 250.3,1007.9 253.0,1008.3 C255.7,1008.8 258.3,1009.3 261.0,1009.8 C263.7,1010.3 266.3,1010.9 269.0,1011.4 C271.7,1012.0 274.3,1012.5 277.0,1013.1 C279.7,1013.7 282.3,1014.3 285.0,1015.0 C287.7,1015.6 290.3,1016.3 293.0,1016.9 C295.7,1017.6 298.3,1018.3 301.0,1019.0 C303.7,1019.7 306.3,1020.4 309.0,1021.2 C311.7,1021.9 314.3,1022.7 317.0,1023.4 C319.7,1024.2 322.3,1025.0 325.0,1025.8 C327.7,1026.6 330.3,1027.4 333.0,1028.3 C335.7,1029.1 338.3,1030.0 341.0,1030.8 C343.7,1031.7 346.3,1032.6 349.0,1033.5 C351.7,1034.4 354.3,1035.3 357.0,1036.2 C359.7,1037.2 362.3,1038.1 365.0,1039.1 C367.7,1040.0 370.3,1041.0 373.0,1042.0 C375.7,1042.9 378.3,1043.9 381.0,1044.9 C383.7,1045.9 386.3,1046.9 389.0,1048.0 C391.7,1049.0 394.3,1050.0 397.0,1051.1 C399.7,1052.1 402.3,1053.2 405.0,1054.3 C407.7,1055.3 410.3,1056.4 413.0,1057.5 C415.7,1058.6 418.3,1059.7 421.0,1060.8 C423.7,1061.9 426.3,1063.0 429.0,1064.1 C431.7,1065.3 434.3,1066.4 437.0,1067.5 C439.7,1068.7 442.3,1069.8 445.0,1071.0 C447.7,1072.1 450.3,1073.3 453.0,1074.5 C455.7,1075.7 458.3,1076.8 461.0,1078.0 C463.7,1079.2 466.3,1080.4 469.0,1081.6 C471.7,1082.8 474.3,1084.0 477.0,1085.2 C479.7,1086.4 482.3,1087.6 485.0,1088.8 C487.7,1090.0 490.3,1091.2 493.0,1092.5 C495.7,1093.7 498.3,1094.9 501.0,1096.2 C503.7,1097.4 506.3,1098.6 509.0,1099.9 C511.7,1101.1 514.3,1102.3 517.0,1103.6 C519.7,1104.8 522.3,1106.1 525.0,1107.3 C527.7,1108.5 530.3,1109.8 533.0,1111.0 C535.7,1112.3 538.3,1113.5 541.0,1114.8 C543.7,1116.0 546.3,1117.3 549.0,1118.5 C551.7,1119.8 554.3,1121.0 557.0,1122.3 C559.7,1123.5 562.3,1124.8 565.0,1126.0 C567.7,1127.3 570.3,1128.5 573.0,1129.8 C575.7,1131.0 578.3,1132.3 581.0,1133.5 C583.7,1134.7 586.3,1136.0 589.0,1137.2 C591.7,1138.5 594.3,1139.7 597.0,1140.9 C599.7,1142.2 602.3,1143.4 605.0,1144.6 C607.7,1145.9 610.3,1147.1 613.0,1148.3 C615.7,1149.5 618.3,1150.7 621.0,1152.0 C623.7,1153.2 626.3,1154.4 629.0,1155.6 C631.7,1156.8 634.3,1158.0 637.0,1159.2 C639.7,1160.4 642.3,1161.6 645.0,1162.8 C647.7,1164.0 650.3,1165.2 653.0,1166.4 C655.7,1167.6 658.3,1168.7 661.0,1169.9 C663.7,1171.1 666.3,1172.3 669.0,1173.4 C671.7,1174.6 674.3,1175.8 677.0,1176.9 C679.7,1178.1 682.3,1179.2 685.0,1180.4 C687.7,1181.5 690.3,1182.7 693.0,1183.8 C695.7,1185.0 698.3,1186.1 701.0,1187.2 C703.7,1188.4 706.3,1189.5 709.0,1190.6 C711.7,1191.7 714.3,1192.8 717.0,1193.9 C719.7,1195.1 722.3,1196.2 725.0,1197.3 C727.7,1198.4 730.3,1199.4 733.0,1200.5 C735.7,1201.6 738.3,1202.7 741.0,1203.8 C743.7,1204.8 746.3,1205.9 749.0,1207.0 C751.7,1208.0 754.3,1209.1 757.0,1210.1 C759.7,1211.2 762.3,1212.2 765.0,1213.2 C767.7,1214.3 770.3,1215.3 773.0,1216.3 C775.7,1217.3 778.3,1218.3 781.0,1219.3 C783.7,1220.3 786.3,1221.3 789.0,1222.3 C791.7,1223.3 794.3,1224.3 797.0,1225.3 C799.7,1226.3 802.3,1227.2 805.0,1228.2 C807.7,1229.2 810.3,1230.1 813.0,1231.1 C815.7,1232.1 818.3,1233.0 821.0,1233.9 C823.7,1234.9 826.3,1235.8 829.0,1236.8 C831.7,1237.7 834.3,1238.6 837.0,1239.5 C839.7,1240.4 842.3,1241.4 845.0,1242.3 C847.7,1243.2 850.3,1244.1 853.0,1245.0 C855.7,1245.9 858.3,1246.8 861.0,1247.6 C863.7,1248.5 866.3,1249.4 869.0,1250.3 C871.7,1251.2 874.3,1252.0 877.0,1252.9 C879.7,1253.7 882.3,1254.6 885.0,1255.5 C887.7,1256.3 890.3,1257.1 893.0,1258.0 C895.7,1258.8 898.3,1259.7 901.0,1260.5 C903.7,1261.3 906.3,1262.1 909.0,1263.0 C911.7,1263.8 914.3,1264.6 917.0,1265.4 C919.7,1266.2 922.3,1267.0 925.0,1267.8 C927.7,1268.6 930.3,1269.4 933.0,1270.2 C935.7,1271.0 938.3,1271.8 941.0,1272.6 C943.7,1273.3 946.3,1274.1 949.0,1274.9 C951.7,1275.6 954.3,1276.4 957.0,1277.2 C959.7,1277.9 962.3,1278.7 965.0,1279.4 C967.7,1280.2 970.3,1280.9 973.0,1281.7 C975.7,1282.4 978.3,1283.1 981.0,1283.9 C983.7,1284.6 986.3,1285.3 989.0,1286.1 C991.7,1286.8 994.3,1287.5 997.0,1288.2 C999.7,1288.9 1002.3,1289.6 1005.0,1290.4 C1007.7,1291.1 1010.3,1291.8 1013.0,1292.5 C1015.7,1293.2 1018.3,1293.9 1021.0,1294.5 C1023.7,1295.2 1026.3,1295.9 1029.0,1296.6 C1031.7,1297.3 1034.3,1298.0 1037.0,1298.6 C1039.7,1299.3 1042.3,1300.0 1045.0,1300.6 C1047.7,1301.3 1050.3,1302.0 1053.0,1302.6 C1055.7,1303.3 1058.3,1303.9 1061.0,1304.6 C1063.7,1305.2 1066.3,1305.9 1069.0,1306.5 C1071.7,1307.2 1074.3,1307.8 1077.0,1308.5 C1079.7,1309.1 1082.3,1309.7 1085.0,1310.4 C1087.7,1311.0 1090.3,1311.6 1093.0,1312.2 C1095.7,1312.9 1098.3,1313.5 1101.0,1314.1 C1103.7,1314.7 1106.3,1315.3 1109.0,1315.9 C1111.7,1316.5 1114.3,1317.1 1117.0,1317.8 C1119.7,1318.4 1122.3,1319.0 1125.0,1319.6 C1127.7,1320.2 1130.3,1320.7 1133.0,1321.3 C1135.7,1321.9 1138.3,1322.5 1141.0,1323.1 C1143.7,1323.7 1146.3,1324.3 1149.0,1324.9 C1151.7,1325.4 1154.3,1326.0 1157.0,1326.6 C1159.7,1327.2 1162.3,1327.7 1165.0,1328.3 C1167.7,1328.9 1170.3,1329.4 1173.0,1330.0 C1175.7,1330.6 1178.3,1331.1 1181.0,1331.7 C1183.7,1332.2 1186.3,1332.8 1189.0,1333.4 C1191.7,1333.9 1194.3,1334.5 1197.0,1335.0 C1199.7,1335.6 1202.3,1336.1 1205.0,1336.7 C1207.7,1337.2 1210.3,1337.7 1213.0,1338.3 C1215.7,1338.8 1218.3,1339.4 1221.0,1339.9 C1223.7,1340.4 1226.3,1341.0 1229.0,1341.5 C1231.7,1342.0 1234.3,1342.6 1237.0,1343.1 C1239.7,1343.6 1242.3,1344.2 1245.0,1344.7 C1247.7,1345.2 1250.3,1345.7 1253.0,1346.3 C1255.7,1346.8 1258.3,1347.3 1261.0,1347.8 C1263.7,1348.3 1266.3,1348.8 1269.0,1349.4 C1271.7,1349.9 1274.3,1350.4 1277.0,1350.9 C1279.7,1351.4 1282.3,1351.9 1285.0,1352.4 C1287.7,1352.9 1290.3,1353.5 1293.0,1354.0 C1295.7,1354.5 1298.3,1355.0 1301.0,1355.5 C1303.7,1356.0 1307.5,1356.7 1309.0,1357.0 C1310.5,1357.3 1309.8,1357.1 1310.0,1357.2" fill="none" stroke="#FF1A10" stroke-width="6.5" stroke-linecap="round" stroke-linejoin="round" /><path d="M1310.0,1362.1 C1309.8,1362.0 1310.5,1362.1 1309.0,1361.9 C1307.5,1361.6 1303.7,1360.9 1301.0,1360.4 C1298.3,1359.9 1295.7,1359.4 1293.0,1358.9 C1290.3,1358.4 1287.7,1357.9 1285.0,1357.4 C1282.3,1356.9 1279.7,1356.4 1277.0,1355.9 C1274.3,1355.4 1271.7,1354.9 1269.0,1354.4 C1266.3,1353.9 1263.7,1353.4 1261.0,1352.9 C1258.3,1352.4 1255.7,1351.8 1253.0,1351.3 C1250.3,1350.8 1247.7,1350.3 1245.0,1349.8 C1242.3,1349.3 1239.7,1348.8 1237.0,1348.3 C1234.3,1347.8 1231.7,1347.3 1229.0,1346.7 C1226.3,1346.2 1223.7,1345.7 1221.0,1345.2 C1218.3,1344.7 1215.7,1344.2 1213.0,1343.6 C1210.3,1343.1 1207.7,1342.6 1205.0,1342.1 C1202.3,1341.6 1199.7,1341.0 1197.0,1340.5 C1194.3,1340.0 1191.7,1339.4 1189.0,1338.9 C1186.3,1338.4 1183.7,1337.8 1181.0,1337.3 C1178.3,1336.8 1175.7,1336.2 1173.0,1335.7 C1170.3,1335.2 1167.7,1334.6 1165.0,1334.1 C1162.3,1333.5 1159.7,1333.0 1157.0,1332.4 C1154.3,1331.9 1151.7,1331.3 1149.0,1330.8 C1146.3,1330.2 1143.7,1329.7 1141.0,1329.1 C1138.3,1328.6 1135.7,1328.0 1133.0,1327.4 C1130.3,1326.9 1127.7,1326.3 1125.0,1325.7 C1122.3,1325.2 1119.7,1324.6 1117.0,1324.0 C1114.3,1323.4 1111.7,1322.8 1109.0,1322.3 C1106.3,1321.7 1103.7,1321.1 1101.0,1320.5 C1098.3,1319.9 1095.7,1319.3 1093.0,1318.7 C1090.3,1318.1 1087.7,1317.5 1085.0,1316.9 C1082.3,1316.3 1079.7,1315.7 1077.0,1315.1 C1074.3,1314.5 1071.7,1313.9 1069.0,1313.3 C1066.3,1312.7 1063.7,1312.1 1061.0,1311.4 C1058.3,1310.8 1055.7,1310.2 1053.0,1309.5 C1050.3,1308.9 1047.7,1308.3 1045.0,1307.6 C1042.3,1307.0 1039.7,1306.4 1037.0,1305.7 C1034.3,1305.1 1031.7,1304.4 1029.0,1303.8 C1026.3,1303.1 1023.7,1302.4 1021.0,1301.8 C1018.3,1301.1 1015.7,1300.4 1013.0,1299.8 C1010.3,1299.1 1007.7,1298.4 1005.0,1297.7 C1002.3,1297.1 999.7,1296.4 997.0,1295.7 C994.3,1295.0 991.7,1294.3 989.0,1293.6 C986.3,1292.9 983.7,1292.2 981.0,1291.5 C978.3,1290.8 975.7,1290.0 973.0,1289.3 C970.3,1288.6 967.7,1287.9 965.0,1287.1 C962.3,1286.4 959.7,1285.7 957.0,1284.9 C954.3,1284.2 951.7,1283.4 949.0,1282.7 C946.3,1281.9 943.7,1281.2 941.0,1280.4 C938.3,1279.7 935.7,1278.9 933.0,1278.1 C930.3,1277.3 927.7,1276.6 925.0,1275.8 C922.3,1275.0 919.7,1274.2 917.0,1273.4 C914.3,1272.6 911.7,1271.8 909.0,1271.0 C906.3,1270.2 903.7,1269.4 901.0,1268.6 C898.3,1267.7 895.7,1266.9 893.0,1266.1 C890.3,1265.2 887.7,1264.4 885.0,1263.6 C882.3,1262.7 879.7,1261.9 877.0,1261.0 C874.3,1260.1 871.7,1259.3 869.0,1258.4 C866.3,1257.5 863.7,1256.7 861.0,1255.8 C858.3,1254.9 855.7,1254.0 853.0,1253.1 C850.3,1252.2 847.7,1251.3 845.0,1250.4 C842.3,1249.5 839.7,1248.6 837.0,1247.6 C834.3,1246.7 831.7,1245.8 829.0,1244.9 C826.3,1243.9 823.7,1243.0 821.0,1242.0 C818.3,1241.1 815.7,1240.1 813.0,1239.1 C810.3,1238.2 807.7,1237.2 805.0,1236.2 C802.3,1235.2 799.7,1234.2 797.0,1233.2 C794.3,1232.2 791.7,1231.2 789.0,1230.2 C786.3,1229.2 783.7,1228.2 781.0,1227.2 C778.3,1226.1 775.7,1225.1 773.0,1224.1 C770.3,1223.0 767.7,1222.0 765.0,1220.9 C762.3,1219.9 759.7,1218.8 757.0,1217.7 C754.3,1216.6 751.7,1215.6 749.0,1214.5 C746.3,1213.4 743.7,1212.3 741.0,1211.2 C738.3,1210.1 735.7,1208.9 733.0,1207.8 C730.3,1206.7 727.7,1205.6 725.0,1204.4 C722.3,1203.3 719.7,1202.1 717.0,1201.0 C714.3,1199.8 711.7,1198.7 709.0,1197.5 C706.3,1196.3 703.7,1195.2 701.0,1194.0 C698.3,1192.8 695.7,1191.6 693.0,1190.4 C690.3,1189.2 687.7,1188.1 685.0,1186.9 C682.3,1185.6 679.7,1184.4 677.0,1183.2 C674.3,1182.0 671.7,1180.8 669.0,1179.6 C666.3,1178.4 663.7,1177.1 661.0,1175.9 C658.3,1174.7 655.7,1173.4 653.0,1172.2 C650.3,1171.0 647.7,1169.7 645.0,1168.5 C642.3,1167.2 639.7,1166.0 637.0,1164.7 C634.3,1163.5 631.7,1162.2 629.0,1161.0 C626.3,1159.7 623.7,1158.4 621.0,1157.2 C618.3,1155.9 615.7,1154.6 613.0,1153.4 C610.3,1152.1 607.7,1150.8 605.0,1149.6 C602.3,1148.3 599.7,1147.0 597.0,1145.7 C594.3,1144.5 591.7,1143.2 589.0,1141.9 C586.3,1140.6 583.7,1139.3 581.0,1138.1 C578.3,1136.8 575.7,1135.5 573.0,1134.2 C570.3,1132.9 567.7,1131.7 565.0,1130.4 C562.3,1129.1 559.7,1127.8 557.0,1126.5 C554.3,1125.3 551.7,1124.0 549.0,1122.7 C546.3,1121.4 543.7,1120.2 541.0,1118.9 C538.3,1117.6 535.7,1116.3 533.0,1115.1 C530.3,1113.8 527.7,1112.5 525.0,1111.3 C522.3,1110.0 519.7,1108.7 517.0,1107.5 C514.3,1106.2 511.7,1104.9 509.0,1103.7 C506.3,1102.4 503.7,1101.2 501.0,1099.9 C498.3,1098.6 495.7,1097.4 493.0,1096.1 C490.3,1094.9 487.7,1093.7 485.0,1092.4 C482.3,1091.2 479.7,1089.9 477.0,1088.7 C474.3,1087.5 471.7,1086.3 469.0,1085.0 C466.3,1083.8 463.7,1082.6 461.0,1081.4 C458.3,1080.2 455.7,1079.0 453.0,1077.8 C450.3,1076.6 447.7,1075.4 445.0,1074.2 C442.3,1073.0 439.7,1071.8 437.0,1070.6 C434.3,1069.5 431.7,1068.3 429.0,1067.1 C426.3,1066.0 423.7,1064.8 421.0,1063.7 C418.3,1062.5 415.7,1061.4 413.0,1060.2 C410.3,1059.1 407.7,1058.0 405.0,1056.9 C402.3,1055.8 399.7,1054.7 397.0,1053.6 C394.3,1052.5 391.7,1051.4 389.0,1050.3 C386.3,1049.3 383.7,1048.2 381.0,1047.2 C378.3,1046.1 375.7,1045.1 373.0,1044.1 C370.3,1043.0 367.7,1042.0 365.0,1041.0 C362.3,1040.0 359.7,1039.1 357.0,1038.1 C354.3,1037.1 351.7,1036.2 349.0,1035.2 C346.3,1034.3 343.7,1033.3 341.0,1032.4 C338.3,1031.5 335.7,1030.6 333.0,1029.7 C330.3,1028.9 327.7,1028.0 325.0,1027.1 C322.3,1026.3 319.7,1025.5 317.0,1024.6 C314.3,1023.8 311.7,1023.0 309.0,1022.2 C306.3,1021.5 303.7,1020.7 301.0,1019.9 C298.3,1019.2 295.7,1018.5 293.0,1017.8 C290.3,1017.1 287.7,1016.4 285.0,1015.7 C282.3,1015.0 279.7,1014.4 277.0,1013.7 C274.3,1013.1 271.7,1012.5 269.0,1011.9 C266.3,1011.3 263.7,1010.8 261.0,1010.2 C258.3,1009.7 255.7,1009.1 253.0,1008.6 C250.3,1008.1 247.7,1007.7 245.0,1007.2 C242.3,1006.8 239.7,1006.3 237.0,1005.9 C234.3,1005.5 231.7,1005.1 229.0,1004.8 C226.3,1004.4 223.7,1004.1 221.0,1003.7 C218.3,1003.4 215.7,1003.2 213.0,1002.9 C210.3,1002.6 207.7,1002.4 205.0,1002.2 C202.3,1002.0 199.7,1001.8 197.0,1001.6 C194.3,1001.5 191.7,1001.4 189.0,1001.3 C186.3,1001.2 183.7,1001.1 181.0,1001.1 C178.3,1001.0 175.7,1001.0 173.0,1001.0 C170.3,1001.0 167.7,1001.1 165.0,1001.1 C162.3,1001.2 158.3,1001.4 157.0,1001.5" fill="none" stroke="#EEC232" stroke-width="7.2" stroke-linecap="round" stroke-linejoin="round" stroke-dasharray="20.3 30.7" stroke-dashoffset="-3.5"/><path d="M157.0,1001.6 C158.3,1001.5 162.3,1001.3 165.0,1001.3 C167.7,1001.2 170.3,1001.2 173.0,1001.2 C175.7,1001.1 178.3,1001.2 181.0,1001.2 C183.7,1001.2 186.3,1001.3 189.0,1001.4 C191.7,1001.5 194.3,1001.6 197.0,1001.8 C199.7,1001.9 202.3,1002.1 205.0,1002.3 C207.7,1002.5 210.3,1002.7 213.0,1002.9 C215.7,1003.2 218.3,1003.4 221.0,1003.7 C223.7,1004.0 226.3,1004.3 229.0,1004.7 C231.7,1005.0 234.3,1005.4 237.0,1005.8 C239.7,1006.2 242.3,1006.6 245.0,1007.0 C247.7,1007.4 250.3,1007.9 253.0,1008.3 C255.7,1008.8 258.3,1009.3 261.0,1009.8 C263.7,1010.3 266.3,1010.9 269.0,1011.4 C271.7,1012.0 274.3,1012.5 277.0,1013.1 C279.7,1013.7 282.3,1014.3 285.0,1015.0 C287.7,1015.6 290.3,1016.3 293.0,1016.9 C295.7,1017.6 298.3,1018.3 301.0,1019.0 C303.7,1019.7 306.3,1020.4 309.0,1021.2 C311.7,1021.9 314.3,1022.7 317.0,1023.4 C319.7,1024.2 322.3,1025.0 325.0,1025.8 C327.7,1026.6 330.3,1027.4 333.0,1028.3 C335.7,1029.1 338.3,1030.0 341.0,1030.8 C343.7,1031.7 346.3,1032.6 349.0,1033.5 C351.7,1034.4 354.3,1035.3 357.0,1036.2 C359.7,1037.2 362.3,1038.1 365.0,1039.1 C367.7,1040.0 370.3,1041.0 373.0,1042.0 C375.7,1042.9 378.3,1043.9 381.0,1044.9 C383.7,1045.9 386.3,1046.9 389.0,1048.0 C391.7,1049.0 394.3,1050.0 397.0,1051.1 C399.7,1052.1 402.3,1053.2 405.0,1054.3 C407.7,1055.3 410.3,1056.4 413.0,1057.5 C415.7,1058.6 418.3,1059.7 421.0,1060.8 C423.7,1061.9 426.3,1063.0 429.0,1064.1 C431.7,1065.3 434.3,1066.4 437.0,1067.5 C439.7,1068.7 442.3,1069.8 445.0,1071.0 C447.7,1072.1 450.3,1073.3 453.0,1074.5 C455.7,1075.7 458.3,1076.8 461.0,1078.0 C463.7,1079.2 466.3,1080.4 469.0,1081.6 C471.7,1082.8 474.3,1084.0 477.0,1085.2 C479.7,1086.4 482.3,1087.6 485.0,1088.8 C487.7,1090.0 490.3,1091.2 493.0,1092.5 C495.7,1093.7 498.3,1094.9 501.0,1096.2 C503.7,1097.4 506.3,1098.6 509.0,1099.9 C511.7,1101.1 514.3,1102.3 517.0,1103.6 C519.7,1104.8 522.3,1106.1 525.0,1107.3 C527.7,1108.5 530.3,1109.8 533.0,1111.0 C535.7,1112.3 538.3,1113.5 541.0,1114.8 C543.7,1116.0 546.3,1117.3 549.0,1118.5 C551.7,1119.8 554.3,1121.0 557.0,1122.3 C559.7,1123.5 562.3,1124.8 565.0,1126.0 C567.7,1127.3 570.3,1128.5 573.0,1129.8 C575.7,1131.0 578.3,1132.3 581.0,1133.5 C583.7,1134.7 586.3,1136.0 589.0,1137.2 C591.7,1138.5 594.3,1139.7 597.0,1140.9 C599.7,1142.2 602.3,1143.4 605.0,1144.6 C607.7,1145.9 610.3,1147.1 613.0,1148.3 C615.7,1149.5 618.3,1150.7 621.0,1152.0 C623.7,1153.2 626.3,1154.4 629.0,1155.6 C631.7,1156.8 634.3,1158.0 637.0,1159.2 C639.7,1160.4 642.3,1161.6 645.0,1162.8 C647.7,1164.0 650.3,1165.2 653.0,1166.4 C655.7,1167.6 658.3,1168.7 661.0,1169.9 C663.7,1171.1 666.3,1172.3 669.0,1173.4 C671.7,1174.6 674.3,1175.8 677.0,1176.9 C679.7,1178.1 682.3,1179.2 685.0,1180.4 C687.7,1181.5 690.3,1182.7 693.0,1183.8 C695.7,1185.0 698.3,1186.1 701.0,1187.2 C703.7,1188.4 706.3,1189.5 709.0,1190.6 C711.7,1191.7 714.3,1192.8 717.0,1193.9 C719.7,1195.1 722.3,1196.2 725.0,1197.3 C727.7,1198.4 730.3,1199.4 733.0,1200.5 C735.7,1201.6 738.3,1202.7 741.0,1203.8 C743.7,1204.8 746.3,1205.9 749.0,1207.0 C751.7,1208.0 754.3,1209.1 757.0,1210.1 C759.7,1211.2 762.3,1212.2 765.0,1213.2 C767.7,1214.3 770.3,1215.3 773.0,1216.3 C775.7,1217.3 778.3,1218.3 781.0,1219.3 C783.7,1220.3 786.3,1221.3 789.0,1222.3 C791.7,1223.3 794.3,1224.3 797.0,1225.3 C799.7,1226.3 802.3,1227.2 805.0,1228.2 C807.7,1229.2 810.3,1230.1 813.0,1231.1 C815.7,1232.1 818.3,1233.0 821.0,1233.9 C823.7,1234.9 826.3,1235.8 829.0,1236.8 C831.7,1237.7 834.3,1238.6 837.0,1239.5 C839.7,1240.4 842.3,1241.4 845.0,1242.3 C847.7,1243.2 850.3,1244.1 853.0,1245.0 C855.7,1245.9 858.3,1246.8 861.0,1247.6 C863.7,1248.5 866.3,1249.4 869.0,1250.3 C871.7,1251.2 874.3,1252.0 877.0,1252.9 C879.7,1253.7 882.3,1254.6 885.0,1255.5 C887.7,1256.3 890.3,1257.1 893.0,1258.0 C895.7,1258.8 898.3,1259.7 901.0,1260.5 C903.7,1261.3 906.3,1262.1 909.0,1263.0 C911.7,1263.8 914.3,1264.6 917.0,1265.4 C919.7,1266.2 922.3,1267.0 925.0,1267.8 C927.7,1268.6 930.3,1269.4 933.0,1270.2 C935.7,1271.0 938.3,1271.8 941.0,1272.6 C943.7,1273.3 946.3,1274.1 949.0,1274.9 C951.7,1275.6 954.3,1276.4 957.0,1277.2 C959.7,1277.9 962.3,1278.7 965.0,1279.4 C967.7,1280.2 970.3,1280.9 973.0,1281.7 C975.7,1282.4 978.3,1283.1 981.0,1283.9 C983.7,1284.6 986.3,1285.3 989.0,1286.1 C991.7,1286.8 994.3,1287.5 997.0,1288.2 C999.7,1288.9 1002.3,1289.6 1005.0,1290.4 C1007.7,1291.1 1010.3,1291.8 1013.0,1292.5 C1015.7,1293.2 1018.3,1293.9 1021.0,1294.5 C1023.7,1295.2 1026.3,1295.9 1029.0,1296.6 C1031.7,1297.3 1034.3,1298.0 1037.0,1298.6 C1039.7,1299.3 1042.3,1300.0 1045.0,1300.6 C1047.7,1301.3 1050.3,1302.0 1053.0,1302.6 C1055.7,1303.3 1058.3,1303.9 1061.0,1304.6 C1063.7,1305.2 1066.3,1305.9 1069.0,1306.5 C1071.7,1307.2 1074.3,1307.8 1077.0,1308.5 C1079.7,1309.1 1082.3,1309.7 1085.0,1310.4 C1087.7,1311.0 1090.3,1311.6 1093.0,1312.2 C1095.7,1312.9 1098.3,1313.5 1101.0,1314.1 C1103.7,1314.7 1106.3,1315.3 1109.0,1315.9 C1111.7,1316.5 1114.3,1317.1 1117.0,1317.8 C1119.7,1318.4 1122.3,1319.0 1125.0,1319.6 C1127.7,1320.2 1130.3,1320.7 1133.0,1321.3 C1135.7,1321.9 1138.3,1322.5 1141.0,1323.1 C1143.7,1323.7 1146.3,1324.3 1149.0,1324.9 C1151.7,1325.4 1154.3,1326.0 1157.0,1326.6 C1159.7,1327.2 1162.3,1327.7 1165.0,1328.3 C1167.7,1328.9 1170.3,1329.4 1173.0,1330.0 C1175.7,1330.6 1178.3,1331.1 1181.0,1331.7 C1183.7,1332.2 1186.3,1332.8 1189.0,1333.4 C1191.7,1333.9 1194.3,1334.5 1197.0,1335.0 C1199.7,1335.6 1202.3,1336.1 1205.0,1336.7 C1207.7,1337.2 1210.3,1337.7 1213.0,1338.3 C1215.7,1338.8 1218.3,1339.4 1221.0,1339.9 C1223.7,1340.4 1226.3,1341.0 1229.0,1341.5 C1231.7,1342.0 1234.3,1342.6 1237.0,1343.1 C1239.7,1343.6 1242.3,1344.2 1245.0,1344.7 C1247.7,1345.2 1250.3,1345.7 1253.0,1346.3 C1255.7,1346.8 1258.3,1347.3 1261.0,1347.8 C1263.7,1348.3 1266.3,1348.8 1269.0,1349.4 C1271.7,1349.9 1274.3,1350.4 1277.0,1350.9 C1279.7,1351.4 1282.3,1351.9 1285.0,1352.4 C1287.7,1352.9 1290.3,1353.5 1293.0,1354.0 C1295.7,1354.5 1298.3,1355.0 1301.0,1355.5 C1303.7,1356.0 1307.5,1356.7 1309.0,1357.0 C1310.5,1357.3 1309.8,1357.1 1310.0,1357.2" fill="none" stroke="#3A3F44" stroke-width="3.2" stroke-linecap="butt" stroke-linejoin="round" stroke-dasharray="8 5" /><text x="116.2" y="957.0" font-size="35.7" text-anchor="end" >0.40</text><text x="116.2" y="1034.5" font-size="35.7" text-anchor="end" >0.35</text><text x="116.2" y="1112.0" font-size="35.7" text-anchor="end" >0.30</text><text x="116.2" y="1189.5" font-size="35.7" text-anchor="end" >0.25</text><text x="116.2" y="1267.0" font-size="35.7" text-anchor="end" >0.20</text><text x="116.2" y="1344.5" font-size="35.7" text-anchor="end" >0.15</text><text x="116.2" y="1422.0" font-size="35.7" text-anchor="end" >0.10</text><text x="116.2" y="1499.5" font-size="35.7" text-anchor="end" >0.05</text><text x="116.2" y="1577.0" font-size="35.7" text-anchor="end" >0.00</text><text x="157.5" y="1626.9" font-size="35" text-anchor="middle" >2010</text><text x="285.5" y="1626.9" font-size="35" text-anchor="middle" >2020</text><text x="413.5" y="1626.9" font-size="35" text-anchor="middle" >2030</text><text x="541.5" y="1626.9" font-size="35" text-anchor="middle" >2040</text><text x="669.5" y="1626.9" font-size="35" text-anchor="middle" >2050</text><text x="797.5" y="1626.9" font-size="35" text-anchor="middle" >2060</text><text x="925.5" y="1626.9" font-size="35" text-anchor="middle" >2070</text><text x="1053.5" y="1626.9" font-size="35" text-anchor="middle" >2080</text><text x="1181.5" y="1626.9" font-size="35" text-anchor="middle" >2090</text><text x="1309.5" y="1626.9" font-size="35" text-anchor="middle" >2100</text><text transform="translate(33,1296.7) rotate(-90)" font-size="35">Wm<tspan font-size="22" dy="-14">-2</tspan></text><text x="1234" y="983.9" font-size="53" text-anchor="start" textLength="32.5" lengthAdjust="spacingAndGlyphs" font-weight="bold" >B</text><rect x="135" y="1658.8" width="49" height="14.5" fill="#F2E5D7"/><text x="190.7" y="1673.8" font-size="23.2" text-anchor="start" textLength="172.7" lengthAdjust="spacingAndGlyphs" >Non-Feedstocks</text><rect x="429.6" y="1658.8" width="49" height="14.5" fill="#5177C8"/><text x="485.3" y="1673.8" font-size="23.2" text-anchor="start" textLength="47.1" lengthAdjust="spacingAndGlyphs" >CCl4</text><rect x="726" y="1658.8" width="49" height="14.5" fill="#F84C55"/><text x="779.9" y="1673.8" font-size="23.2" text-anchor="start" textLength="91.5" lengthAdjust="spacingAndGlyphs" >CH3CCl3</text><rect x="1020.7" y="1658.8" width="49" height="14.5" fill="#E37B3A"/><text x="1074.2" y="1673.8" font-size="23.2" text-anchor="start" textLength="111.1" lengthAdjust="spacingAndGlyphs" >CFC-113/a</text><rect x="135" y="1691" width="49" height="14.5" fill="#E8E8E8"/><text x="190.7" y="1706.0" font-size="23.2" text-anchor="start" textLength="111" lengthAdjust="spacingAndGlyphs" >CFC-114/a</text><rect x="429.6" y="1691" width="49" height="14.5" fill="#5BC2EE"/><text x="485.3" y="1706.0" font-size="23.2" text-anchor="start" textLength="88" lengthAdjust="spacingAndGlyphs" >CFC-115</text><rect x="726" y="1691" width="49" height="14.5" fill="#6AA2D7"/><text x="779.9" y="1706.0" font-size="23.2" text-anchor="start" textLength="91.5" lengthAdjust="spacingAndGlyphs" >HCFC-22</text><rect x="1020.7" y="1691" width="49" height="14.5" fill="#000000"/><text x="1074.2" y="1706.0" font-size="23.2" text-anchor="start" textLength="105.6" lengthAdjust="spacingAndGlyphs" >HCFC-124</text><rect x="135" y="1723.5" width="49" height="14.5" fill="#A04C1E"/><text x="190.7" y="1738.5" font-size="23.2" text-anchor="start" textLength="119.3" lengthAdjust="spacingAndGlyphs" >HCFC-141b</text><rect x="429.6" y="1723.5" width="49" height="14.5" fill="#646464"/><text x="485.3" y="1738.5" font-size="23.2" text-anchor="start" textLength="118.5" lengthAdjust="spacingAndGlyphs" >HCFC-142b</text><rect x="726" y="1723.5" width="49" height="14.5" fill="#7AB64A"/><text x="779.9" y="1738.5" font-size="23.2" text-anchor="start" textLength="77.8" lengthAdjust="spacingAndGlyphs" >H-1301</text><line x1="1018.7" y1="1730.7" x2="1069.7" y2="1730.7" stroke="#3C3C3C" stroke-width="6.5" stroke-linecap="round"/><text x="1074.2" y="1738.5" font-size="23.2" text-anchor="start" textLength="45.6" lengthAdjust="spacingAndGlyphs" >BAU</text><line x1="134" y1="1762.9" x2="185" y2="1762.9" stroke="#FF1A10" stroke-width="7" stroke-linecap="round"/><text x="190.7" y="1770.7" font-size="23.2" text-anchor="start" textLength="51" lengthAdjust="spacingAndGlyphs" >LOW</text><line x1="428.6" y1="1762.9" x2="453.6" y2="1762.9" stroke="#EEC232" stroke-width="7" stroke-linecap="round"/><text x="485.3" y="1770.7" font-size="23.2" text-anchor="start" textLength="56.3" lengthAdjust="spacingAndGlyphs" >ZERO</text></svg></body></html>
